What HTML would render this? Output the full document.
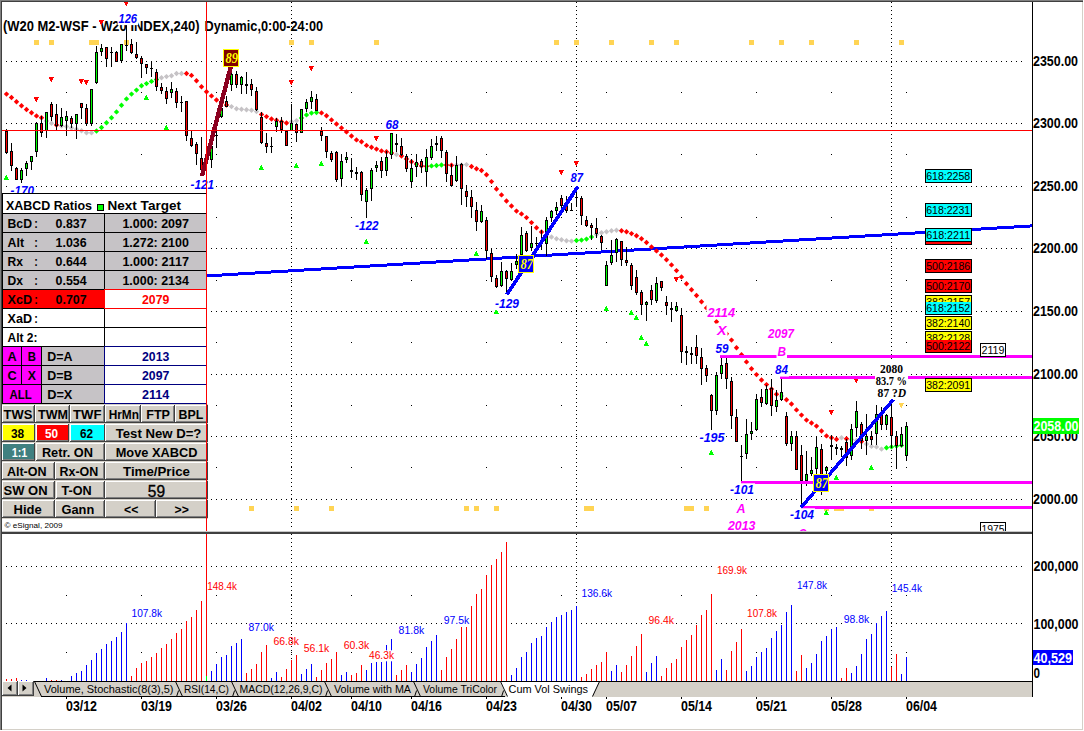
<!DOCTYPE html><html><head><meta charset="utf-8"><title>chart</title><style>html,body{margin:0;padding:0;background:#fff}svg text{white-space:pre}</style></head><body><svg width="1084" height="731" viewBox="0 0 1084 731" style="display:block">
<defs><clipPath id="pp"><rect x="2" y="2" width="1030" height="529"/></clipPath><clipPath id="vp"><rect x="2" y="534" width="1030" height="147"/></clipPath></defs>
<rect x="0" y="0" width="1084" height="731" fill="#fff" />
<g shape-rendering="crispEdges">
<g clip-path="url(#pp)">
<text x="3" y="30.8" font-family='"Liberation Sans",sans-serif' font-size="14.2" font-weight="bold" font-style="normal" fill="#000" text-anchor="start" textLength="196.5" lengthAdjust="spacingAndGlyphs" >(W20 M2-WSF - W20 INDEX,240)</text>
<text x="204.5" y="30.8" font-family='"Liberation Sans",sans-serif' font-size="14.2" font-weight="bold" font-style="normal" fill="#000" text-anchor="start" textLength="118.5" lengthAdjust="spacingAndGlyphs" >Dynamic,0:00-24:00</text>
<path fill="#000" d="M6 61h1v1h-1zM11 61h1v1h-1zM16 61h1v1h-1zM21 61h1v1h-1zM26 61h1v1h-1zM31 61h1v1h-1zM36 61h1v1h-1zM41 61h1v1h-1zM46 61h1v1h-1zM51 61h1v1h-1zM56 61h1v1h-1zM61 61h1v1h-1zM66 61h1v1h-1zM71 61h1v1h-1zM76 61h1v1h-1zM81 61h1v1h-1zM86 61h1v1h-1zM91 61h1v1h-1zM96 61h1v1h-1zM101 61h1v1h-1zM106 61h1v1h-1zM111 61h1v1h-1zM116 61h1v1h-1zM121 61h1v1h-1zM126 61h1v1h-1zM131 61h1v1h-1zM136 61h1v1h-1zM141 61h1v1h-1zM146 61h1v1h-1zM151 61h1v1h-1zM156 61h1v1h-1zM161 61h1v1h-1zM166 61h1v1h-1zM171 61h1v1h-1zM176 61h1v1h-1zM181 61h1v1h-1zM186 61h1v1h-1zM191 61h1v1h-1zM196 61h1v1h-1zM201 61h1v1h-1zM206 61h1v1h-1zM211 61h1v1h-1zM216 61h1v1h-1zM221 61h1v1h-1zM226 61h1v1h-1zM231 61h1v1h-1zM236 61h1v1h-1zM241 61h1v1h-1zM246 61h1v1h-1zM251 61h1v1h-1zM256 61h1v1h-1zM261 61h1v1h-1zM266 61h1v1h-1zM271 61h1v1h-1zM276 61h1v1h-1zM281 61h1v1h-1zM286 61h1v1h-1zM291 61h1v1h-1zM296 61h1v1h-1zM301 61h1v1h-1zM306 61h1v1h-1zM311 61h1v1h-1zM316 61h1v1h-1zM321 61h1v1h-1zM326 61h1v1h-1zM331 61h1v1h-1zM336 61h1v1h-1zM341 61h1v1h-1zM346 61h1v1h-1zM351 61h1v1h-1zM356 61h1v1h-1zM361 61h1v1h-1zM366 61h1v1h-1zM371 61h1v1h-1zM376 61h1v1h-1zM381 61h1v1h-1zM386 61h1v1h-1zM391 61h1v1h-1zM396 61h1v1h-1zM401 61h1v1h-1zM406 61h1v1h-1zM411 61h1v1h-1zM416 61h1v1h-1zM421 61h1v1h-1zM426 61h1v1h-1zM431 61h1v1h-1zM436 61h1v1h-1zM441 61h1v1h-1zM446 61h1v1h-1zM451 61h1v1h-1zM456 61h1v1h-1zM461 61h1v1h-1zM466 61h1v1h-1zM471 61h1v1h-1zM476 61h1v1h-1zM481 61h1v1h-1zM486 61h1v1h-1zM491 61h1v1h-1zM496 61h1v1h-1zM501 61h1v1h-1zM506 61h1v1h-1zM511 61h1v1h-1zM516 61h1v1h-1zM521 61h1v1h-1zM526 61h1v1h-1zM531 61h1v1h-1zM536 61h1v1h-1zM541 61h1v1h-1zM546 61h1v1h-1zM551 61h1v1h-1zM556 61h1v1h-1zM561 61h1v1h-1zM566 61h1v1h-1zM571 61h1v1h-1zM576 61h1v1h-1zM581 61h1v1h-1zM586 61h1v1h-1zM591 61h1v1h-1zM596 61h1v1h-1zM601 61h1v1h-1zM606 61h1v1h-1zM611 61h1v1h-1zM616 61h1v1h-1zM621 61h1v1h-1zM626 61h1v1h-1zM631 61h1v1h-1zM636 61h1v1h-1zM641 61h1v1h-1zM646 61h1v1h-1zM651 61h1v1h-1zM656 61h1v1h-1zM661 61h1v1h-1zM666 61h1v1h-1zM671 61h1v1h-1zM676 61h1v1h-1zM681 61h1v1h-1zM686 61h1v1h-1zM691 61h1v1h-1zM696 61h1v1h-1zM701 61h1v1h-1zM706 61h1v1h-1zM711 61h1v1h-1zM716 61h1v1h-1zM721 61h1v1h-1zM726 61h1v1h-1zM731 61h1v1h-1zM736 61h1v1h-1zM741 61h1v1h-1zM746 61h1v1h-1zM751 61h1v1h-1zM756 61h1v1h-1zM761 61h1v1h-1zM766 61h1v1h-1zM771 61h1v1h-1zM776 61h1v1h-1zM781 61h1v1h-1zM786 61h1v1h-1zM791 61h1v1h-1zM796 61h1v1h-1zM801 61h1v1h-1zM806 61h1v1h-1zM811 61h1v1h-1zM816 61h1v1h-1zM821 61h1v1h-1zM826 61h1v1h-1zM831 61h1v1h-1zM836 61h1v1h-1zM841 61h1v1h-1zM846 61h1v1h-1zM851 61h1v1h-1zM856 61h1v1h-1zM861 61h1v1h-1zM866 61h1v1h-1zM871 61h1v1h-1zM876 61h1v1h-1zM881 61h1v1h-1zM886 61h1v1h-1zM891 61h1v1h-1zM896 61h1v1h-1zM901 61h1v1h-1zM906 61h1v1h-1zM911 61h1v1h-1zM916 61h1v1h-1zM921 61h1v1h-1zM926 61h1v1h-1zM931 61h1v1h-1zM936 61h1v1h-1zM941 61h1v1h-1zM946 61h1v1h-1zM951 61h1v1h-1zM956 61h1v1h-1zM961 61h1v1h-1zM966 61h1v1h-1zM971 61h1v1h-1zM976 61h1v1h-1zM981 61h1v1h-1zM986 61h1v1h-1zM991 61h1v1h-1zM996 61h1v1h-1zM1001 61h1v1h-1zM1006 61h1v1h-1zM1011 61h1v1h-1zM1016 61h1v1h-1zM1021 61h1v1h-1zM6 123h1v1h-1zM11 123h1v1h-1zM16 123h1v1h-1zM21 123h1v1h-1zM26 123h1v1h-1zM31 123h1v1h-1zM36 123h1v1h-1zM41 123h1v1h-1zM46 123h1v1h-1zM51 123h1v1h-1zM56 123h1v1h-1zM61 123h1v1h-1zM66 123h1v1h-1zM71 123h1v1h-1zM76 123h1v1h-1zM81 123h1v1h-1zM86 123h1v1h-1zM91 123h1v1h-1zM96 123h1v1h-1zM101 123h1v1h-1zM106 123h1v1h-1zM111 123h1v1h-1zM116 123h1v1h-1zM121 123h1v1h-1zM126 123h1v1h-1zM131 123h1v1h-1zM136 123h1v1h-1zM141 123h1v1h-1zM146 123h1v1h-1zM151 123h1v1h-1zM156 123h1v1h-1zM161 123h1v1h-1zM166 123h1v1h-1zM171 123h1v1h-1zM176 123h1v1h-1zM181 123h1v1h-1zM186 123h1v1h-1zM191 123h1v1h-1zM196 123h1v1h-1zM201 123h1v1h-1zM206 123h1v1h-1zM211 123h1v1h-1zM216 123h1v1h-1zM221 123h1v1h-1zM226 123h1v1h-1zM231 123h1v1h-1zM236 123h1v1h-1zM241 123h1v1h-1zM246 123h1v1h-1zM251 123h1v1h-1zM256 123h1v1h-1zM261 123h1v1h-1zM266 123h1v1h-1zM271 123h1v1h-1zM276 123h1v1h-1zM281 123h1v1h-1zM286 123h1v1h-1zM291 123h1v1h-1zM296 123h1v1h-1zM301 123h1v1h-1zM306 123h1v1h-1zM311 123h1v1h-1zM316 123h1v1h-1zM321 123h1v1h-1zM326 123h1v1h-1zM331 123h1v1h-1zM336 123h1v1h-1zM341 123h1v1h-1zM346 123h1v1h-1zM351 123h1v1h-1zM356 123h1v1h-1zM361 123h1v1h-1zM366 123h1v1h-1zM371 123h1v1h-1zM376 123h1v1h-1zM381 123h1v1h-1zM386 123h1v1h-1zM391 123h1v1h-1zM396 123h1v1h-1zM401 123h1v1h-1zM406 123h1v1h-1zM411 123h1v1h-1zM416 123h1v1h-1zM421 123h1v1h-1zM426 123h1v1h-1zM431 123h1v1h-1zM436 123h1v1h-1zM441 123h1v1h-1zM446 123h1v1h-1zM451 123h1v1h-1zM456 123h1v1h-1zM461 123h1v1h-1zM466 123h1v1h-1zM471 123h1v1h-1zM476 123h1v1h-1zM481 123h1v1h-1zM486 123h1v1h-1zM491 123h1v1h-1zM496 123h1v1h-1zM501 123h1v1h-1zM506 123h1v1h-1zM511 123h1v1h-1zM516 123h1v1h-1zM521 123h1v1h-1zM526 123h1v1h-1zM531 123h1v1h-1zM536 123h1v1h-1zM541 123h1v1h-1zM546 123h1v1h-1zM551 123h1v1h-1zM556 123h1v1h-1zM561 123h1v1h-1zM566 123h1v1h-1zM571 123h1v1h-1zM576 123h1v1h-1zM581 123h1v1h-1zM586 123h1v1h-1zM591 123h1v1h-1zM596 123h1v1h-1zM601 123h1v1h-1zM606 123h1v1h-1zM611 123h1v1h-1zM616 123h1v1h-1zM621 123h1v1h-1zM626 123h1v1h-1zM631 123h1v1h-1zM636 123h1v1h-1zM641 123h1v1h-1zM646 123h1v1h-1zM651 123h1v1h-1zM656 123h1v1h-1zM661 123h1v1h-1zM666 123h1v1h-1zM671 123h1v1h-1zM676 123h1v1h-1zM681 123h1v1h-1zM686 123h1v1h-1zM691 123h1v1h-1zM696 123h1v1h-1zM701 123h1v1h-1zM706 123h1v1h-1zM711 123h1v1h-1zM716 123h1v1h-1zM721 123h1v1h-1zM726 123h1v1h-1zM731 123h1v1h-1zM736 123h1v1h-1zM741 123h1v1h-1zM746 123h1v1h-1zM751 123h1v1h-1zM756 123h1v1h-1zM761 123h1v1h-1zM766 123h1v1h-1zM771 123h1v1h-1zM776 123h1v1h-1zM781 123h1v1h-1zM786 123h1v1h-1zM791 123h1v1h-1zM796 123h1v1h-1zM801 123h1v1h-1zM806 123h1v1h-1zM811 123h1v1h-1zM816 123h1v1h-1zM821 123h1v1h-1zM826 123h1v1h-1zM831 123h1v1h-1zM836 123h1v1h-1zM841 123h1v1h-1zM846 123h1v1h-1zM851 123h1v1h-1zM856 123h1v1h-1zM861 123h1v1h-1zM866 123h1v1h-1zM871 123h1v1h-1zM876 123h1v1h-1zM881 123h1v1h-1zM886 123h1v1h-1zM891 123h1v1h-1zM896 123h1v1h-1zM901 123h1v1h-1zM906 123h1v1h-1zM911 123h1v1h-1zM916 123h1v1h-1zM921 123h1v1h-1zM926 123h1v1h-1zM931 123h1v1h-1zM936 123h1v1h-1zM941 123h1v1h-1zM946 123h1v1h-1zM951 123h1v1h-1zM956 123h1v1h-1zM961 123h1v1h-1zM966 123h1v1h-1zM971 123h1v1h-1zM976 123h1v1h-1zM981 123h1v1h-1zM986 123h1v1h-1zM991 123h1v1h-1zM996 123h1v1h-1zM1001 123h1v1h-1zM1006 123h1v1h-1zM1011 123h1v1h-1zM1016 123h1v1h-1zM1021 123h1v1h-1zM6 186h1v1h-1zM11 186h1v1h-1zM16 186h1v1h-1zM21 186h1v1h-1zM26 186h1v1h-1zM31 186h1v1h-1zM36 186h1v1h-1zM41 186h1v1h-1zM46 186h1v1h-1zM51 186h1v1h-1zM56 186h1v1h-1zM61 186h1v1h-1zM66 186h1v1h-1zM71 186h1v1h-1zM76 186h1v1h-1zM81 186h1v1h-1zM86 186h1v1h-1zM91 186h1v1h-1zM96 186h1v1h-1zM101 186h1v1h-1zM106 186h1v1h-1zM111 186h1v1h-1zM116 186h1v1h-1zM121 186h1v1h-1zM126 186h1v1h-1zM131 186h1v1h-1zM136 186h1v1h-1zM141 186h1v1h-1zM146 186h1v1h-1zM151 186h1v1h-1zM156 186h1v1h-1zM161 186h1v1h-1zM166 186h1v1h-1zM171 186h1v1h-1zM176 186h1v1h-1zM181 186h1v1h-1zM186 186h1v1h-1zM191 186h1v1h-1zM196 186h1v1h-1zM201 186h1v1h-1zM206 186h1v1h-1zM211 186h1v1h-1zM216 186h1v1h-1zM221 186h1v1h-1zM226 186h1v1h-1zM231 186h1v1h-1zM236 186h1v1h-1zM241 186h1v1h-1zM246 186h1v1h-1zM251 186h1v1h-1zM256 186h1v1h-1zM261 186h1v1h-1zM266 186h1v1h-1zM271 186h1v1h-1zM276 186h1v1h-1zM281 186h1v1h-1zM286 186h1v1h-1zM291 186h1v1h-1zM296 186h1v1h-1zM301 186h1v1h-1zM306 186h1v1h-1zM311 186h1v1h-1zM316 186h1v1h-1zM321 186h1v1h-1zM326 186h1v1h-1zM331 186h1v1h-1zM336 186h1v1h-1zM341 186h1v1h-1zM346 186h1v1h-1zM351 186h1v1h-1zM356 186h1v1h-1zM361 186h1v1h-1zM366 186h1v1h-1zM371 186h1v1h-1zM376 186h1v1h-1zM381 186h1v1h-1zM386 186h1v1h-1zM391 186h1v1h-1zM396 186h1v1h-1zM401 186h1v1h-1zM406 186h1v1h-1zM411 186h1v1h-1zM416 186h1v1h-1zM421 186h1v1h-1zM426 186h1v1h-1zM431 186h1v1h-1zM436 186h1v1h-1zM441 186h1v1h-1zM446 186h1v1h-1zM451 186h1v1h-1zM456 186h1v1h-1zM461 186h1v1h-1zM466 186h1v1h-1zM471 186h1v1h-1zM476 186h1v1h-1zM481 186h1v1h-1zM486 186h1v1h-1zM491 186h1v1h-1zM496 186h1v1h-1zM501 186h1v1h-1zM506 186h1v1h-1zM511 186h1v1h-1zM516 186h1v1h-1zM521 186h1v1h-1zM526 186h1v1h-1zM531 186h1v1h-1zM536 186h1v1h-1zM541 186h1v1h-1zM546 186h1v1h-1zM551 186h1v1h-1zM556 186h1v1h-1zM561 186h1v1h-1zM566 186h1v1h-1zM571 186h1v1h-1zM576 186h1v1h-1zM581 186h1v1h-1zM586 186h1v1h-1zM591 186h1v1h-1zM596 186h1v1h-1zM601 186h1v1h-1zM606 186h1v1h-1zM611 186h1v1h-1zM616 186h1v1h-1zM621 186h1v1h-1zM626 186h1v1h-1zM631 186h1v1h-1zM636 186h1v1h-1zM641 186h1v1h-1zM646 186h1v1h-1zM651 186h1v1h-1zM656 186h1v1h-1zM661 186h1v1h-1zM666 186h1v1h-1zM671 186h1v1h-1zM676 186h1v1h-1zM681 186h1v1h-1zM686 186h1v1h-1zM691 186h1v1h-1zM696 186h1v1h-1zM701 186h1v1h-1zM706 186h1v1h-1zM711 186h1v1h-1zM716 186h1v1h-1zM721 186h1v1h-1zM726 186h1v1h-1zM731 186h1v1h-1zM736 186h1v1h-1zM741 186h1v1h-1zM746 186h1v1h-1zM751 186h1v1h-1zM756 186h1v1h-1zM761 186h1v1h-1zM766 186h1v1h-1zM771 186h1v1h-1zM776 186h1v1h-1zM781 186h1v1h-1zM786 186h1v1h-1zM791 186h1v1h-1zM796 186h1v1h-1zM801 186h1v1h-1zM806 186h1v1h-1zM811 186h1v1h-1zM816 186h1v1h-1zM821 186h1v1h-1zM826 186h1v1h-1zM831 186h1v1h-1zM836 186h1v1h-1zM841 186h1v1h-1zM846 186h1v1h-1zM851 186h1v1h-1zM856 186h1v1h-1zM861 186h1v1h-1zM866 186h1v1h-1zM871 186h1v1h-1zM876 186h1v1h-1zM881 186h1v1h-1zM886 186h1v1h-1zM891 186h1v1h-1zM896 186h1v1h-1zM901 186h1v1h-1zM906 186h1v1h-1zM911 186h1v1h-1zM916 186h1v1h-1zM921 186h1v1h-1zM926 186h1v1h-1zM931 186h1v1h-1zM936 186h1v1h-1zM941 186h1v1h-1zM946 186h1v1h-1zM951 186h1v1h-1zM956 186h1v1h-1zM961 186h1v1h-1zM966 186h1v1h-1zM971 186h1v1h-1zM976 186h1v1h-1zM981 186h1v1h-1zM986 186h1v1h-1zM991 186h1v1h-1zM996 186h1v1h-1zM1001 186h1v1h-1zM1006 186h1v1h-1zM1011 186h1v1h-1zM1016 186h1v1h-1zM1021 186h1v1h-1zM6 248h1v1h-1zM11 248h1v1h-1zM16 248h1v1h-1zM21 248h1v1h-1zM26 248h1v1h-1zM31 248h1v1h-1zM36 248h1v1h-1zM41 248h1v1h-1zM46 248h1v1h-1zM51 248h1v1h-1zM56 248h1v1h-1zM61 248h1v1h-1zM66 248h1v1h-1zM71 248h1v1h-1zM76 248h1v1h-1zM81 248h1v1h-1zM86 248h1v1h-1zM91 248h1v1h-1zM96 248h1v1h-1zM101 248h1v1h-1zM106 248h1v1h-1zM111 248h1v1h-1zM116 248h1v1h-1zM121 248h1v1h-1zM126 248h1v1h-1zM131 248h1v1h-1zM136 248h1v1h-1zM141 248h1v1h-1zM146 248h1v1h-1zM151 248h1v1h-1zM156 248h1v1h-1zM161 248h1v1h-1zM166 248h1v1h-1zM171 248h1v1h-1zM176 248h1v1h-1zM181 248h1v1h-1zM186 248h1v1h-1zM191 248h1v1h-1zM196 248h1v1h-1zM201 248h1v1h-1zM206 248h1v1h-1zM211 248h1v1h-1zM216 248h1v1h-1zM221 248h1v1h-1zM226 248h1v1h-1zM231 248h1v1h-1zM236 248h1v1h-1zM241 248h1v1h-1zM246 248h1v1h-1zM251 248h1v1h-1zM256 248h1v1h-1zM261 248h1v1h-1zM266 248h1v1h-1zM271 248h1v1h-1zM276 248h1v1h-1zM281 248h1v1h-1zM286 248h1v1h-1zM291 248h1v1h-1zM296 248h1v1h-1zM301 248h1v1h-1zM306 248h1v1h-1zM311 248h1v1h-1zM316 248h1v1h-1zM321 248h1v1h-1zM326 248h1v1h-1zM331 248h1v1h-1zM336 248h1v1h-1zM341 248h1v1h-1zM346 248h1v1h-1zM351 248h1v1h-1zM356 248h1v1h-1zM361 248h1v1h-1zM366 248h1v1h-1zM371 248h1v1h-1zM376 248h1v1h-1zM381 248h1v1h-1zM386 248h1v1h-1zM391 248h1v1h-1zM396 248h1v1h-1zM401 248h1v1h-1zM406 248h1v1h-1zM411 248h1v1h-1zM416 248h1v1h-1zM421 248h1v1h-1zM426 248h1v1h-1zM431 248h1v1h-1zM436 248h1v1h-1zM441 248h1v1h-1zM446 248h1v1h-1zM451 248h1v1h-1zM456 248h1v1h-1zM461 248h1v1h-1zM466 248h1v1h-1zM471 248h1v1h-1zM476 248h1v1h-1zM481 248h1v1h-1zM486 248h1v1h-1zM491 248h1v1h-1zM496 248h1v1h-1zM501 248h1v1h-1zM506 248h1v1h-1zM511 248h1v1h-1zM516 248h1v1h-1zM521 248h1v1h-1zM526 248h1v1h-1zM531 248h1v1h-1zM536 248h1v1h-1zM541 248h1v1h-1zM546 248h1v1h-1zM551 248h1v1h-1zM556 248h1v1h-1zM561 248h1v1h-1zM566 248h1v1h-1zM571 248h1v1h-1zM576 248h1v1h-1zM581 248h1v1h-1zM586 248h1v1h-1zM591 248h1v1h-1zM596 248h1v1h-1zM601 248h1v1h-1zM606 248h1v1h-1zM611 248h1v1h-1zM616 248h1v1h-1zM621 248h1v1h-1zM626 248h1v1h-1zM631 248h1v1h-1zM636 248h1v1h-1zM641 248h1v1h-1zM646 248h1v1h-1zM651 248h1v1h-1zM656 248h1v1h-1zM661 248h1v1h-1zM666 248h1v1h-1zM671 248h1v1h-1zM676 248h1v1h-1zM681 248h1v1h-1zM686 248h1v1h-1zM691 248h1v1h-1zM696 248h1v1h-1zM701 248h1v1h-1zM706 248h1v1h-1zM711 248h1v1h-1zM716 248h1v1h-1zM721 248h1v1h-1zM726 248h1v1h-1zM731 248h1v1h-1zM736 248h1v1h-1zM741 248h1v1h-1zM746 248h1v1h-1zM751 248h1v1h-1zM756 248h1v1h-1zM761 248h1v1h-1zM766 248h1v1h-1zM771 248h1v1h-1zM776 248h1v1h-1zM781 248h1v1h-1zM786 248h1v1h-1zM791 248h1v1h-1zM796 248h1v1h-1zM801 248h1v1h-1zM806 248h1v1h-1zM811 248h1v1h-1zM816 248h1v1h-1zM821 248h1v1h-1zM826 248h1v1h-1zM831 248h1v1h-1zM836 248h1v1h-1zM841 248h1v1h-1zM846 248h1v1h-1zM851 248h1v1h-1zM856 248h1v1h-1zM861 248h1v1h-1zM866 248h1v1h-1zM871 248h1v1h-1zM876 248h1v1h-1zM881 248h1v1h-1zM886 248h1v1h-1zM891 248h1v1h-1zM896 248h1v1h-1zM901 248h1v1h-1zM906 248h1v1h-1zM911 248h1v1h-1zM916 248h1v1h-1zM921 248h1v1h-1zM926 248h1v1h-1zM931 248h1v1h-1zM936 248h1v1h-1zM941 248h1v1h-1zM946 248h1v1h-1zM951 248h1v1h-1zM956 248h1v1h-1zM961 248h1v1h-1zM966 248h1v1h-1zM971 248h1v1h-1zM976 248h1v1h-1zM981 248h1v1h-1zM986 248h1v1h-1zM991 248h1v1h-1zM996 248h1v1h-1zM1001 248h1v1h-1zM1006 248h1v1h-1zM1011 248h1v1h-1zM1016 248h1v1h-1zM1021 248h1v1h-1zM6 311h1v1h-1zM11 311h1v1h-1zM16 311h1v1h-1zM21 311h1v1h-1zM26 311h1v1h-1zM31 311h1v1h-1zM36 311h1v1h-1zM41 311h1v1h-1zM46 311h1v1h-1zM51 311h1v1h-1zM56 311h1v1h-1zM61 311h1v1h-1zM66 311h1v1h-1zM71 311h1v1h-1zM76 311h1v1h-1zM81 311h1v1h-1zM86 311h1v1h-1zM91 311h1v1h-1zM96 311h1v1h-1zM101 311h1v1h-1zM106 311h1v1h-1zM111 311h1v1h-1zM116 311h1v1h-1zM121 311h1v1h-1zM126 311h1v1h-1zM131 311h1v1h-1zM136 311h1v1h-1zM141 311h1v1h-1zM146 311h1v1h-1zM151 311h1v1h-1zM156 311h1v1h-1zM161 311h1v1h-1zM166 311h1v1h-1zM171 311h1v1h-1zM176 311h1v1h-1zM181 311h1v1h-1zM186 311h1v1h-1zM191 311h1v1h-1zM196 311h1v1h-1zM201 311h1v1h-1zM206 311h1v1h-1zM211 311h1v1h-1zM216 311h1v1h-1zM221 311h1v1h-1zM226 311h1v1h-1zM231 311h1v1h-1zM236 311h1v1h-1zM241 311h1v1h-1zM246 311h1v1h-1zM251 311h1v1h-1zM256 311h1v1h-1zM261 311h1v1h-1zM266 311h1v1h-1zM271 311h1v1h-1zM276 311h1v1h-1zM281 311h1v1h-1zM286 311h1v1h-1zM291 311h1v1h-1zM296 311h1v1h-1zM301 311h1v1h-1zM306 311h1v1h-1zM311 311h1v1h-1zM316 311h1v1h-1zM321 311h1v1h-1zM326 311h1v1h-1zM331 311h1v1h-1zM336 311h1v1h-1zM341 311h1v1h-1zM346 311h1v1h-1zM351 311h1v1h-1zM356 311h1v1h-1zM361 311h1v1h-1zM366 311h1v1h-1zM371 311h1v1h-1zM376 311h1v1h-1zM381 311h1v1h-1zM386 311h1v1h-1zM391 311h1v1h-1zM396 311h1v1h-1zM401 311h1v1h-1zM406 311h1v1h-1zM411 311h1v1h-1zM416 311h1v1h-1zM421 311h1v1h-1zM426 311h1v1h-1zM431 311h1v1h-1zM436 311h1v1h-1zM441 311h1v1h-1zM446 311h1v1h-1zM451 311h1v1h-1zM456 311h1v1h-1zM461 311h1v1h-1zM466 311h1v1h-1zM471 311h1v1h-1zM476 311h1v1h-1zM481 311h1v1h-1zM486 311h1v1h-1zM491 311h1v1h-1zM496 311h1v1h-1zM501 311h1v1h-1zM506 311h1v1h-1zM511 311h1v1h-1zM516 311h1v1h-1zM521 311h1v1h-1zM526 311h1v1h-1zM531 311h1v1h-1zM536 311h1v1h-1zM541 311h1v1h-1zM546 311h1v1h-1zM551 311h1v1h-1zM556 311h1v1h-1zM561 311h1v1h-1zM566 311h1v1h-1zM571 311h1v1h-1zM576 311h1v1h-1zM581 311h1v1h-1zM586 311h1v1h-1zM591 311h1v1h-1zM596 311h1v1h-1zM601 311h1v1h-1zM606 311h1v1h-1zM611 311h1v1h-1zM616 311h1v1h-1zM621 311h1v1h-1zM626 311h1v1h-1zM631 311h1v1h-1zM636 311h1v1h-1zM641 311h1v1h-1zM646 311h1v1h-1zM651 311h1v1h-1zM656 311h1v1h-1zM661 311h1v1h-1zM666 311h1v1h-1zM671 311h1v1h-1zM676 311h1v1h-1zM681 311h1v1h-1zM686 311h1v1h-1zM691 311h1v1h-1zM696 311h1v1h-1zM701 311h1v1h-1zM706 311h1v1h-1zM711 311h1v1h-1zM716 311h1v1h-1zM721 311h1v1h-1zM726 311h1v1h-1zM731 311h1v1h-1zM736 311h1v1h-1zM741 311h1v1h-1zM746 311h1v1h-1zM751 311h1v1h-1zM756 311h1v1h-1zM761 311h1v1h-1zM766 311h1v1h-1zM771 311h1v1h-1zM776 311h1v1h-1zM781 311h1v1h-1zM786 311h1v1h-1zM791 311h1v1h-1zM796 311h1v1h-1zM801 311h1v1h-1zM806 311h1v1h-1zM811 311h1v1h-1zM816 311h1v1h-1zM821 311h1v1h-1zM826 311h1v1h-1zM831 311h1v1h-1zM836 311h1v1h-1zM841 311h1v1h-1zM846 311h1v1h-1zM851 311h1v1h-1zM856 311h1v1h-1zM861 311h1v1h-1zM866 311h1v1h-1zM871 311h1v1h-1zM876 311h1v1h-1zM881 311h1v1h-1zM886 311h1v1h-1zM891 311h1v1h-1zM896 311h1v1h-1zM901 311h1v1h-1zM906 311h1v1h-1zM911 311h1v1h-1zM916 311h1v1h-1zM921 311h1v1h-1zM926 311h1v1h-1zM931 311h1v1h-1zM936 311h1v1h-1zM941 311h1v1h-1zM946 311h1v1h-1zM951 311h1v1h-1zM956 311h1v1h-1zM961 311h1v1h-1zM966 311h1v1h-1zM971 311h1v1h-1zM976 311h1v1h-1zM981 311h1v1h-1zM986 311h1v1h-1zM991 311h1v1h-1zM996 311h1v1h-1zM1001 311h1v1h-1zM1006 311h1v1h-1zM1011 311h1v1h-1zM1016 311h1v1h-1zM1021 311h1v1h-1zM6 374h1v1h-1zM11 374h1v1h-1zM16 374h1v1h-1zM21 374h1v1h-1zM26 374h1v1h-1zM31 374h1v1h-1zM36 374h1v1h-1zM41 374h1v1h-1zM46 374h1v1h-1zM51 374h1v1h-1zM56 374h1v1h-1zM61 374h1v1h-1zM66 374h1v1h-1zM71 374h1v1h-1zM76 374h1v1h-1zM81 374h1v1h-1zM86 374h1v1h-1zM91 374h1v1h-1zM96 374h1v1h-1zM101 374h1v1h-1zM106 374h1v1h-1zM111 374h1v1h-1zM116 374h1v1h-1zM121 374h1v1h-1zM126 374h1v1h-1zM131 374h1v1h-1zM136 374h1v1h-1zM141 374h1v1h-1zM146 374h1v1h-1zM151 374h1v1h-1zM156 374h1v1h-1zM161 374h1v1h-1zM166 374h1v1h-1zM171 374h1v1h-1zM176 374h1v1h-1zM181 374h1v1h-1zM186 374h1v1h-1zM191 374h1v1h-1zM196 374h1v1h-1zM201 374h1v1h-1zM206 374h1v1h-1zM211 374h1v1h-1zM216 374h1v1h-1zM221 374h1v1h-1zM226 374h1v1h-1zM231 374h1v1h-1zM236 374h1v1h-1zM241 374h1v1h-1zM246 374h1v1h-1zM251 374h1v1h-1zM256 374h1v1h-1zM261 374h1v1h-1zM266 374h1v1h-1zM271 374h1v1h-1zM276 374h1v1h-1zM281 374h1v1h-1zM286 374h1v1h-1zM291 374h1v1h-1zM296 374h1v1h-1zM301 374h1v1h-1zM306 374h1v1h-1zM311 374h1v1h-1zM316 374h1v1h-1zM321 374h1v1h-1zM326 374h1v1h-1zM331 374h1v1h-1zM336 374h1v1h-1zM341 374h1v1h-1zM346 374h1v1h-1zM351 374h1v1h-1zM356 374h1v1h-1zM361 374h1v1h-1zM366 374h1v1h-1zM371 374h1v1h-1zM376 374h1v1h-1zM381 374h1v1h-1zM386 374h1v1h-1zM391 374h1v1h-1zM396 374h1v1h-1zM401 374h1v1h-1zM406 374h1v1h-1zM411 374h1v1h-1zM416 374h1v1h-1zM421 374h1v1h-1zM426 374h1v1h-1zM431 374h1v1h-1zM436 374h1v1h-1zM441 374h1v1h-1zM446 374h1v1h-1zM451 374h1v1h-1zM456 374h1v1h-1zM461 374h1v1h-1zM466 374h1v1h-1zM471 374h1v1h-1zM476 374h1v1h-1zM481 374h1v1h-1zM486 374h1v1h-1zM491 374h1v1h-1zM496 374h1v1h-1zM501 374h1v1h-1zM506 374h1v1h-1zM511 374h1v1h-1zM516 374h1v1h-1zM521 374h1v1h-1zM526 374h1v1h-1zM531 374h1v1h-1zM536 374h1v1h-1zM541 374h1v1h-1zM546 374h1v1h-1zM551 374h1v1h-1zM556 374h1v1h-1zM561 374h1v1h-1zM566 374h1v1h-1zM571 374h1v1h-1zM576 374h1v1h-1zM581 374h1v1h-1zM586 374h1v1h-1zM591 374h1v1h-1zM596 374h1v1h-1zM601 374h1v1h-1zM606 374h1v1h-1zM611 374h1v1h-1zM616 374h1v1h-1zM621 374h1v1h-1zM626 374h1v1h-1zM631 374h1v1h-1zM636 374h1v1h-1zM641 374h1v1h-1zM646 374h1v1h-1zM651 374h1v1h-1zM656 374h1v1h-1zM661 374h1v1h-1zM666 374h1v1h-1zM671 374h1v1h-1zM676 374h1v1h-1zM681 374h1v1h-1zM686 374h1v1h-1zM691 374h1v1h-1zM696 374h1v1h-1zM701 374h1v1h-1zM706 374h1v1h-1zM711 374h1v1h-1zM716 374h1v1h-1zM721 374h1v1h-1zM726 374h1v1h-1zM731 374h1v1h-1zM736 374h1v1h-1zM741 374h1v1h-1zM746 374h1v1h-1zM751 374h1v1h-1zM756 374h1v1h-1zM761 374h1v1h-1zM766 374h1v1h-1zM771 374h1v1h-1zM776 374h1v1h-1zM781 374h1v1h-1zM786 374h1v1h-1zM791 374h1v1h-1zM796 374h1v1h-1zM801 374h1v1h-1zM806 374h1v1h-1zM811 374h1v1h-1zM816 374h1v1h-1zM821 374h1v1h-1zM826 374h1v1h-1zM831 374h1v1h-1zM836 374h1v1h-1zM841 374h1v1h-1zM846 374h1v1h-1zM851 374h1v1h-1zM856 374h1v1h-1zM861 374h1v1h-1zM866 374h1v1h-1zM871 374h1v1h-1zM876 374h1v1h-1zM881 374h1v1h-1zM886 374h1v1h-1zM891 374h1v1h-1zM896 374h1v1h-1zM901 374h1v1h-1zM906 374h1v1h-1zM911 374h1v1h-1zM916 374h1v1h-1zM921 374h1v1h-1zM926 374h1v1h-1zM931 374h1v1h-1zM936 374h1v1h-1zM941 374h1v1h-1zM946 374h1v1h-1zM951 374h1v1h-1zM956 374h1v1h-1zM961 374h1v1h-1zM966 374h1v1h-1zM971 374h1v1h-1zM976 374h1v1h-1zM981 374h1v1h-1zM986 374h1v1h-1zM991 374h1v1h-1zM996 374h1v1h-1zM1001 374h1v1h-1zM1006 374h1v1h-1zM1011 374h1v1h-1zM1016 374h1v1h-1zM1021 374h1v1h-1zM6 436h1v1h-1zM11 436h1v1h-1zM16 436h1v1h-1zM21 436h1v1h-1zM26 436h1v1h-1zM31 436h1v1h-1zM36 436h1v1h-1zM41 436h1v1h-1zM46 436h1v1h-1zM51 436h1v1h-1zM56 436h1v1h-1zM61 436h1v1h-1zM66 436h1v1h-1zM71 436h1v1h-1zM76 436h1v1h-1zM81 436h1v1h-1zM86 436h1v1h-1zM91 436h1v1h-1zM96 436h1v1h-1zM101 436h1v1h-1zM106 436h1v1h-1zM111 436h1v1h-1zM116 436h1v1h-1zM121 436h1v1h-1zM126 436h1v1h-1zM131 436h1v1h-1zM136 436h1v1h-1zM141 436h1v1h-1zM146 436h1v1h-1zM151 436h1v1h-1zM156 436h1v1h-1zM161 436h1v1h-1zM166 436h1v1h-1zM171 436h1v1h-1zM176 436h1v1h-1zM181 436h1v1h-1zM186 436h1v1h-1zM191 436h1v1h-1zM196 436h1v1h-1zM201 436h1v1h-1zM206 436h1v1h-1zM211 436h1v1h-1zM216 436h1v1h-1zM221 436h1v1h-1zM226 436h1v1h-1zM231 436h1v1h-1zM236 436h1v1h-1zM241 436h1v1h-1zM246 436h1v1h-1zM251 436h1v1h-1zM256 436h1v1h-1zM261 436h1v1h-1zM266 436h1v1h-1zM271 436h1v1h-1zM276 436h1v1h-1zM281 436h1v1h-1zM286 436h1v1h-1zM291 436h1v1h-1zM296 436h1v1h-1zM301 436h1v1h-1zM306 436h1v1h-1zM311 436h1v1h-1zM316 436h1v1h-1zM321 436h1v1h-1zM326 436h1v1h-1zM331 436h1v1h-1zM336 436h1v1h-1zM341 436h1v1h-1zM346 436h1v1h-1zM351 436h1v1h-1zM356 436h1v1h-1zM361 436h1v1h-1zM366 436h1v1h-1zM371 436h1v1h-1zM376 436h1v1h-1zM381 436h1v1h-1zM386 436h1v1h-1zM391 436h1v1h-1zM396 436h1v1h-1zM401 436h1v1h-1zM406 436h1v1h-1zM411 436h1v1h-1zM416 436h1v1h-1zM421 436h1v1h-1zM426 436h1v1h-1zM431 436h1v1h-1zM436 436h1v1h-1zM441 436h1v1h-1zM446 436h1v1h-1zM451 436h1v1h-1zM456 436h1v1h-1zM461 436h1v1h-1zM466 436h1v1h-1zM471 436h1v1h-1zM476 436h1v1h-1zM481 436h1v1h-1zM486 436h1v1h-1zM491 436h1v1h-1zM496 436h1v1h-1zM501 436h1v1h-1zM506 436h1v1h-1zM511 436h1v1h-1zM516 436h1v1h-1zM521 436h1v1h-1zM526 436h1v1h-1zM531 436h1v1h-1zM536 436h1v1h-1zM541 436h1v1h-1zM546 436h1v1h-1zM551 436h1v1h-1zM556 436h1v1h-1zM561 436h1v1h-1zM566 436h1v1h-1zM571 436h1v1h-1zM576 436h1v1h-1zM581 436h1v1h-1zM586 436h1v1h-1zM591 436h1v1h-1zM596 436h1v1h-1zM601 436h1v1h-1zM606 436h1v1h-1zM611 436h1v1h-1zM616 436h1v1h-1zM621 436h1v1h-1zM626 436h1v1h-1zM631 436h1v1h-1zM636 436h1v1h-1zM641 436h1v1h-1zM646 436h1v1h-1zM651 436h1v1h-1zM656 436h1v1h-1zM661 436h1v1h-1zM666 436h1v1h-1zM671 436h1v1h-1zM676 436h1v1h-1zM681 436h1v1h-1zM686 436h1v1h-1zM691 436h1v1h-1zM696 436h1v1h-1zM701 436h1v1h-1zM706 436h1v1h-1zM711 436h1v1h-1zM716 436h1v1h-1zM721 436h1v1h-1zM726 436h1v1h-1zM731 436h1v1h-1zM736 436h1v1h-1zM741 436h1v1h-1zM746 436h1v1h-1zM751 436h1v1h-1zM756 436h1v1h-1zM761 436h1v1h-1zM766 436h1v1h-1zM771 436h1v1h-1zM776 436h1v1h-1zM781 436h1v1h-1zM786 436h1v1h-1zM791 436h1v1h-1zM796 436h1v1h-1zM801 436h1v1h-1zM806 436h1v1h-1zM811 436h1v1h-1zM816 436h1v1h-1zM821 436h1v1h-1zM826 436h1v1h-1zM831 436h1v1h-1zM836 436h1v1h-1zM841 436h1v1h-1zM846 436h1v1h-1zM851 436h1v1h-1zM856 436h1v1h-1zM861 436h1v1h-1zM866 436h1v1h-1zM871 436h1v1h-1zM876 436h1v1h-1zM881 436h1v1h-1zM886 436h1v1h-1zM891 436h1v1h-1zM896 436h1v1h-1zM901 436h1v1h-1zM906 436h1v1h-1zM911 436h1v1h-1zM916 436h1v1h-1zM921 436h1v1h-1zM926 436h1v1h-1zM931 436h1v1h-1zM936 436h1v1h-1zM941 436h1v1h-1zM946 436h1v1h-1zM951 436h1v1h-1zM956 436h1v1h-1zM961 436h1v1h-1zM966 436h1v1h-1zM971 436h1v1h-1zM976 436h1v1h-1zM981 436h1v1h-1zM986 436h1v1h-1zM991 436h1v1h-1zM996 436h1v1h-1zM1001 436h1v1h-1zM1006 436h1v1h-1zM1011 436h1v1h-1zM1016 436h1v1h-1zM1021 436h1v1h-1zM6 499h1v1h-1zM11 499h1v1h-1zM16 499h1v1h-1zM21 499h1v1h-1zM26 499h1v1h-1zM31 499h1v1h-1zM36 499h1v1h-1zM41 499h1v1h-1zM46 499h1v1h-1zM51 499h1v1h-1zM56 499h1v1h-1zM61 499h1v1h-1zM66 499h1v1h-1zM71 499h1v1h-1zM76 499h1v1h-1zM81 499h1v1h-1zM86 499h1v1h-1zM91 499h1v1h-1zM96 499h1v1h-1zM101 499h1v1h-1zM106 499h1v1h-1zM111 499h1v1h-1zM116 499h1v1h-1zM121 499h1v1h-1zM126 499h1v1h-1zM131 499h1v1h-1zM136 499h1v1h-1zM141 499h1v1h-1zM146 499h1v1h-1zM151 499h1v1h-1zM156 499h1v1h-1zM161 499h1v1h-1zM166 499h1v1h-1zM171 499h1v1h-1zM176 499h1v1h-1zM181 499h1v1h-1zM186 499h1v1h-1zM191 499h1v1h-1zM196 499h1v1h-1zM201 499h1v1h-1zM206 499h1v1h-1zM211 499h1v1h-1zM216 499h1v1h-1zM221 499h1v1h-1zM226 499h1v1h-1zM231 499h1v1h-1zM236 499h1v1h-1zM241 499h1v1h-1zM246 499h1v1h-1zM251 499h1v1h-1zM256 499h1v1h-1zM261 499h1v1h-1zM266 499h1v1h-1zM271 499h1v1h-1zM276 499h1v1h-1zM281 499h1v1h-1zM286 499h1v1h-1zM291 499h1v1h-1zM296 499h1v1h-1zM301 499h1v1h-1zM306 499h1v1h-1zM311 499h1v1h-1zM316 499h1v1h-1zM321 499h1v1h-1zM326 499h1v1h-1zM331 499h1v1h-1zM336 499h1v1h-1zM341 499h1v1h-1zM346 499h1v1h-1zM351 499h1v1h-1zM356 499h1v1h-1zM361 499h1v1h-1zM366 499h1v1h-1zM371 499h1v1h-1zM376 499h1v1h-1zM381 499h1v1h-1zM386 499h1v1h-1zM391 499h1v1h-1zM396 499h1v1h-1zM401 499h1v1h-1zM406 499h1v1h-1zM411 499h1v1h-1zM416 499h1v1h-1zM421 499h1v1h-1zM426 499h1v1h-1zM431 499h1v1h-1zM436 499h1v1h-1zM441 499h1v1h-1zM446 499h1v1h-1zM451 499h1v1h-1zM456 499h1v1h-1zM461 499h1v1h-1zM466 499h1v1h-1zM471 499h1v1h-1zM476 499h1v1h-1zM481 499h1v1h-1zM486 499h1v1h-1zM491 499h1v1h-1zM496 499h1v1h-1zM501 499h1v1h-1zM506 499h1v1h-1zM511 499h1v1h-1zM516 499h1v1h-1zM521 499h1v1h-1zM526 499h1v1h-1zM531 499h1v1h-1zM536 499h1v1h-1zM541 499h1v1h-1zM546 499h1v1h-1zM551 499h1v1h-1zM556 499h1v1h-1zM561 499h1v1h-1zM566 499h1v1h-1zM571 499h1v1h-1zM576 499h1v1h-1zM581 499h1v1h-1zM586 499h1v1h-1zM591 499h1v1h-1zM596 499h1v1h-1zM601 499h1v1h-1zM606 499h1v1h-1zM611 499h1v1h-1zM616 499h1v1h-1zM621 499h1v1h-1zM626 499h1v1h-1zM631 499h1v1h-1zM636 499h1v1h-1zM641 499h1v1h-1zM646 499h1v1h-1zM651 499h1v1h-1zM656 499h1v1h-1zM661 499h1v1h-1zM666 499h1v1h-1zM671 499h1v1h-1zM676 499h1v1h-1zM681 499h1v1h-1zM686 499h1v1h-1zM691 499h1v1h-1zM696 499h1v1h-1zM701 499h1v1h-1zM706 499h1v1h-1zM711 499h1v1h-1zM716 499h1v1h-1zM721 499h1v1h-1zM726 499h1v1h-1zM731 499h1v1h-1zM736 499h1v1h-1zM741 499h1v1h-1zM746 499h1v1h-1zM751 499h1v1h-1zM756 499h1v1h-1zM761 499h1v1h-1zM766 499h1v1h-1zM771 499h1v1h-1zM776 499h1v1h-1zM781 499h1v1h-1zM786 499h1v1h-1zM791 499h1v1h-1zM796 499h1v1h-1zM801 499h1v1h-1zM806 499h1v1h-1zM811 499h1v1h-1zM816 499h1v1h-1zM821 499h1v1h-1zM826 499h1v1h-1zM831 499h1v1h-1zM836 499h1v1h-1zM841 499h1v1h-1zM846 499h1v1h-1zM851 499h1v1h-1zM856 499h1v1h-1zM861 499h1v1h-1zM866 499h1v1h-1zM871 499h1v1h-1zM876 499h1v1h-1zM881 499h1v1h-1zM886 499h1v1h-1zM891 499h1v1h-1zM896 499h1v1h-1zM901 499h1v1h-1zM906 499h1v1h-1zM911 499h1v1h-1zM916 499h1v1h-1zM921 499h1v1h-1zM926 499h1v1h-1zM931 499h1v1h-1zM936 499h1v1h-1zM941 499h1v1h-1zM946 499h1v1h-1zM951 499h1v1h-1zM956 499h1v1h-1zM961 499h1v1h-1zM966 499h1v1h-1zM971 499h1v1h-1zM976 499h1v1h-1zM981 499h1v1h-1zM986 499h1v1h-1zM991 499h1v1h-1zM996 499h1v1h-1zM1001 499h1v1h-1zM1006 499h1v1h-1zM1011 499h1v1h-1zM1016 499h1v1h-1zM1021 499h1v1h-1zM66 92h1v1h-1zM141 92h1v1h-1zM216 92h1v1h-1zM291 92h1v1h-1zM351 92h1v1h-1zM411 92h1v1h-1zM486 92h1v1h-1zM561 92h1v1h-1zM606 92h1v1h-1zM681 92h1v1h-1zM756 92h1v1h-1zM831 92h1v1h-1zM906 92h1v1h-1zM66 154h1v1h-1zM141 154h1v1h-1zM216 154h1v1h-1zM291 154h1v1h-1zM351 154h1v1h-1zM411 154h1v1h-1zM486 154h1v1h-1zM561 154h1v1h-1zM606 154h1v1h-1zM681 154h1v1h-1zM756 154h1v1h-1zM831 154h1v1h-1zM906 154h1v1h-1zM66 217h1v1h-1zM141 217h1v1h-1zM216 217h1v1h-1zM291 217h1v1h-1zM351 217h1v1h-1zM411 217h1v1h-1zM486 217h1v1h-1zM561 217h1v1h-1zM606 217h1v1h-1zM681 217h1v1h-1zM756 217h1v1h-1zM831 217h1v1h-1zM906 217h1v1h-1zM66 280h1v1h-1zM141 280h1v1h-1zM216 280h1v1h-1zM291 280h1v1h-1zM351 280h1v1h-1zM411 280h1v1h-1zM486 280h1v1h-1zM561 280h1v1h-1zM606 280h1v1h-1zM681 280h1v1h-1zM756 280h1v1h-1zM831 280h1v1h-1zM906 280h1v1h-1zM66 342h1v1h-1zM141 342h1v1h-1zM216 342h1v1h-1zM291 342h1v1h-1zM351 342h1v1h-1zM411 342h1v1h-1zM486 342h1v1h-1zM561 342h1v1h-1zM606 342h1v1h-1zM681 342h1v1h-1zM756 342h1v1h-1zM831 342h1v1h-1zM906 342h1v1h-1zM66 405h1v1h-1zM141 405h1v1h-1zM216 405h1v1h-1zM291 405h1v1h-1zM351 405h1v1h-1zM411 405h1v1h-1zM486 405h1v1h-1zM561 405h1v1h-1zM606 405h1v1h-1zM681 405h1v1h-1zM756 405h1v1h-1zM831 405h1v1h-1zM906 405h1v1h-1zM66 467h1v1h-1zM141 467h1v1h-1zM216 467h1v1h-1zM291 467h1v1h-1zM351 467h1v1h-1zM411 467h1v1h-1zM486 467h1v1h-1zM561 467h1v1h-1zM606 467h1v1h-1zM681 467h1v1h-1zM756 467h1v1h-1zM831 467h1v1h-1zM906 467h1v1h-1zM291 2h1v1h-1zM291 6h1v1h-1zM291 10h1v1h-1zM291 14h1v1h-1zM291 18h1v1h-1zM291 22h1v1h-1zM291 26h1v1h-1zM291 30h1v1h-1zM291 34h1v1h-1zM291 38h1v1h-1zM291 42h1v1h-1zM291 46h1v1h-1zM291 50h1v1h-1zM291 54h1v1h-1zM291 58h1v1h-1zM291 62h1v1h-1zM291 66h1v1h-1zM291 70h1v1h-1zM291 74h1v1h-1zM291 78h1v1h-1zM291 82h1v1h-1zM291 86h1v1h-1zM291 90h1v1h-1zM291 94h1v1h-1zM291 98h1v1h-1zM291 102h1v1h-1zM291 106h1v1h-1zM291 110h1v1h-1zM291 114h1v1h-1zM291 118h1v1h-1zM291 122h1v1h-1zM291 126h1v1h-1zM291 130h1v1h-1zM291 134h1v1h-1zM291 138h1v1h-1zM291 142h1v1h-1zM291 146h1v1h-1zM291 150h1v1h-1zM291 154h1v1h-1zM291 158h1v1h-1zM291 162h1v1h-1zM291 166h1v1h-1zM291 170h1v1h-1zM291 174h1v1h-1zM291 178h1v1h-1zM291 182h1v1h-1zM291 186h1v1h-1zM291 190h1v1h-1zM291 194h1v1h-1zM291 198h1v1h-1zM291 202h1v1h-1zM291 206h1v1h-1zM291 210h1v1h-1zM291 214h1v1h-1zM291 218h1v1h-1zM291 222h1v1h-1zM291 226h1v1h-1zM291 230h1v1h-1zM291 234h1v1h-1zM291 238h1v1h-1zM291 242h1v1h-1zM291 246h1v1h-1zM291 250h1v1h-1zM291 254h1v1h-1zM291 258h1v1h-1zM291 262h1v1h-1zM291 266h1v1h-1zM291 270h1v1h-1zM291 274h1v1h-1zM291 278h1v1h-1zM291 282h1v1h-1zM291 286h1v1h-1zM291 290h1v1h-1zM291 294h1v1h-1zM291 298h1v1h-1zM291 302h1v1h-1zM291 306h1v1h-1zM291 310h1v1h-1zM291 314h1v1h-1zM291 318h1v1h-1zM291 322h1v1h-1zM291 326h1v1h-1zM291 330h1v1h-1zM291 334h1v1h-1zM291 338h1v1h-1zM291 342h1v1h-1zM291 346h1v1h-1zM291 350h1v1h-1zM291 354h1v1h-1zM291 358h1v1h-1zM291 362h1v1h-1zM291 366h1v1h-1zM291 370h1v1h-1zM291 374h1v1h-1zM291 378h1v1h-1zM291 382h1v1h-1zM291 386h1v1h-1zM291 390h1v1h-1zM291 394h1v1h-1zM291 398h1v1h-1zM291 402h1v1h-1zM291 406h1v1h-1zM291 410h1v1h-1zM291 414h1v1h-1zM291 418h1v1h-1zM291 422h1v1h-1zM291 426h1v1h-1zM291 430h1v1h-1zM291 434h1v1h-1zM291 438h1v1h-1zM291 442h1v1h-1zM291 446h1v1h-1zM291 450h1v1h-1zM291 454h1v1h-1zM291 458h1v1h-1zM291 462h1v1h-1zM291 466h1v1h-1zM291 470h1v1h-1zM291 474h1v1h-1zM291 478h1v1h-1zM291 482h1v1h-1zM291 486h1v1h-1zM291 490h1v1h-1zM291 494h1v1h-1zM291 498h1v1h-1zM291 502h1v1h-1zM291 506h1v1h-1zM291 510h1v1h-1zM291 514h1v1h-1zM291 518h1v1h-1zM291 522h1v1h-1zM291 526h1v1h-1zM576 2h1v1h-1zM576 6h1v1h-1zM576 10h1v1h-1zM576 14h1v1h-1zM576 18h1v1h-1zM576 22h1v1h-1zM576 26h1v1h-1zM576 30h1v1h-1zM576 34h1v1h-1zM576 38h1v1h-1zM576 42h1v1h-1zM576 46h1v1h-1zM576 50h1v1h-1zM576 54h1v1h-1zM576 58h1v1h-1zM576 62h1v1h-1zM576 66h1v1h-1zM576 70h1v1h-1zM576 74h1v1h-1zM576 78h1v1h-1zM576 82h1v1h-1zM576 86h1v1h-1zM576 90h1v1h-1zM576 94h1v1h-1zM576 98h1v1h-1zM576 102h1v1h-1zM576 106h1v1h-1zM576 110h1v1h-1zM576 114h1v1h-1zM576 118h1v1h-1zM576 122h1v1h-1zM576 126h1v1h-1zM576 130h1v1h-1zM576 134h1v1h-1zM576 138h1v1h-1zM576 142h1v1h-1zM576 146h1v1h-1zM576 150h1v1h-1zM576 154h1v1h-1zM576 158h1v1h-1zM576 162h1v1h-1zM576 166h1v1h-1zM576 170h1v1h-1zM576 174h1v1h-1zM576 178h1v1h-1zM576 182h1v1h-1zM576 186h1v1h-1zM576 190h1v1h-1zM576 194h1v1h-1zM576 198h1v1h-1zM576 202h1v1h-1zM576 206h1v1h-1zM576 210h1v1h-1zM576 214h1v1h-1zM576 218h1v1h-1zM576 222h1v1h-1zM576 226h1v1h-1zM576 230h1v1h-1zM576 234h1v1h-1zM576 238h1v1h-1zM576 242h1v1h-1zM576 246h1v1h-1zM576 250h1v1h-1zM576 254h1v1h-1zM576 258h1v1h-1zM576 262h1v1h-1zM576 266h1v1h-1zM576 270h1v1h-1zM576 274h1v1h-1zM576 278h1v1h-1zM576 282h1v1h-1zM576 286h1v1h-1zM576 290h1v1h-1zM576 294h1v1h-1zM576 298h1v1h-1zM576 302h1v1h-1zM576 306h1v1h-1zM576 310h1v1h-1zM576 314h1v1h-1zM576 318h1v1h-1zM576 322h1v1h-1zM576 326h1v1h-1zM576 330h1v1h-1zM576 334h1v1h-1zM576 338h1v1h-1zM576 342h1v1h-1zM576 346h1v1h-1zM576 350h1v1h-1zM576 354h1v1h-1zM576 358h1v1h-1zM576 362h1v1h-1zM576 366h1v1h-1zM576 370h1v1h-1zM576 374h1v1h-1zM576 378h1v1h-1zM576 382h1v1h-1zM576 386h1v1h-1zM576 390h1v1h-1zM576 394h1v1h-1zM576 398h1v1h-1zM576 402h1v1h-1zM576 406h1v1h-1zM576 410h1v1h-1zM576 414h1v1h-1zM576 418h1v1h-1zM576 422h1v1h-1zM576 426h1v1h-1zM576 430h1v1h-1zM576 434h1v1h-1zM576 438h1v1h-1zM576 442h1v1h-1zM576 446h1v1h-1zM576 450h1v1h-1zM576 454h1v1h-1zM576 458h1v1h-1zM576 462h1v1h-1zM576 466h1v1h-1zM576 470h1v1h-1zM576 474h1v1h-1zM576 478h1v1h-1zM576 482h1v1h-1zM576 486h1v1h-1zM576 490h1v1h-1zM576 494h1v1h-1zM576 498h1v1h-1zM576 502h1v1h-1zM576 506h1v1h-1zM576 510h1v1h-1zM576 514h1v1h-1zM576 518h1v1h-1zM576 522h1v1h-1zM576 526h1v1h-1zM891 2h1v1h-1zM891 6h1v1h-1zM891 10h1v1h-1zM891 14h1v1h-1zM891 18h1v1h-1zM891 22h1v1h-1zM891 26h1v1h-1zM891 30h1v1h-1zM891 34h1v1h-1zM891 38h1v1h-1zM891 42h1v1h-1zM891 46h1v1h-1zM891 50h1v1h-1zM891 54h1v1h-1zM891 58h1v1h-1zM891 62h1v1h-1zM891 66h1v1h-1zM891 70h1v1h-1zM891 74h1v1h-1zM891 78h1v1h-1zM891 82h1v1h-1zM891 86h1v1h-1zM891 90h1v1h-1zM891 94h1v1h-1zM891 98h1v1h-1zM891 102h1v1h-1zM891 106h1v1h-1zM891 110h1v1h-1zM891 114h1v1h-1zM891 118h1v1h-1zM891 122h1v1h-1zM891 126h1v1h-1zM891 130h1v1h-1zM891 134h1v1h-1zM891 138h1v1h-1zM891 142h1v1h-1zM891 146h1v1h-1zM891 150h1v1h-1zM891 154h1v1h-1zM891 158h1v1h-1zM891 162h1v1h-1zM891 166h1v1h-1zM891 170h1v1h-1zM891 174h1v1h-1zM891 178h1v1h-1zM891 182h1v1h-1zM891 186h1v1h-1zM891 190h1v1h-1zM891 194h1v1h-1zM891 198h1v1h-1zM891 202h1v1h-1zM891 206h1v1h-1zM891 210h1v1h-1zM891 214h1v1h-1zM891 218h1v1h-1zM891 222h1v1h-1zM891 226h1v1h-1zM891 230h1v1h-1zM891 234h1v1h-1zM891 238h1v1h-1zM891 242h1v1h-1zM891 246h1v1h-1zM891 250h1v1h-1zM891 254h1v1h-1zM891 258h1v1h-1zM891 262h1v1h-1zM891 266h1v1h-1zM891 270h1v1h-1zM891 274h1v1h-1zM891 278h1v1h-1zM891 282h1v1h-1zM891 286h1v1h-1zM891 290h1v1h-1zM891 294h1v1h-1zM891 298h1v1h-1zM891 302h1v1h-1zM891 306h1v1h-1zM891 310h1v1h-1zM891 314h1v1h-1zM891 318h1v1h-1zM891 322h1v1h-1zM891 326h1v1h-1zM891 330h1v1h-1zM891 334h1v1h-1zM891 338h1v1h-1zM891 342h1v1h-1zM891 346h1v1h-1zM891 350h1v1h-1zM891 354h1v1h-1zM891 358h1v1h-1zM891 362h1v1h-1zM891 366h1v1h-1zM891 370h1v1h-1zM891 374h1v1h-1zM891 378h1v1h-1zM891 382h1v1h-1zM891 386h1v1h-1zM891 390h1v1h-1zM891 394h1v1h-1zM891 398h1v1h-1zM891 402h1v1h-1zM891 406h1v1h-1zM891 410h1v1h-1zM891 414h1v1h-1zM891 418h1v1h-1zM891 422h1v1h-1zM891 426h1v1h-1zM891 430h1v1h-1zM891 434h1v1h-1zM891 438h1v1h-1zM891 442h1v1h-1zM891 446h1v1h-1zM891 450h1v1h-1zM891 454h1v1h-1zM891 458h1v1h-1zM891 462h1v1h-1zM891 466h1v1h-1zM891 470h1v1h-1zM891 474h1v1h-1zM891 478h1v1h-1zM891 482h1v1h-1zM891 486h1v1h-1zM891 490h1v1h-1zM891 494h1v1h-1zM891 498h1v1h-1zM891 502h1v1h-1zM891 506h1v1h-1zM891 510h1v1h-1zM891 514h1v1h-1zM891 518h1v1h-1zM891 522h1v1h-1zM891 526h1v1h-1z"/>
<rect x="34" y="40" width="5" height="5" fill="#ffd454" />
<rect x="49" y="40" width="5" height="5" fill="#ffd454" />
<rect x="89" y="40" width="5" height="5" fill="#ffd454" />
<rect x="94" y="40" width="5" height="5" fill="#ffd454" />
<rect x="124" y="40" width="5" height="5" fill="#ffd454" />
<rect x="289" y="40" width="5" height="5" fill="#ffd454" />
<rect x="309" y="40" width="5" height="5" fill="#ffd454" />
<rect x="374" y="40" width="5" height="5" fill="#ffd454" />
<rect x="554" y="40" width="5" height="5" fill="#ffd454" />
<rect x="574" y="40" width="5" height="5" fill="#ffd454" />
<rect x="609" y="40" width="5" height="5" fill="#ffd454" />
<rect x="649" y="40" width="5" height="5" fill="#ffd454" />
<rect x="674" y="40" width="5" height="5" fill="#ffd454" />
<rect x="749" y="40" width="5" height="5" fill="#ffd454" />
<rect x="779" y="40" width="5" height="5" fill="#ffd454" />
<rect x="809" y="40" width="5" height="5" fill="#ffd454" />
<rect x="854" y="40" width="5" height="5" fill="#ffd454" />
<rect x="899" y="40" width="5" height="5" fill="#ffd454" />
<rect x="249" y="506" width="5" height="5" fill="#ffd454" />
<rect x="294" y="506" width="5" height="5" fill="#ffd454" />
<rect x="329" y="506" width="5" height="5" fill="#ffd454" />
<rect x="464" y="506" width="5" height="5" fill="#ffd454" />
<rect x="474" y="506" width="5" height="5" fill="#ffd454" />
<rect x="494" y="506" width="5" height="5" fill="#ffd454" />
<rect x="584" y="506" width="5" height="5" fill="#ffd454" />
<rect x="589" y="506" width="5" height="5" fill="#ffd454" />
<rect x="684" y="506" width="5" height="5" fill="#ffd454" />
<rect x="689" y="506" width="5" height="5" fill="#ffd454" />
<rect x="704" y="506" width="5" height="5" fill="#ffd454" />
<rect x="824" y="506" width="5" height="5" fill="#ffd454" />
<rect x="834" y="506" width="5" height="5" fill="#ffd454" />
<rect x="839" y="506" width="5" height="5" fill="#ffd454" />
<rect x="869" y="506" width="5" height="5" fill="#ffd454" />
<line x1="207" y1="275.9" x2="1032" y2="225.9" stroke="#0000ff" stroke-width="3" shape-rendering="crispEdges"/>
<path fill="#ff0000" d="M3.8 94.1L6.5 91.39999999999999L9.2 94.1L6.5 96.8z" shape-rendering="auto"/>
<path fill="#ff0000" d="M8.8 97.5L11.5 94.8L14.2 97.5L11.5 100.2z" shape-rendering="auto"/>
<path fill="#ff0000" d="M13.8 101.7L16.5 99.0L19.2 101.7L16.5 104.4z" shape-rendering="auto"/>
<path fill="#ff0000" d="M18.8 105.8L21.5 103.1L24.2 105.8L21.5 108.5z" shape-rendering="auto"/>
<path fill="#ff0000" d="M23.8 109.5L26.5 106.8L29.2 109.5L26.5 112.2z" shape-rendering="auto"/>
<path fill="#ff0000" d="M28.8 112.8L31.5 110.1L34.2 112.8L31.5 115.5z" shape-rendering="auto"/>
<path fill="#ff0000" d="M33.8 115.9L36.5 113.2L39.2 115.9L36.5 118.60000000000001z" shape-rendering="auto"/>
<path fill="#ff0000" d="M38.8 117.8L41.5 115.1L44.2 117.8L41.5 120.5z" shape-rendering="auto"/>
<path fill="#c6c3c6" d="M43.8 120.9L46.5 118.2L49.2 120.9L46.5 123.60000000000001z" shape-rendering="auto"/>
<path fill="#c6c3c6" d="M48.8 123.3L51.5 120.6L54.2 123.3L51.5 126.0z" shape-rendering="auto"/>
<path fill="#ff0000" d="M53.8 125.0L56.5 122.3L59.2 125.0L56.5 127.7z" shape-rendering="auto"/>
<path fill="#c6c3c6" d="M58.8 126.0L61.5 123.3L64.2 126.0L61.5 128.7z" shape-rendering="auto"/>
<path fill="#c6c3c6" d="M63.8 126.5L66.5 123.8L69.2 126.5L66.5 129.2z" shape-rendering="auto"/>
<path fill="#c6c3c6" d="M68.8 128.0L71.5 125.3L74.2 128.0L71.5 130.7z" shape-rendering="auto"/>
<path fill="#c6c3c6" d="M73.8 129.3L76.5 126.60000000000001L79.2 129.3L76.5 132.0z" shape-rendering="auto"/>
<path fill="#c6c3c6" d="M78.8 130.8L81.5 128.10000000000002L84.2 130.8L81.5 133.5z" shape-rendering="auto"/>
<path fill="#c6c3c6" d="M83.8 132.8L86.5 130.10000000000002L89.2 132.8L86.5 135.5z" shape-rendering="auto"/>
<path fill="#c6c3c6" d="M88.8 132.8L91.5 130.10000000000002L94.2 132.8L91.5 135.5z" shape-rendering="auto"/>
<path fill="#00ff00" d="M93.8 131.0L96.5 128.3L99.2 131.0L96.5 133.7z" shape-rendering="auto"/>
<path fill="#00ff00" d="M98.8 127.5L101.5 124.8L104.2 127.5L101.5 130.2z" shape-rendering="auto"/>
<path fill="#00ff00" d="M103.8 122.8L106.5 120.1L109.2 122.8L106.5 125.5z" shape-rendering="auto"/>
<path fill="#00ff00" d="M108.8 117.8L111.5 115.1L114.2 117.8L111.5 120.5z" shape-rendering="auto"/>
<path fill="#00ff00" d="M113.8 111.9L116.5 109.2L119.2 111.9L116.5 114.60000000000001z" shape-rendering="auto"/>
<path fill="#00ff00" d="M118.8 105.2L121.5 102.5L124.2 105.2L121.5 107.9z" shape-rendering="auto"/>
<path fill="#00ff00" d="M123.8 98.9L126.5 96.2L129.2 98.9L126.5 101.60000000000001z" shape-rendering="auto"/>
<path fill="#00ff00" d="M128.8 94.1L131.5 91.39999999999999L134.2 94.1L131.5 96.8z" shape-rendering="auto"/>
<path fill="#00ff00" d="M133.8 90.1L136.5 87.39999999999999L139.2 90.1L136.5 92.8z" shape-rendering="auto"/>
<path fill="#00ff00" d="M138.8 85.8L141.5 83.1L144.2 85.8L141.5 88.5z" shape-rendering="auto"/>
<path fill="#00ff00" d="M143.8 83.6L146.5 80.89999999999999L149.2 83.6L146.5 86.3z" shape-rendering="auto"/>
<path fill="#00ff00" d="M148.8 81.4L151.5 78.7L154.2 81.4L151.5 84.10000000000001z" shape-rendering="auto"/>
<path fill="#00ff00" d="M153.8 79.5L156.5 76.8L159.2 79.5L156.5 82.2z" shape-rendering="auto"/>
<path fill="#c6c3c6" d="M158.8 77.7L161.5 75.0L164.2 77.7L161.5 80.4z" shape-rendering="auto"/>
<path fill="#c6c3c6" d="M163.8 76.6L166.5 73.89999999999999L169.2 76.6L166.5 79.3z" shape-rendering="auto"/>
<path fill="#c6c3c6" d="M168.8 75.8L171.5 73.1L174.2 75.8L171.5 78.5z" shape-rendering="auto"/>
<path fill="#c6c3c6" d="M173.8 73.5L176.5 70.8L179.2 73.5L176.5 76.2z" shape-rendering="auto"/>
<path fill="#c6c3c6" d="M178.8 73.5L181.5 70.8L184.2 73.5L181.5 76.2z" shape-rendering="auto"/>
<path fill="#ff0000" d="M183.8 73.5L186.5 70.8L189.2 73.5L186.5 76.2z" shape-rendering="auto"/>
<path fill="#ff0000" d="M188.8 75.4L191.5 72.7L194.2 75.4L191.5 78.10000000000001z" shape-rendering="auto"/>
<path fill="#ff0000" d="M193.8 80.7L196.5 78.0L199.2 80.7L196.5 83.4z" shape-rendering="auto"/>
<path fill="#ff0000" d="M198.8 86.7L201.5 84.0L204.2 86.7L201.5 89.4z" shape-rendering="auto"/>
<path fill="#ff0000" d="M203.8 91.8L206.5 89.1L209.2 91.8L206.5 94.5z" shape-rendering="auto"/>
<path fill="#ff0000" d="M208.8 95.9L211.5 93.2L214.2 95.9L211.5 98.60000000000001z" shape-rendering="auto"/>
<path fill="#ff0000" d="M213.8 100.0L216.5 97.3L219.2 100.0L216.5 102.7z" shape-rendering="auto"/>
<path fill="#ff0000" d="M218.8 103.0L221.5 100.3L224.2 103.0L221.5 105.7z" shape-rendering="auto"/>
<path fill="#ff0000" d="M223.8 105.1L226.5 102.39999999999999L229.2 105.1L226.5 107.8z" shape-rendering="auto"/>
<path fill="#c6c3c6" d="M228.8 106.6L231.5 103.89999999999999L234.2 106.6L231.5 109.3z" shape-rendering="auto"/>
<path fill="#c6c3c6" d="M233.8 108.8L236.5 106.1L239.2 108.8L236.5 111.5z" shape-rendering="auto"/>
<path fill="#c6c3c6" d="M238.8 109.2L241.5 106.5L244.2 109.2L241.5 111.9z" shape-rendering="auto"/>
<path fill="#c6c3c6" d="M243.8 109.8L246.5 107.1L249.2 109.8L246.5 112.5z" shape-rendering="auto"/>
<path fill="#c6c3c6" d="M248.8 110.3L251.5 107.6L254.2 110.3L251.5 113.0z" shape-rendering="auto"/>
<path fill="#c6c3c6" d="M253.8 111.6L256.5 108.89999999999999L259.2 111.6L256.5 114.3z" shape-rendering="auto"/>
<path fill="#ff0000" d="M258.8 114.4L261.5 111.7L264.2 114.4L261.5 117.10000000000001z" shape-rendering="auto"/>
<path fill="#ff0000" d="M263.8 116.6L266.5 113.89999999999999L269.2 116.6L266.5 119.3z" shape-rendering="auto"/>
<path fill="#ff0000" d="M268.8 119.0L271.5 116.3L274.2 119.0L271.5 121.7z" shape-rendering="auto"/>
<path fill="#ff0000" d="M273.8 120.3L276.5 117.6L279.2 120.3L276.5 123.0z" shape-rendering="auto"/>
<path fill="#ff0000" d="M278.8 121.8L281.5 119.1L284.2 121.8L281.5 124.5z" shape-rendering="auto"/>
<path fill="#ff0000" d="M283.8 123.0L286.5 120.3L289.2 123.0L286.5 125.7z" shape-rendering="auto"/>
<path fill="#c6c3c6" d="M288.8 121.8L291.5 119.1L294.2 121.8L291.5 124.5z" shape-rendering="auto"/>
<path fill="#c6c3c6" d="M293.8 120.8L296.5 118.1L299.2 120.8L296.5 123.5z" shape-rendering="auto"/>
<path fill="#00ff00" d="M298.8 118.0L301.5 115.3L304.2 118.0L301.5 120.7z" shape-rendering="auto"/>
<path fill="#00ff00" d="M303.8 114.9L306.5 112.2L309.2 114.9L306.5 117.60000000000001z" shape-rendering="auto"/>
<path fill="#00ff00" d="M308.8 113.1L311.5 110.39999999999999L314.2 113.1L311.5 115.8z" shape-rendering="auto"/>
<path fill="#00ff00" d="M313.8 112.5L316.5 109.8L319.2 112.5L316.5 115.2z" shape-rendering="auto"/>
<path fill="#ff0000" d="M318.8 112.9L321.5 110.2L324.2 112.9L321.5 115.60000000000001z" shape-rendering="auto"/>
<path fill="#ff0000" d="M323.8 115.8L326.5 113.1L329.2 115.8L326.5 118.5z" shape-rendering="auto"/>
<path fill="#ff0000" d="M328.8 119.9L331.5 117.2L334.2 119.9L331.5 122.60000000000001z" shape-rendering="auto"/>
<path fill="#ff0000" d="M333.8 124.0L336.5 121.3L339.2 124.0L336.5 126.7z" shape-rendering="auto"/>
<path fill="#ff0000" d="M338.8 127.9L341.5 125.2L344.2 127.9L341.5 130.6z" shape-rendering="auto"/>
<path fill="#ff0000" d="M343.8 131.9L346.5 129.20000000000002L349.2 131.9L346.5 134.6z" shape-rendering="auto"/>
<path fill="#ff0000" d="M348.8 136.0L351.5 133.3L354.2 136.0L351.5 138.7z" shape-rendering="auto"/>
<path fill="#ff0000" d="M353.8 139.9L356.5 137.20000000000002L359.2 139.9L356.5 142.6z" shape-rendering="auto"/>
<path fill="#ff0000" d="M358.8 141.7L361.5 139.0L364.2 141.7L361.5 144.39999999999998z" shape-rendering="auto"/>
<path fill="#ff0000" d="M363.8 145.4L366.5 142.70000000000002L369.2 145.4L366.5 148.1z" shape-rendering="auto"/>
<path fill="#ff0000" d="M368.8 147.2L371.5 144.5L374.2 147.2L371.5 149.89999999999998z" shape-rendering="auto"/>
<path fill="#ff0000" d="M373.8 149.1L376.5 146.4L379.2 149.1L376.5 151.79999999999998z" shape-rendering="auto"/>
<path fill="#ff0000" d="M378.8 150.9L381.5 148.20000000000002L384.2 150.9L381.5 153.6z" shape-rendering="auto"/>
<path fill="#ff0000" d="M383.8 151.7L386.5 149.0L389.2 151.7L386.5 154.39999999999998z" shape-rendering="auto"/>
<path fill="#ff0000" d="M388.8 153.0L391.5 150.3L394.2 153.0L391.5 155.7z" shape-rendering="auto"/>
<path fill="#c6c3c6" d="M393.8 154.5L396.5 151.8L399.2 154.5L396.5 157.2z" shape-rendering="auto"/>
<path fill="#ff0000" d="M398.8 156.0L401.5 153.3L404.2 156.0L401.5 158.7z" shape-rendering="auto"/>
<path fill="#ff0000" d="M403.8 159.0L406.5 156.3L409.2 159.0L406.5 161.7z" shape-rendering="auto"/>
<path fill="#ff0000" d="M408.8 161.8L411.5 159.10000000000002L414.2 161.8L411.5 164.5z" shape-rendering="auto"/>
<path fill="#ff0000" d="M413.8 164.0L416.5 161.3L419.2 164.0L416.5 166.7z" shape-rendering="auto"/>
<path fill="#ff0000" d="M418.8 165.9L421.5 163.20000000000002L424.2 165.9L421.5 168.6z" shape-rendering="auto"/>
<path fill="#ff0000" d="M423.8 166.3L426.5 163.60000000000002L429.2 166.3L426.5 169.0z" shape-rendering="auto"/>
<path fill="#00ff00" d="M428.8 165.9L431.5 163.20000000000002L434.2 165.9L431.5 168.6z" shape-rendering="auto"/>
<path fill="#00ff00" d="M433.8 165.5L436.5 162.8L439.2 165.5L436.5 168.2z" shape-rendering="auto"/>
<path fill="#00ff00" d="M438.8 165.0L441.5 162.3L444.2 165.0L441.5 167.7z" shape-rendering="auto"/>
<path fill="#ff0000" d="M443.8 165.0L446.5 162.3L449.2 165.0L446.5 167.7z" shape-rendering="auto"/>
<path fill="#ff0000" d="M448.8 165.3L451.5 162.60000000000002L454.2 165.3L451.5 168.0z" shape-rendering="auto"/>
<path fill="#c6c3c6" d="M453.8 165.1L456.5 162.4L459.2 165.1L456.5 167.79999999999998z" shape-rendering="auto"/>
<path fill="#c6c3c6" d="M458.8 165.0L461.5 162.3L464.2 165.0L461.5 167.7z" shape-rendering="auto"/>
<path fill="#c6c3c6" d="M463.8 164.6L466.5 161.9L469.2 164.6L466.5 167.29999999999998z" shape-rendering="auto"/>
<path fill="#ff0000" d="M468.8 166.5L471.5 163.8L474.2 166.5L471.5 169.2z" shape-rendering="auto"/>
<path fill="#ff0000" d="M473.8 168.7L476.5 166.0L479.2 168.7L476.5 171.39999999999998z" shape-rendering="auto"/>
<path fill="#ff0000" d="M478.8 170.5L481.5 167.8L484.2 170.5L481.5 173.2z" shape-rendering="auto"/>
<path fill="#ff0000" d="M483.8 174.8L486.5 172.10000000000002L489.2 174.8L486.5 177.5z" shape-rendering="auto"/>
<path fill="#ff0000" d="M488.8 181.6L491.5 178.9L494.2 181.6L491.5 184.29999999999998z" shape-rendering="auto"/>
<path fill="#ff0000" d="M493.8 189.0L496.5 186.3L499.2 189.0L496.5 191.7z" shape-rendering="auto"/>
<path fill="#ff0000" d="M498.8 194.9L501.5 192.20000000000002L504.2 194.9L501.5 197.6z" shape-rendering="auto"/>
<path fill="#ff0000" d="M503.8 201.0L506.5 198.3L509.2 201.0L506.5 203.7z" shape-rendering="auto"/>
<path fill="#ff0000" d="M508.8 206.0L511.5 203.3L514.2 206.0L511.5 208.7z" shape-rendering="auto"/>
<path fill="#ff0000" d="M513.8 211.1L516.5 208.4L519.2 211.1L516.5 213.79999999999998z" shape-rendering="auto"/>
<path fill="#ff0000" d="M518.8 213.9L521.5 211.20000000000002L524.2 213.9L521.5 216.6z" shape-rendering="auto"/>
<path fill="#ff0000" d="M523.8 217.6L526.5 214.9L529.2 217.6L526.5 220.29999999999998z" shape-rendering="auto"/>
<path fill="#ff0000" d="M528.8 222.6L531.5 219.9L534.2 222.6L531.5 225.29999999999998z" shape-rendering="auto"/>
<path fill="#ff0000" d="M533.8 227.8L536.5 225.10000000000002L539.2 227.8L536.5 230.5z" shape-rendering="auto"/>
<path fill="#ff0000" d="M538.8 232.0L541.5 229.3L544.2 232.0L541.5 234.7z" shape-rendering="auto"/>
<path fill="#c6c3c6" d="M543.8 235.0L546.5 232.3L549.2 235.0L546.5 237.7z" shape-rendering="auto"/>
<path fill="#c6c3c6" d="M548.8 237.0L551.5 234.3L554.2 237.0L551.5 239.7z" shape-rendering="auto"/>
<path fill="#c6c3c6" d="M553.8 238.8L556.5 236.10000000000002L559.2 238.8L556.5 241.5z" shape-rendering="auto"/>
<path fill="#c6c3c6" d="M558.8 239.8L561.5 237.10000000000002L564.2 239.8L561.5 242.5z" shape-rendering="auto"/>
<path fill="#c6c3c6" d="M563.8 240.7L566.5 238.0L569.2 240.7L566.5 243.39999999999998z" shape-rendering="auto"/>
<path fill="#c6c3c6" d="M568.8 241.1L571.5 238.4L574.2 241.1L571.5 243.79999999999998z" shape-rendering="auto"/>
<path fill="#00ff00" d="M573.8 240.5L576.5 237.8L579.2 240.5L576.5 243.2z" shape-rendering="auto"/>
<path fill="#00ff00" d="M578.8 240.1L581.5 237.4L584.2 240.1L581.5 242.79999999999998z" shape-rendering="auto"/>
<path fill="#00ff00" d="M583.8 239.1L586.5 236.4L589.2 239.1L586.5 241.79999999999998z" shape-rendering="auto"/>
<path fill="#00ff00" d="M588.8 236.9L591.5 234.20000000000002L594.2 236.9L591.5 239.6z" shape-rendering="auto"/>
<path fill="#c6c3c6" d="M593.8 234.5L596.5 231.8L599.2 234.5L596.5 237.2z" shape-rendering="auto"/>
<path fill="#c6c3c6" d="M598.8 232.7L601.5 230.0L604.2 232.7L601.5 235.39999999999998z" shape-rendering="auto"/>
<path fill="#c6c3c6" d="M603.8 231.8L606.5 229.10000000000002L609.2 231.8L606.5 234.5z" shape-rendering="auto"/>
<path fill="#c6c3c6" d="M608.8 230.8L611.5 228.10000000000002L614.2 230.8L611.5 233.5z" shape-rendering="auto"/>
<path fill="#c6c3c6" d="M613.8 230.3L616.5 227.60000000000002L619.2 230.3L616.5 233.0z" shape-rendering="auto"/>
<path fill="#ff0000" d="M618.8 230.8L621.5 228.10000000000002L624.2 230.8L621.5 233.5z" shape-rendering="auto"/>
<path fill="#ff0000" d="M623.8 231.8L626.5 229.10000000000002L629.2 231.8L626.5 234.5z" shape-rendering="auto"/>
<path fill="#ff0000" d="M628.8 233.6L631.5 230.9L634.2 233.6L631.5 236.29999999999998z" shape-rendering="auto"/>
<path fill="#ff0000" d="M633.8 235.8L636.5 233.10000000000002L639.2 235.8L636.5 238.5z" shape-rendering="auto"/>
<path fill="#ff0000" d="M638.8 238.8L641.5 236.10000000000002L644.2 238.8L641.5 241.5z" shape-rendering="auto"/>
<path fill="#ff0000" d="M643.8 242.5L646.5 239.8L649.2 242.5L646.5 245.2z" shape-rendering="auto"/>
<path fill="#ff0000" d="M648.8 246.9L651.5 244.20000000000002L654.2 246.9L651.5 249.6z" shape-rendering="auto"/>
<path fill="#ff0000" d="M653.8 250.9L656.5 248.20000000000002L659.2 250.9L656.5 253.6z" shape-rendering="auto"/>
<path fill="#ff0000" d="M658.8 255.0L661.5 252.3L664.2 255.0L661.5 257.7z" shape-rendering="auto"/>
<path fill="#ff0000" d="M663.8 259.7L666.5 257.0L669.2 259.7L666.5 262.4z" shape-rendering="auto"/>
<path fill="#ff0000" d="M668.8 264.9L671.5 262.2L674.2 264.9L671.5 267.59999999999997z" shape-rendering="auto"/>
<path fill="#ff0000" d="M673.8 270.6L676.5 267.90000000000003L679.2 270.6L676.5 273.3z" shape-rendering="auto"/>
<path fill="#ff0000" d="M678.8 276.9L681.5 274.2L684.2 276.9L681.5 279.59999999999997z" shape-rendering="auto"/>
<path fill="#ff0000" d="M683.8 283.7L686.5 281.0L689.2 283.7L686.5 286.4z" shape-rendering="auto"/>
<path fill="#ff0000" d="M688.8 289.8L691.5 287.1L694.2 289.8L691.5 292.5z" shape-rendering="auto"/>
<path fill="#ff0000" d="M693.8 295.5L696.5 292.8L699.2 295.5L696.5 298.2z" shape-rendering="auto"/>
<path fill="#ff0000" d="M698.8 301.8L701.5 299.1L704.2 301.8L701.5 304.5z" shape-rendering="auto"/>
<path fill="#ff0000" d="M703.8 307.9L706.5 305.2L709.2 307.9L706.5 310.59999999999997z" shape-rendering="auto"/>
<path fill="#ff0000" d="M708.8 314.8L711.5 312.1L714.2 314.8L711.5 317.5z" shape-rendering="auto"/>
<path fill="#ff0000" d="M713.8 321.8L716.5 319.1L719.2 321.8L716.5 324.5z" shape-rendering="auto"/>
<path fill="#ff0000" d="M718.8 327.8L721.5 325.1L724.2 327.8L721.5 330.5z" shape-rendering="auto"/>
<path fill="#ff0000" d="M723.8 333.8L726.5 331.1L729.2 333.8L726.5 336.5z" shape-rendering="auto"/>
<path fill="#ff0000" d="M728.8 340.1L731.5 337.40000000000003L734.2 340.1L731.5 342.8z" shape-rendering="auto"/>
<path fill="#ff0000" d="M733.8 347.8L736.5 345.1L739.2 347.8L736.5 350.5z" shape-rendering="auto"/>
<path fill="#ff0000" d="M738.8 354.7L741.5 352.0L744.2 354.7L741.5 357.4z" shape-rendering="auto"/>
<path fill="#ff0000" d="M743.8 361.9L746.5 359.2L749.2 361.9L746.5 364.59999999999997z" shape-rendering="auto"/>
<path fill="#ff0000" d="M748.8 368.7L751.5 366.0L754.2 368.7L751.5 371.4z" shape-rendering="auto"/>
<path fill="#ff0000" d="M753.8 374.6L756.5 371.90000000000003L759.2 374.6L756.5 377.3z" shape-rendering="auto"/>
<path fill="#ff0000" d="M758.8 380.0L761.5 377.3L764.2 380.0L761.5 382.7z" shape-rendering="auto"/>
<path fill="#ff0000" d="M763.8 384.6L766.5 381.90000000000003L769.2 384.6L766.5 387.3z" shape-rendering="auto"/>
<path fill="#ff0000" d="M768.8 389.0L771.5 386.3L774.2 389.0L771.5 391.7z" shape-rendering="auto"/>
<path fill="#ff0000" d="M773.8 394.2L776.5 391.5L779.2 394.2L776.5 396.9z" shape-rendering="auto"/>
<path fill="#c6c3c6" d="M778.8 396.0L781.5 393.3L784.2 396.0L781.5 398.7z" shape-rendering="auto"/>
<path fill="#ff0000" d="M783.8 399.8L786.5 397.1L789.2 399.8L786.5 402.5z" shape-rendering="auto"/>
<path fill="#ff0000" d="M788.8 404.0L791.5 401.3L794.2 404.0L791.5 406.7z" shape-rendering="auto"/>
<path fill="#ff0000" d="M793.8 409.9L796.5 407.2L799.2 409.9L796.5 412.59999999999997z" shape-rendering="auto"/>
<path fill="#ff0000" d="M798.8 415.1L801.5 412.40000000000003L804.2 415.1L801.5 417.8z" shape-rendering="auto"/>
<path fill="#ff0000" d="M803.8 420.1L806.5 417.40000000000003L809.2 420.1L806.5 422.8z" shape-rendering="auto"/>
<path fill="#ff0000" d="M808.8 423.0L811.5 420.3L814.2 423.0L811.5 425.7z" shape-rendering="auto"/>
<path fill="#ff0000" d="M813.8 426.1L816.5 423.40000000000003L819.2 426.1L816.5 428.8z" shape-rendering="auto"/>
<path fill="#ff0000" d="M818.8 431.0L821.5 428.3L824.2 431.0L821.5 433.7z" shape-rendering="auto"/>
<path fill="#ff0000" d="M823.8 435.9L826.5 433.2L829.2 435.9L826.5 438.59999999999997z" shape-rendering="auto"/>
<path fill="#ff0000" d="M828.8 437.8L831.5 435.1L834.2 437.8L831.5 440.5z" shape-rendering="auto"/>
<path fill="#ff0000" d="M833.8 439.3L836.5 436.6L839.2 439.3L836.5 442.0z" shape-rendering="auto"/>
<path fill="#c6c3c6" d="M838.8 437.7L841.5 435.0L844.2 437.7L841.5 440.4z" shape-rendering="auto"/>
<path fill="#ff0000" d="M843.8 438.8L846.5 436.1L849.2 438.8L846.5 441.5z" shape-rendering="auto"/>
<path fill="#c6c3c6" d="M848.8 439.5L851.5 436.8L854.2 439.5L851.5 442.2z" shape-rendering="auto"/>
<path fill="#c6c3c6" d="M853.8 440.5L856.5 437.8L859.2 440.5L856.5 443.2z" shape-rendering="auto"/>
<path fill="#ff0000" d="M858.8 441.5L861.5 438.8L864.2 441.5L861.5 444.2z" shape-rendering="auto"/>
<path fill="#c6c3c6" d="M863.8 444.0L866.5 441.3L869.2 444.0L866.5 446.7z" shape-rendering="auto"/>
<path fill="#c6c3c6" d="M868.8 446.4L871.5 443.7L874.2 446.4L871.5 449.09999999999997z" shape-rendering="auto"/>
<path fill="#c6c3c6" d="M873.8 446.9L876.5 444.2L879.2 446.9L876.5 449.59999999999997z" shape-rendering="auto"/>
<path fill="#c6c3c6" d="M878.8 449.1L881.5 446.40000000000003L884.2 449.1L881.5 451.8z" shape-rendering="auto"/>
<path fill="#00ff00" d="M883.8 447.7L886.5 445.0L889.2 447.7L886.5 450.4z" shape-rendering="auto"/>
<path fill="#00ff00" d="M888.8 446.9L891.5 444.2L894.2 446.9L891.5 449.59999999999997z" shape-rendering="auto"/>
<path fill="#00ff00" d="M893.8 446.1L896.5 443.40000000000003L899.2 446.1L896.5 448.8z" shape-rendering="auto"/>
<path fill="#00ff00" d="M898.8 445.4L901.5 442.7L904.2 445.4L901.5 448.09999999999997z" shape-rendering="auto"/>
</g>
</g>
<g shape-rendering="crispEdges">
<g clip-path="url(#pp)">
<rect x="6" y="129" width="1" height="25" fill="#000" />
<rect x="5" y="131" width="3" height="22" fill="#000" />
<rect x="6" y="132" width="1" height="20" fill="#ff0000" />
<rect x="11" y="143" width="1" height="28" fill="#000" />
<rect x="10" y="151" width="3" height="15" fill="#000" />
<rect x="11" y="152" width="1" height="13" fill="#ff0000" />
<rect x="16" y="167" width="1" height="13" fill="#000" />
<rect x="15" y="168" width="3" height="12" fill="#000" />
<rect x="16" y="169" width="1" height="10" fill="#ff0000" />
<rect x="21" y="168" width="1" height="15" fill="#000" />
<rect x="20" y="170" width="3" height="10" fill="#000" />
<rect x="21" y="171" width="1" height="8" fill="#00ff00" />
<rect x="26" y="161" width="1" height="15" fill="#000" />
<rect x="25" y="163" width="3" height="6" fill="#000" />
<rect x="26" y="164" width="1" height="4" fill="#00ff00" />
<rect x="31" y="156" width="1" height="14" fill="#000" />
<rect x="30" y="156" width="3" height="6" fill="#000" />
<rect x="31" y="157" width="1" height="4" fill="#00ff00" />
<rect x="36" y="122" width="1" height="35" fill="#000" />
<rect x="35" y="123" width="3" height="29" fill="#000" />
<rect x="36" y="124" width="1" height="27" fill="#00ff00" />
<rect x="41" y="116" width="1" height="21" fill="#000" />
<rect x="40" y="123" width="3" height="10" fill="#000" />
<rect x="41" y="124" width="1" height="8" fill="#ff0000" />
<rect x="46" y="112" width="1" height="26" fill="#000" />
<rect x="45" y="112" width="3" height="19" fill="#000" />
<rect x="46" y="113" width="1" height="17" fill="#00ff00" />
<rect x="51" y="102" width="1" height="19" fill="#000" />
<rect x="50" y="104" width="3" height="13" fill="#000" />
<rect x="51" y="105" width="1" height="11" fill="#ff0000" />
<rect x="56" y="104" width="1" height="27" fill="#000" />
<rect x="55" y="114" width="3" height="12" fill="#000" />
<rect x="56" y="115" width="1" height="10" fill="#ff0000" />
<rect x="61" y="108" width="1" height="19" fill="#000" />
<rect x="60" y="117" width="3" height="9" fill="#000" />
<rect x="61" y="118" width="1" height="7" fill="#00ff00" />
<rect x="66" y="111" width="1" height="25" fill="#000" />
<rect x="65" y="116" width="3" height="5" fill="#000" />
<rect x="66" y="117" width="1" height="3" fill="#00ff00" />
<rect x="71" y="116" width="1" height="12" fill="#000" />
<rect x="70" y="118" width="3" height="6" fill="#000" />
<rect x="71" y="119" width="1" height="4" fill="#ff0000" />
<rect x="76" y="114" width="1" height="25" fill="#000" />
<rect x="75" y="114" width="3" height="10" fill="#000" />
<rect x="76" y="115" width="1" height="8" fill="#00ff00" />
<rect x="81" y="103" width="1" height="16" fill="#000" />
<rect x="80" y="103" width="3" height="5" fill="#000" />
<rect x="81" y="104" width="1" height="3" fill="#ff0000" />
<rect x="86" y="104" width="1" height="22" fill="#000" />
<rect x="85" y="108" width="3" height="16" fill="#000" />
<rect x="86" y="109" width="1" height="14" fill="#ff0000" />
<rect x="91" y="89" width="1" height="37" fill="#000" />
<rect x="90" y="89" width="3" height="35" fill="#000" />
<rect x="91" y="90" width="1" height="33" fill="#00ff00" />
<rect x="96" y="46" width="1" height="38" fill="#000" />
<rect x="95" y="52" width="3" height="31" fill="#000" />
<rect x="96" y="53" width="1" height="29" fill="#00ff00" />
<rect x="101" y="44" width="1" height="12" fill="#000" />
<rect x="100" y="48" width="3" height="4" fill="#000" />
<rect x="101" y="49" width="1" height="2" fill="#00ff00" />
<rect x="106" y="47" width="1" height="20" fill="#000" />
<rect x="105" y="47" width="3" height="12" fill="#000" />
<rect x="106" y="48" width="1" height="10" fill="#ff0000" />
<rect x="111" y="47" width="1" height="20" fill="#000" />
<rect x="110" y="52" width="3" height="1" fill="#000" />
<rect x="116" y="51" width="1" height="11" fill="#000" />
<rect x="115" y="52" width="3" height="10" fill="#000" />
<rect x="116" y="53" width="1" height="8" fill="#ff0000" />
<rect x="121" y="44" width="1" height="19" fill="#000" />
<rect x="120" y="44" width="3" height="17" fill="#000" />
<rect x="121" y="45" width="1" height="15" fill="#00ff00" />
<rect x="126" y="24" width="1" height="27" fill="#000" />
<rect x="125" y="45" width="3" height="1" fill="#000" />
<rect x="131" y="39" width="1" height="15" fill="#000" />
<rect x="130" y="44" width="3" height="9" fill="#000" />
<rect x="131" y="45" width="1" height="7" fill="#ff0000" />
<rect x="136" y="42" width="1" height="17" fill="#000" />
<rect x="135" y="54" width="3" height="4" fill="#000" />
<rect x="136" y="55" width="1" height="2" fill="#ff0000" />
<rect x="141" y="56" width="1" height="22" fill="#000" />
<rect x="140" y="58" width="3" height="6" fill="#000" />
<rect x="141" y="59" width="1" height="4" fill="#ff0000" />
<rect x="146" y="64" width="1" height="10" fill="#000" />
<rect x="145" y="64" width="3" height="4" fill="#000" />
<rect x="146" y="65" width="1" height="2" fill="#ff0000" />
<rect x="151" y="61" width="1" height="16" fill="#000" />
<rect x="150" y="68" width="3" height="1" fill="#000" />
<rect x="156" y="69" width="1" height="22" fill="#000" />
<rect x="155" y="72" width="3" height="15" fill="#000" />
<rect x="156" y="73" width="1" height="13" fill="#ff0000" />
<rect x="161" y="83" width="1" height="11" fill="#000" />
<rect x="160" y="87" width="3" height="4" fill="#000" />
<rect x="161" y="88" width="1" height="2" fill="#ff0000" />
<rect x="166" y="87" width="1" height="17" fill="#000" />
<rect x="165" y="91" width="3" height="8" fill="#000" />
<rect x="166" y="92" width="1" height="6" fill="#ff0000" />
<rect x="171" y="82" width="1" height="16" fill="#000" />
<rect x="170" y="89" width="3" height="4" fill="#000" />
<rect x="171" y="90" width="1" height="2" fill="#00ff00" />
<rect x="176" y="88" width="1" height="20" fill="#000" />
<rect x="175" y="91" width="3" height="12" fill="#000" />
<rect x="176" y="92" width="1" height="10" fill="#ff0000" />
<rect x="181" y="96" width="1" height="16" fill="#000" />
<rect x="180" y="102" width="3" height="1" fill="#000" />
<rect x="186" y="101" width="1" height="40" fill="#000" />
<rect x="185" y="101" width="3" height="35" fill="#000" />
<rect x="186" y="102" width="1" height="33" fill="#ff0000" />
<rect x="191" y="131" width="1" height="16" fill="#000" />
<rect x="190" y="138" width="3" height="8" fill="#000" />
<rect x="191" y="139" width="1" height="6" fill="#ff0000" />
<rect x="196" y="142" width="1" height="23" fill="#000" />
<rect x="195" y="144" width="3" height="10" fill="#000" />
<rect x="196" y="145" width="1" height="8" fill="#ff0000" />
<rect x="201" y="137" width="1" height="33" fill="#000" />
<rect x="200" y="158" width="3" height="12" fill="#000" />
<rect x="201" y="159" width="1" height="10" fill="#ff0000" />
<rect x="211" y="144" width="1" height="24" fill="#000" />
<rect x="210" y="146" width="3" height="14" fill="#000" />
<rect x="211" y="147" width="1" height="12" fill="#00ff00" />
<rect x="216" y="114" width="1" height="34" fill="#000" />
<rect x="215" y="135" width="3" height="1" fill="#000" />
<rect x="221" y="94" width="1" height="24" fill="#000" />
<rect x="220" y="108" width="3" height="9" fill="#000" />
<rect x="221" y="109" width="1" height="7" fill="#00ff00" />
<rect x="226" y="96" width="1" height="11" fill="#000" />
<rect x="225" y="101" width="3" height="6" fill="#000" />
<rect x="226" y="102" width="1" height="4" fill="#ff0000" />
<rect x="231" y="68" width="1" height="23" fill="#000" />
<rect x="230" y="74" width="3" height="11" fill="#000" />
<rect x="231" y="75" width="1" height="9" fill="#00ff00" />
<rect x="236" y="71" width="1" height="17" fill="#000" />
<rect x="235" y="74" width="3" height="11" fill="#000" />
<rect x="236" y="75" width="1" height="9" fill="#ff0000" />
<rect x="241" y="76" width="1" height="18" fill="#000" />
<rect x="240" y="77" width="3" height="8" fill="#000" />
<rect x="241" y="78" width="1" height="6" fill="#00ff00" />
<rect x="246" y="72" width="1" height="22" fill="#000" />
<rect x="245" y="84" width="3" height="2" fill="#000" />
<rect x="251" y="79" width="1" height="17" fill="#000" />
<rect x="250" y="84" width="3" height="6" fill="#000" />
<rect x="251" y="85" width="1" height="4" fill="#ff0000" />
<rect x="256" y="87" width="1" height="24" fill="#000" />
<rect x="255" y="91" width="3" height="19" fill="#000" />
<rect x="256" y="92" width="1" height="17" fill="#ff0000" />
<rect x="261" y="112" width="1" height="32" fill="#000" />
<rect x="260" y="117" width="3" height="26" fill="#000" />
<rect x="261" y="118" width="1" height="24" fill="#ff0000" />
<rect x="266" y="133" width="1" height="20" fill="#000" />
<rect x="265" y="143" width="3" height="4" fill="#000" />
<rect x="266" y="144" width="1" height="2" fill="#ff0000" />
<rect x="271" y="137" width="1" height="16" fill="#000" />
<rect x="270" y="146" width="3" height="1" fill="#000" />
<rect x="276" y="118" width="1" height="14" fill="#000" />
<rect x="275" y="121" width="3" height="6" fill="#000" />
<rect x="276" y="122" width="1" height="4" fill="#00ff00" />
<rect x="281" y="117" width="1" height="16" fill="#000" />
<rect x="280" y="121" width="3" height="9" fill="#000" />
<rect x="281" y="122" width="1" height="7" fill="#ff0000" />
<rect x="286" y="130" width="1" height="16" fill="#000" />
<rect x="285" y="131" width="3" height="15" fill="#000" />
<rect x="286" y="132" width="1" height="13" fill="#ff0000" />
<rect x="291" y="104" width="1" height="27" fill="#000" />
<rect x="290" y="123" width="3" height="8" fill="#000" />
<rect x="291" y="124" width="1" height="6" fill="#00ff00" />
<rect x="296" y="123" width="1" height="19" fill="#000" />
<rect x="295" y="124" width="3" height="9" fill="#000" />
<rect x="296" y="125" width="1" height="7" fill="#ff0000" />
<rect x="301" y="109" width="1" height="24" fill="#000" />
<rect x="300" y="109" width="3" height="24" fill="#000" />
<rect x="301" y="110" width="1" height="22" fill="#00ff00" />
<rect x="306" y="99" width="1" height="13" fill="#000" />
<rect x="305" y="102" width="3" height="7" fill="#000" />
<rect x="306" y="103" width="1" height="5" fill="#00ff00" />
<rect x="311" y="91" width="1" height="18" fill="#000" />
<rect x="310" y="97" width="3" height="5" fill="#000" />
<rect x="311" y="98" width="1" height="3" fill="#00ff00" />
<rect x="316" y="94" width="1" height="17" fill="#000" />
<rect x="315" y="99" width="3" height="12" fill="#000" />
<rect x="316" y="100" width="1" height="10" fill="#ff0000" />
<rect x="321" y="127" width="1" height="14" fill="#000" />
<rect x="320" y="131" width="3" height="5" fill="#000" />
<rect x="321" y="132" width="1" height="3" fill="#ff0000" />
<rect x="326" y="136" width="1" height="22" fill="#000" />
<rect x="325" y="136" width="3" height="16" fill="#000" />
<rect x="326" y="137" width="1" height="14" fill="#ff0000" />
<rect x="331" y="151" width="1" height="11" fill="#000" />
<rect x="330" y="153" width="3" height="7" fill="#000" />
<rect x="331" y="154" width="1" height="5" fill="#ff0000" />
<rect x="336" y="151" width="1" height="31" fill="#000" />
<rect x="335" y="152" width="3" height="28" fill="#000" />
<rect x="336" y="153" width="1" height="26" fill="#ff0000" />
<rect x="341" y="154" width="1" height="33" fill="#000" />
<rect x="340" y="161" width="3" height="18" fill="#000" />
<rect x="341" y="162" width="1" height="16" fill="#00ff00" />
<rect x="346" y="152" width="1" height="11" fill="#000" />
<rect x="345" y="157" width="3" height="3" fill="#000" />
<rect x="346" y="158" width="1" height="1" fill="#00ff00" />
<rect x="351" y="158" width="1" height="20" fill="#000" />
<rect x="350" y="170" width="3" height="2" fill="#000" />
<rect x="356" y="167" width="1" height="13" fill="#000" />
<rect x="355" y="172" width="3" height="2" fill="#000" />
<rect x="361" y="171" width="1" height="30" fill="#000" />
<rect x="360" y="172" width="3" height="23" fill="#000" />
<rect x="361" y="173" width="1" height="21" fill="#ff0000" />
<rect x="366" y="188" width="1" height="30" fill="#000" />
<rect x="365" y="190" width="3" height="12" fill="#000" />
<rect x="366" y="191" width="1" height="10" fill="#00ff00" />
<rect x="371" y="168" width="1" height="33" fill="#000" />
<rect x="370" y="170" width="3" height="19" fill="#000" />
<rect x="371" y="171" width="1" height="17" fill="#00ff00" />
<rect x="376" y="161" width="1" height="11" fill="#000" />
<rect x="375" y="165" width="3" height="3" fill="#000" />
<rect x="376" y="166" width="1" height="1" fill="#00ff00" />
<rect x="381" y="157" width="1" height="21" fill="#000" />
<rect x="380" y="161" width="3" height="10" fill="#000" />
<rect x="381" y="162" width="1" height="8" fill="#ff0000" />
<rect x="386" y="151" width="1" height="25" fill="#000" />
<rect x="385" y="157" width="3" height="14" fill="#000" />
<rect x="386" y="158" width="1" height="12" fill="#00ff00" />
<rect x="391" y="133" width="1" height="26" fill="#000" />
<rect x="390" y="133" width="3" height="22" fill="#000" />
<rect x="391" y="134" width="1" height="20" fill="#00ff00" />
<rect x="396" y="134" width="1" height="18" fill="#000" />
<rect x="395" y="143" width="3" height="2" fill="#000" />
<rect x="401" y="138" width="1" height="18" fill="#000" />
<rect x="400" y="146" width="3" height="9" fill="#000" />
<rect x="401" y="147" width="1" height="7" fill="#ff0000" />
<rect x="406" y="154" width="1" height="18" fill="#000" />
<rect x="405" y="156" width="3" height="13" fill="#000" />
<rect x="406" y="157" width="1" height="11" fill="#ff0000" />
<rect x="411" y="159" width="1" height="29" fill="#000" />
<rect x="410" y="168" width="3" height="14" fill="#000" />
<rect x="411" y="169" width="1" height="12" fill="#00ff00" />
<rect x="416" y="154" width="1" height="23" fill="#000" />
<rect x="415" y="162" width="3" height="5" fill="#000" />
<rect x="416" y="163" width="1" height="3" fill="#00ff00" />
<rect x="421" y="159" width="1" height="14" fill="#000" />
<rect x="420" y="161" width="3" height="6" fill="#000" />
<rect x="421" y="162" width="1" height="4" fill="#ff0000" />
<rect x="426" y="149" width="1" height="38" fill="#000" />
<rect x="425" y="157" width="3" height="15" fill="#000" />
<rect x="426" y="158" width="1" height="13" fill="#00ff00" />
<rect x="431" y="139" width="1" height="21" fill="#000" />
<rect x="430" y="146" width="3" height="12" fill="#000" />
<rect x="431" y="147" width="1" height="10" fill="#00ff00" />
<rect x="436" y="136" width="1" height="15" fill="#000" />
<rect x="435" y="143" width="3" height="2" fill="#000" />
<rect x="441" y="136" width="1" height="22" fill="#000" />
<rect x="440" y="138" width="3" height="13" fill="#000" />
<rect x="441" y="139" width="1" height="11" fill="#ff0000" />
<rect x="446" y="150" width="1" height="32" fill="#000" />
<rect x="445" y="152" width="3" height="22" fill="#000" />
<rect x="446" y="153" width="1" height="20" fill="#ff0000" />
<rect x="451" y="164" width="1" height="23" fill="#000" />
<rect x="450" y="175" width="3" height="11" fill="#000" />
<rect x="451" y="176" width="1" height="9" fill="#ff0000" />
<rect x="456" y="156" width="1" height="26" fill="#000" />
<rect x="455" y="165" width="3" height="16" fill="#000" />
<rect x="456" y="166" width="1" height="14" fill="#00ff00" />
<rect x="461" y="163" width="1" height="42" fill="#000" />
<rect x="460" y="164" width="3" height="25" fill="#000" />
<rect x="461" y="165" width="1" height="23" fill="#ff0000" />
<rect x="466" y="185" width="1" height="22" fill="#000" />
<rect x="465" y="191" width="3" height="6" fill="#000" />
<rect x="466" y="192" width="1" height="4" fill="#ff0000" />
<rect x="471" y="190" width="1" height="28" fill="#000" />
<rect x="470" y="197" width="3" height="10" fill="#000" />
<rect x="471" y="198" width="1" height="8" fill="#ff0000" />
<rect x="476" y="202" width="1" height="29" fill="#000" />
<rect x="475" y="210" width="3" height="12" fill="#000" />
<rect x="476" y="211" width="1" height="10" fill="#ff0000" />
<rect x="481" y="205" width="1" height="18" fill="#000" />
<rect x="480" y="211" width="3" height="11" fill="#000" />
<rect x="481" y="212" width="1" height="9" fill="#00ff00" />
<rect x="486" y="217" width="1" height="42" fill="#000" />
<rect x="485" y="220" width="3" height="31" fill="#000" />
<rect x="486" y="221" width="1" height="29" fill="#ff0000" />
<rect x="491" y="248" width="1" height="34" fill="#000" />
<rect x="490" y="253" width="3" height="24" fill="#000" />
<rect x="491" y="254" width="1" height="22" fill="#ff0000" />
<rect x="496" y="275" width="1" height="13" fill="#000" />
<rect x="495" y="278" width="3" height="9" fill="#000" />
<rect x="496" y="279" width="1" height="7" fill="#ff0000" />
<rect x="501" y="262" width="1" height="25" fill="#000" />
<rect x="500" y="271" width="3" height="15" fill="#000" />
<rect x="501" y="272" width="1" height="13" fill="#00ff00" />
<rect x="506" y="270" width="1" height="24" fill="#000" />
<rect x="505" y="271" width="3" height="8" fill="#000" />
<rect x="506" y="272" width="1" height="6" fill="#ff0000" />
<rect x="511" y="263" width="1" height="18" fill="#000" />
<rect x="510" y="271" width="3" height="9" fill="#000" />
<rect x="511" y="272" width="1" height="7" fill="#00ff00" />
<rect x="516" y="254" width="1" height="15" fill="#000" />
<rect x="515" y="261" width="3" height="4" fill="#000" />
<rect x="516" y="262" width="1" height="2" fill="#00ff00" />
<rect x="521" y="227" width="1" height="33" fill="#000" />
<rect x="520" y="235" width="3" height="20" fill="#000" />
<rect x="521" y="236" width="1" height="18" fill="#00ff00" />
<rect x="526" y="231" width="1" height="21" fill="#000" />
<rect x="525" y="233" width="3" height="18" fill="#000" />
<rect x="526" y="234" width="1" height="16" fill="#ff0000" />
<rect x="531" y="226" width="1" height="25" fill="#000" />
<rect x="530" y="243" width="3" height="5" fill="#000" />
<rect x="531" y="244" width="1" height="3" fill="#00ff00" />
<rect x="536" y="237" width="1" height="10" fill="#000" />
<rect x="535" y="243" width="3" height="1" fill="#000" />
<rect x="541" y="230" width="1" height="20" fill="#000" />
<rect x="540" y="241" width="3" height="1" fill="#000" />
<rect x="546" y="217" width="1" height="39" fill="#000" />
<rect x="545" y="220" width="3" height="24" fill="#000" />
<rect x="546" y="221" width="1" height="22" fill="#00ff00" />
<rect x="551" y="210" width="1" height="12" fill="#000" />
<rect x="550" y="211" width="3" height="7" fill="#000" />
<rect x="551" y="212" width="1" height="5" fill="#00ff00" />
<rect x="556" y="202" width="1" height="13" fill="#000" />
<rect x="555" y="207" width="3" height="4" fill="#000" />
<rect x="556" y="208" width="1" height="2" fill="#00ff00" />
<rect x="561" y="195" width="1" height="15" fill="#000" />
<rect x="560" y="198" width="3" height="8" fill="#000" />
<rect x="561" y="199" width="1" height="6" fill="#ff0000" />
<rect x="566" y="196" width="1" height="17" fill="#000" />
<rect x="565" y="205" width="3" height="6" fill="#000" />
<rect x="566" y="206" width="1" height="4" fill="#ff0000" />
<rect x="571" y="203" width="1" height="7" fill="#000" />
<rect x="570" y="210" width="3" height="1" fill="#000" />
<rect x="576" y="187" width="1" height="19" fill="#000" />
<rect x="575" y="197" width="3" height="1" fill="#000" />
<rect x="581" y="196" width="1" height="29" fill="#000" />
<rect x="580" y="198" width="3" height="18" fill="#000" />
<rect x="581" y="199" width="1" height="16" fill="#ff0000" />
<rect x="586" y="216" width="1" height="11" fill="#000" />
<rect x="585" y="220" width="3" height="6" fill="#000" />
<rect x="586" y="221" width="1" height="4" fill="#ff0000" />
<rect x="591" y="223" width="1" height="17" fill="#000" />
<rect x="590" y="225" width="3" height="3" fill="#000" />
<rect x="591" y="226" width="1" height="1" fill="#ff0000" />
<rect x="596" y="218" width="1" height="20" fill="#000" />
<rect x="595" y="228" width="3" height="6" fill="#000" />
<rect x="596" y="229" width="1" height="4" fill="#ff0000" />
<rect x="601" y="235" width="1" height="15" fill="#000" />
<rect x="600" y="236" width="3" height="7" fill="#000" />
<rect x="601" y="237" width="1" height="5" fill="#ff0000" />
<rect x="606" y="261" width="1" height="25" fill="#000" />
<rect x="605" y="265" width="3" height="21" fill="#000" />
<rect x="606" y="266" width="1" height="19" fill="#00ff00" />
<rect x="611" y="240" width="1" height="25" fill="#000" />
<rect x="610" y="255" width="3" height="8" fill="#000" />
<rect x="611" y="256" width="1" height="6" fill="#00ff00" />
<rect x="616" y="238" width="1" height="24" fill="#000" />
<rect x="615" y="239" width="3" height="14" fill="#000" />
<rect x="616" y="240" width="1" height="12" fill="#00ff00" />
<rect x="621" y="241" width="1" height="25" fill="#000" />
<rect x="620" y="241" width="3" height="19" fill="#000" />
<rect x="621" y="242" width="1" height="17" fill="#ff0000" />
<rect x="626" y="247" width="1" height="19" fill="#000" />
<rect x="625" y="260" width="3" height="3" fill="#000" />
<rect x="626" y="261" width="1" height="1" fill="#ff0000" />
<rect x="631" y="263" width="1" height="27" fill="#000" />
<rect x="630" y="265" width="3" height="21" fill="#000" />
<rect x="631" y="266" width="1" height="19" fill="#ff0000" />
<rect x="636" y="270" width="1" height="25" fill="#000" />
<rect x="635" y="277" width="3" height="16" fill="#000" />
<rect x="636" y="278" width="1" height="14" fill="#ff0000" />
<rect x="641" y="290" width="1" height="25" fill="#000" />
<rect x="640" y="292" width="3" height="13" fill="#000" />
<rect x="641" y="293" width="1" height="11" fill="#ff0000" />
<rect x="646" y="301" width="1" height="20" fill="#000" />
<rect x="645" y="302" width="3" height="3" fill="#000" />
<rect x="646" y="303" width="1" height="1" fill="#00ff00" />
<rect x="651" y="285" width="1" height="20" fill="#000" />
<rect x="650" y="290" width="3" height="10" fill="#000" />
<rect x="651" y="291" width="1" height="8" fill="#ff0000" />
<rect x="656" y="277" width="1" height="26" fill="#000" />
<rect x="655" y="283" width="3" height="18" fill="#000" />
<rect x="656" y="284" width="1" height="16" fill="#00ff00" />
<rect x="661" y="281" width="1" height="10" fill="#000" />
<rect x="660" y="281" width="3" height="7" fill="#000" />
<rect x="661" y="282" width="1" height="5" fill="#ff0000" />
<rect x="666" y="296" width="1" height="19" fill="#000" />
<rect x="665" y="302" width="3" height="4" fill="#000" />
<rect x="666" y="303" width="1" height="2" fill="#ff0000" />
<rect x="671" y="302" width="1" height="20" fill="#000" />
<rect x="670" y="308" width="3" height="2" fill="#000" />
<rect x="676" y="302" width="1" height="10" fill="#000" />
<rect x="675" y="306" width="3" height="5" fill="#000" />
<rect x="676" y="307" width="1" height="3" fill="#00ff00" />
<rect x="681" y="308" width="1" height="55" fill="#000" />
<rect x="680" y="315" width="3" height="37" fill="#000" />
<rect x="681" y="316" width="1" height="35" fill="#ff0000" />
<rect x="686" y="346" width="1" height="19" fill="#000" />
<rect x="685" y="351" width="3" height="2" fill="#000" />
<rect x="691" y="347" width="1" height="17" fill="#000" />
<rect x="690" y="353" width="3" height="2" fill="#000" />
<rect x="696" y="335" width="1" height="29" fill="#000" />
<rect x="695" y="347" width="3" height="9" fill="#000" />
<rect x="696" y="348" width="1" height="7" fill="#ff0000" />
<rect x="701" y="348" width="1" height="37" fill="#000" />
<rect x="700" y="357" width="3" height="12" fill="#000" />
<rect x="701" y="358" width="1" height="10" fill="#ff0000" />
<rect x="706" y="365" width="1" height="17" fill="#000" />
<rect x="705" y="368" width="3" height="8" fill="#000" />
<rect x="706" y="369" width="1" height="6" fill="#ff0000" />
<rect x="711" y="394" width="1" height="36" fill="#000" />
<rect x="710" y="395" width="3" height="16" fill="#000" />
<rect x="711" y="396" width="1" height="14" fill="#ff0000" />
<rect x="716" y="372" width="1" height="43" fill="#000" />
<rect x="715" y="375" width="3" height="36" fill="#000" />
<rect x="716" y="376" width="1" height="34" fill="#00ff00" />
<rect x="721" y="358" width="1" height="21" fill="#000" />
<rect x="720" y="365" width="3" height="9" fill="#000" />
<rect x="721" y="366" width="1" height="7" fill="#00ff00" />
<rect x="726" y="358" width="1" height="31" fill="#000" />
<rect x="725" y="363" width="3" height="16" fill="#000" />
<rect x="726" y="364" width="1" height="14" fill="#ff0000" />
<rect x="731" y="377" width="1" height="52" fill="#000" />
<rect x="730" y="381" width="3" height="35" fill="#000" />
<rect x="731" y="382" width="1" height="33" fill="#ff0000" />
<rect x="736" y="409" width="1" height="33" fill="#000" />
<rect x="735" y="417" width="3" height="25" fill="#000" />
<rect x="736" y="418" width="1" height="23" fill="#ff0000" />
<rect x="741" y="445" width="1" height="37" fill="#000" />
<rect x="740" y="456" width="3" height="1" fill="#000" />
<rect x="746" y="419" width="1" height="40" fill="#000" />
<rect x="745" y="434" width="3" height="20" fill="#000" />
<rect x="746" y="435" width="1" height="18" fill="#00ff00" />
<rect x="751" y="422" width="1" height="18" fill="#000" />
<rect x="750" y="431" width="3" height="3" fill="#000" />
<rect x="751" y="432" width="1" height="1" fill="#00ff00" />
<rect x="756" y="394" width="1" height="37" fill="#000" />
<rect x="755" y="399" width="3" height="31" fill="#000" />
<rect x="756" y="400" width="1" height="29" fill="#00ff00" />
<rect x="761" y="389" width="1" height="18" fill="#000" />
<rect x="760" y="397" width="3" height="6" fill="#000" />
<rect x="761" y="398" width="1" height="4" fill="#ff0000" />
<rect x="766" y="385" width="1" height="20" fill="#000" />
<rect x="765" y="389" width="3" height="15" fill="#000" />
<rect x="766" y="390" width="1" height="13" fill="#00ff00" />
<rect x="771" y="379" width="1" height="37" fill="#000" />
<rect x="770" y="388" width="3" height="18" fill="#000" />
<rect x="771" y="389" width="1" height="16" fill="#ff0000" />
<rect x="776" y="390" width="1" height="22" fill="#000" />
<rect x="775" y="400" width="3" height="7" fill="#000" />
<rect x="776" y="401" width="1" height="5" fill="#00ff00" />
<rect x="781" y="378" width="1" height="23" fill="#000" />
<rect x="780" y="392" width="3" height="8" fill="#000" />
<rect x="781" y="393" width="1" height="6" fill="#00ff00" />
<rect x="786" y="412" width="1" height="34" fill="#000" />
<rect x="785" y="416" width="3" height="28" fill="#000" />
<rect x="786" y="417" width="1" height="26" fill="#ff0000" />
<rect x="791" y="431" width="1" height="20" fill="#000" />
<rect x="790" y="436" width="3" height="8" fill="#000" />
<rect x="791" y="437" width="1" height="6" fill="#00ff00" />
<rect x="796" y="431" width="1" height="39" fill="#000" />
<rect x="795" y="436" width="3" height="34" fill="#000" />
<rect x="796" y="437" width="1" height="32" fill="#ff0000" />
<rect x="801" y="445" width="1" height="61" fill="#000" />
<rect x="800" y="455" width="3" height="26" fill="#000" />
<rect x="801" y="456" width="1" height="24" fill="#ff0000" />
<rect x="806" y="451" width="1" height="35" fill="#000" />
<rect x="805" y="474" width="3" height="7" fill="#000" />
<rect x="806" y="475" width="1" height="5" fill="#00ff00" />
<rect x="811" y="457" width="1" height="19" fill="#000" />
<rect x="810" y="470" width="3" height="4" fill="#000" />
<rect x="811" y="471" width="1" height="2" fill="#00ff00" />
<rect x="816" y="436" width="1" height="38" fill="#000" />
<rect x="815" y="447" width="3" height="22" fill="#000" />
<rect x="816" y="448" width="1" height="20" fill="#00ff00" />
<rect x="821" y="444" width="1" height="51" fill="#000" />
<rect x="820" y="449" width="3" height="26" fill="#000" />
<rect x="821" y="450" width="1" height="24" fill="#ff0000" />
<rect x="826" y="466" width="1" height="9" fill="#000" />
<rect x="825" y="467" width="3" height="4" fill="#000" />
<rect x="826" y="468" width="1" height="2" fill="#00ff00" />
<rect x="831" y="435" width="1" height="25" fill="#000" />
<rect x="830" y="445" width="3" height="2" fill="#000" />
<rect x="836" y="444" width="1" height="11" fill="#000" />
<rect x="835" y="447" width="3" height="2" fill="#000" />
<rect x="841" y="446" width="1" height="11" fill="#000" />
<rect x="840" y="448" width="3" height="2" fill="#000" />
<rect x="846" y="439" width="1" height="27" fill="#000" />
<rect x="845" y="442" width="3" height="16" fill="#000" />
<rect x="846" y="443" width="1" height="14" fill="#ff0000" />
<rect x="851" y="424" width="1" height="36" fill="#000" />
<rect x="850" y="429" width="3" height="27" fill="#000" />
<rect x="851" y="430" width="1" height="25" fill="#00ff00" />
<rect x="856" y="401" width="1" height="36" fill="#000" />
<rect x="855" y="411" width="3" height="17" fill="#000" />
<rect x="856" y="412" width="1" height="15" fill="#00ff00" />
<rect x="861" y="422" width="1" height="27" fill="#000" />
<rect x="860" y="424" width="3" height="17" fill="#000" />
<rect x="861" y="425" width="1" height="15" fill="#ff0000" />
<rect x="866" y="414" width="1" height="41" fill="#000" />
<rect x="865" y="436" width="3" height="5" fill="#000" />
<rect x="866" y="437" width="1" height="3" fill="#00ff00" />
<rect x="871" y="431" width="1" height="14" fill="#000" />
<rect x="870" y="436" width="3" height="4" fill="#000" />
<rect x="871" y="437" width="1" height="2" fill="#ff0000" />
<rect x="876" y="405" width="1" height="40" fill="#000" />
<rect x="875" y="414" width="3" height="20" fill="#000" />
<rect x="876" y="415" width="1" height="18" fill="#00ff00" />
<rect x="881" y="407" width="1" height="23" fill="#000" />
<rect x="880" y="414" width="3" height="11" fill="#000" />
<rect x="881" y="415" width="1" height="9" fill="#ff0000" />
<rect x="886" y="414" width="1" height="16" fill="#000" />
<rect x="885" y="415" width="3" height="10" fill="#000" />
<rect x="886" y="416" width="1" height="8" fill="#00ff00" />
<rect x="891" y="401" width="1" height="47" fill="#000" />
<rect x="890" y="417" width="3" height="19" fill="#000" />
<rect x="891" y="418" width="1" height="17" fill="#ff0000" />
<rect x="896" y="431" width="1" height="38" fill="#000" />
<rect x="895" y="436" width="3" height="10" fill="#000" />
<rect x="896" y="437" width="1" height="8" fill="#ff0000" />
<rect x="901" y="427" width="1" height="20" fill="#000" />
<rect x="900" y="434" width="3" height="12" fill="#000" />
<rect x="901" y="435" width="1" height="10" fill="#00ff00" />
<rect x="906" y="422" width="1" height="39" fill="#000" />
<rect x="905" y="426" width="3" height="30" fill="#000" />
<rect x="906" y="427" width="1" height="28" fill="#00ff00" />
<path fill="#ff0000" d="M124 1h5v1h-5zM124 2h4v1h-4zM125 3h3v1h-3zM125 4h2v1h-2zM126 5h1v1h-1z"/>
<path fill="#ff0000" d="M99 20h5v1h-5zM99 21h4v1h-4zM100 22h3v1h-3zM100 23h2v1h-2zM101 24h1v1h-1z"/>
<path fill="#ff0000" d="M49 77h5v1h-5zM49 78h4v1h-4zM50 79h3v1h-3zM50 80h2v1h-2zM51 81h1v1h-1z"/>
<path fill="#ff0000" d="M79 79h5v1h-5zM79 80h4v1h-4zM80 81h3v1h-3zM80 82h2v1h-2zM81 83h1v1h-1z"/>
<path fill="#ff0000" d="M84 80h5v1h-5zM84 81h4v1h-4zM85 82h3v1h-3zM85 83h2v1h-2zM86 84h1v1h-1z"/>
<path fill="#ff0000" d="M34 97h5v1h-5zM34 98h4v1h-4zM35 99h3v1h-3zM35 100h2v1h-2zM36 101h1v1h-1z"/>
<path fill="#ff0000" d="M309 66h5v1h-5zM309 67h4v1h-4zM310 68h3v1h-3zM310 69h2v1h-2zM311 70h1v1h-1z"/>
<path fill="#ff0000" d="M289 80h5v1h-5zM289 81h4v1h-4zM290 82h3v1h-3zM290 83h2v1h-2zM291 84h1v1h-1z"/>
<path fill="#ff0000" d="M374 136h5v1h-5zM374 137h4v1h-4zM375 138h3v1h-3zM375 139h2v1h-2zM376 140h1v1h-1z"/>
<path fill="#ff0000" d="M559 170h5v1h-5zM559 171h4v1h-4zM560 172h3v1h-3zM560 173h2v1h-2zM561 174h1v1h-1z"/>
<path fill="#ff0000" d="M574 161h5v1h-5zM574 162h4v1h-4zM575 163h3v1h-3zM575 164h2v1h-2zM576 165h1v1h-1z"/>
<path fill="#ff0000" d="M674 277h5v1h-5zM674 278h4v1h-4zM675 279h3v1h-3zM675 280h2v1h-2zM676 281h1v1h-1z"/>
<path fill="#ff0000" d="M829 410h5v1h-5zM829 411h4v1h-4zM830 412h3v1h-3zM830 413h2v1h-2zM831 414h1v1h-1z"/>
<path fill="#ff0000" d="M854 378h5v1h-5zM854 379h4v1h-4zM855 380h3v1h-3zM855 381h2v1h-2zM856 382h1v1h-1z"/>
<path fill="#ffd454" d="M899 403h5v1h-5zM899 404h4v1h-4zM900 405h3v1h-3zM900 406h2v1h-2zM901 407h1v1h-1z"/>
<path fill="#00ff00" d="M6 175h1v1h-1zM5 176h2v1h-2zM5 177h3v1h-3zM4 178h4v1h-4zM4 179h5v1h-5z"/>
<path fill="#00ff00" d="M146 95h1v1h-1zM145 96h2v1h-2zM145 97h3v1h-3zM144 98h4v1h-4zM144 99h5v1h-5z"/>
<path fill="#00ff00" d="M166 125h1v1h-1zM165 126h2v1h-2zM165 127h3v1h-3zM164 128h4v1h-4zM164 129h5v1h-5z"/>
<path fill="#00ff00" d="M261 165h1v1h-1zM260 166h2v1h-2zM260 167h3v1h-3zM259 168h4v1h-4zM259 169h5v1h-5z"/>
<path fill="#00ff00" d="M296 163h1v1h-1zM295 164h2v1h-2zM295 165h3v1h-3zM294 166h4v1h-4zM294 167h5v1h-5z"/>
<path fill="#00ff00" d="M321 161h1v1h-1zM320 162h2v1h-2zM320 163h3v1h-3zM319 164h4v1h-4zM319 165h5v1h-5z"/>
<path fill="#00ff00" d="M366 239h1v1h-1zM365 240h2v1h-2zM365 241h3v1h-3zM364 242h4v1h-4zM364 243h5v1h-5z"/>
<path fill="#00ff00" d="M476 251h1v1h-1zM475 252h2v1h-2zM475 253h3v1h-3zM474 254h4v1h-4zM474 255h5v1h-5z"/>
<path fill="#00ff00" d="M496 309h1v1h-1zM495 310h2v1h-2zM495 311h3v1h-3zM494 312h4v1h-4zM494 313h5v1h-5z"/>
<path fill="#00ff00" d="M606 306h1v1h-1zM605 307h2v1h-2zM605 308h3v1h-3zM604 309h4v1h-4zM604 310h5v1h-5z"/>
<path fill="#00ff00" d="M631 310h1v1h-1zM630 311h2v1h-2zM630 312h3v1h-3zM629 313h4v1h-4zM629 314h5v1h-5z"/>
<path fill="#00ff00" d="M636 315h1v1h-1zM635 316h2v1h-2zM635 317h3v1h-3zM634 318h4v1h-4zM634 319h5v1h-5z"/>
<path fill="#00ff00" d="M641 335h1v1h-1zM640 336h2v1h-2zM640 337h3v1h-3zM639 338h4v1h-4zM639 339h5v1h-5z"/>
<path fill="#00ff00" d="M646 341h1v1h-1zM645 342h2v1h-2zM645 343h3v1h-3zM644 344h4v1h-4zM644 345h5v1h-5z"/>
<path fill="#00ff00" d="M711 450h1v1h-1zM710 451h2v1h-2zM710 452h3v1h-3zM709 453h4v1h-4zM709 454h5v1h-5z"/>
<path fill="#00ff00" d="M836 475h1v1h-1zM835 476h2v1h-2zM835 477h3v1h-3zM834 478h4v1h-4zM834 479h5v1h-5z"/>
<path fill="#00ff00" d="M826 510h1v1h-1zM825 511h2v1h-2zM825 512h3v1h-3zM824 513h4v1h-4zM824 514h5v1h-5z"/>
<path fill="#00ff00" d="M871 465h1v1h-1zM870 466h2v1h-2zM870 467h3v1h-3zM869 468h4v1h-4zM869 469h5v1h-5z"/>
</g>
</g>
<g clip-path="url(#pp)">
<g shape-rendering="crispEdges">
<rect x="720" y="355" width="312" height="3" fill="#ff00ff" />
<rect x="780" y="376" width="252" height="3" fill="#ff00ff" />
<rect x="741" y="481" width="291" height="3" fill="#ff00ff" />
<rect x="801" y="506" width="231" height="3" fill="#ff00ff" />
</g>
<line x1="506.9" y1="294.5" x2="577.9" y2="186.5" stroke="#0000ff" stroke-width="3.7" shape-rendering="crispEdges"/>
<line x1="800.9" y1="507.7" x2="893.4" y2="399.5" stroke="#0000ff" stroke-width="3.5" shape-rendering="crispEdges"/>
<line x1="202" y1="176" x2="231" y2="66" stroke="#8b0020" stroke-width="4.4" shape-rendering="crispEdges"/>
<rect x="117.5" y="11.806000000000001" width="20.5" height="13.293999999999999" fill="#fff" />
<text x="118.5" y="22.5" font-family='"Liberation Sans",sans-serif' font-size="12.6" font-weight="bold" font-style="italic" fill="#0000ff" text-anchor="start" textLength="18.5" lengthAdjust="spacingAndGlyphs" >126</text>
<rect x="9.5" y="183.806" width="25.5" height="13.293999999999999" fill="#fff" />
<text x="10.5" y="194.5" font-family='"Liberation Sans",sans-serif' font-size="12.6" font-weight="bold" font-style="italic" fill="#0000ff" text-anchor="start" textLength="23.5" lengthAdjust="spacingAndGlyphs" >-170</text>
<rect x="189.5" y="178.006" width="25.5" height="13.293999999999999" fill="#fff" />
<text x="190.5" y="188.7" font-family='"Liberation Sans",sans-serif' font-size="12.6" font-weight="bold" font-style="italic" fill="#0000ff" text-anchor="start" textLength="23.5" lengthAdjust="spacingAndGlyphs" >-121</text>
<rect x="384.5" y="118.706" width="15.0" height="13.293999999999999" fill="#fff" />
<text x="385.5" y="129.4" font-family='"Liberation Sans",sans-serif' font-size="12.6" font-weight="bold" font-style="italic" fill="#0000ff" text-anchor="start" textLength="13.0" lengthAdjust="spacingAndGlyphs" >68</text>
<rect x="354" y="219.006" width="25.5" height="13.293999999999999" fill="#fff" />
<text x="355" y="229.7" font-family='"Liberation Sans",sans-serif' font-size="12.6" font-weight="bold" font-style="italic" fill="#0000ff" text-anchor="start" textLength="23.5" lengthAdjust="spacingAndGlyphs" >-122</text>
<rect x="569.5" y="171.70600000000002" width="14.5" height="13.293999999999999" fill="#fff" />
<text x="570.5" y="182.4" font-family='"Liberation Sans",sans-serif' font-size="12.6" font-weight="bold" font-style="italic" fill="#0000ff" text-anchor="start" textLength="12.5" lengthAdjust="spacingAndGlyphs" >87</text>
<rect x="494" y="296.806" width="26" height="13.293999999999999" fill="#fff" />
<text x="495" y="307.5" font-family='"Liberation Sans",sans-serif' font-size="12.6" font-weight="bold" font-style="italic" fill="#0000ff" text-anchor="start" textLength="24" lengthAdjust="spacingAndGlyphs" >-129</text>
<rect x="714.5" y="341.806" width="15.0" height="13.293999999999999" fill="#fff" />
<text x="715.5" y="352.5" font-family='"Liberation Sans",sans-serif' font-size="12.6" font-weight="bold" font-style="italic" fill="#0000ff" text-anchor="start" textLength="13.0" lengthAdjust="spacingAndGlyphs" >59</text>
<rect x="774" y="363.306" width="15" height="13.293999999999999" fill="#fff" />
<text x="775" y="374" font-family='"Liberation Sans",sans-serif' font-size="12.6" font-weight="bold" font-style="italic" fill="#0000ff" text-anchor="start" textLength="13" lengthAdjust="spacingAndGlyphs" >84</text>
<rect x="698.5" y="431.606" width="27.0" height="13.293999999999999" fill="#fff" />
<text x="699.5" y="442.3" font-family='"Liberation Sans",sans-serif' font-size="12.6" font-weight="bold" font-style="italic" fill="#0000ff" text-anchor="start" textLength="25.0" lengthAdjust="spacingAndGlyphs" >-195</text>
<rect x="729" y="483.306" width="26" height="13.293999999999999" fill="#fff" />
<text x="730" y="494" font-family='"Liberation Sans",sans-serif' font-size="12.6" font-weight="bold" font-style="italic" fill="#0000ff" text-anchor="start" textLength="24" lengthAdjust="spacingAndGlyphs" >-101</text>
<rect x="789" y="508.306" width="26" height="13.293999999999999" fill="#fff" />
<text x="790" y="519" font-family='"Liberation Sans",sans-serif' font-size="12.6" font-weight="bold" font-style="italic" fill="#0000ff" text-anchor="start" textLength="24" lengthAdjust="spacingAndGlyphs" >-104</text>
<rect x="706.5" y="305.492" width="29.5" height="13.707999999999998" fill="#fff" />
<text x="707.5" y="316.6" font-family='"Liberation Sans",sans-serif' font-size="13.2" font-weight="bold" font-style="italic" fill="#ff00ff" text-anchor="start" textLength="27.5" lengthAdjust="spacingAndGlyphs" >2114</text>
<rect x="716" y="323.492" width="11.5" height="13.707999999999998" fill="#fff" />
<text x="717" y="334.6" font-family='"Liberation Sans",sans-serif' font-size="13.2" font-weight="bold" font-style="italic" fill="#ff00ff" text-anchor="start" textLength="9.5" lengthAdjust="spacingAndGlyphs" >X</text>
<rect x="767" y="326.692" width="28" height="13.707999999999998" fill="#fff" />
<text x="768" y="337.8" font-family='"Liberation Sans",sans-serif' font-size="13.2" font-weight="bold" font-style="italic" fill="#ff00ff" text-anchor="start" textLength="26" lengthAdjust="spacingAndGlyphs" >2097</text>
<rect x="776.5" y="344.392" width="10.5" height="13.707999999999998" fill="#fff" />
<text x="777.5" y="355.5" font-family='"Liberation Sans",sans-serif' font-size="13.2" font-weight="bold" font-style="italic" fill="#ff00ff" text-anchor="start" textLength="8.5" lengthAdjust="spacingAndGlyphs" >B</text>
<rect x="735.5" y="501.392" width="11.0" height="13.707999999999998" fill="#fff" />
<text x="736.5" y="512.5" font-family='"Liberation Sans",sans-serif' font-size="13.2" font-weight="bold" font-style="italic" fill="#ff00ff" text-anchor="start" textLength="9.0" lengthAdjust="spacingAndGlyphs" >A</text>
<rect x="727" y="518.892" width="29.5" height="13.707999999999998" fill="#fff" />
<text x="728" y="530" font-family='"Liberation Sans",sans-serif' font-size="13.2" font-weight="bold" font-style="italic" fill="#ff00ff" text-anchor="start" textLength="27.5" lengthAdjust="spacingAndGlyphs" >2013</text>
<rect x="797.5" y="526.392" width="10.0" height="13.707999999999998" fill="#fff" />
<text x="798.5" y="537.5" font-family='"Liberation Sans",sans-serif' font-size="13.2" font-weight="bold" font-style="italic" fill="#ff00ff" text-anchor="start" textLength="8.0" lengthAdjust="spacingAndGlyphs" >C</text>
<rect x="223.5" y="49.5" width="15" height="17" fill="#800000" stroke="#ffff00" stroke-width="1" shape-rendering="crispEdges"/>
<text x="225.5" y="63.2" font-family='"Liberation Serif",serif' font-size="15" font-weight="bold" font-style="italic" fill="#ffff00" text-anchor="start" textLength="12.5" lengthAdjust="spacingAndGlyphs" >89</text>
<rect x="518.5" y="255.5" width="15" height="17" fill="#0000ff" stroke="#ffff00" stroke-width="1" shape-rendering="crispEdges"/>
<text x="520.5" y="269.2" font-family='"Liberation Serif",serif' font-size="15" font-weight="bold" font-style="italic" fill="#ffff00" text-anchor="start" textLength="12.5" lengthAdjust="spacingAndGlyphs" >87</text>
<rect x="813.5" y="474.5" width="15" height="17" fill="#0000ff" stroke="#ffff00" stroke-width="1" shape-rendering="crispEdges"/>
<text x="815.5" y="488.2" font-family='"Liberation Serif",serif' font-size="15" font-weight="bold" font-style="italic" fill="#ffff00" text-anchor="start" textLength="12.5" lengthAdjust="spacingAndGlyphs" >87</text>
<rect x="875" y="362" width="33" height="37" fill="#fff" />
<text x="880" y="373" font-family='"Liberation Serif",serif' font-size="11.5" font-weight="bold" font-style="normal" fill="#000" text-anchor="start" textLength="23" lengthAdjust="spacingAndGlyphs" >2080</text>
<text x="875.8" y="385" font-family='"Liberation Serif",serif' font-size="11.5" font-weight="bold" font-style="normal" fill="#000" text-anchor="start" textLength="31.2" lengthAdjust="spacingAndGlyphs" >83.7 %</text>
<text x="877.6" y="397" font-family='"Liberation Serif",serif' font-size="11.5" font-weight="bold" textLength="28.6" lengthAdjust="spacingAndGlyphs">87 ?<tspan font-style="italic">D</tspan></text>
<g shape-rendering="crispEdges">
<rect x="925" y="169" width="47" height="14" fill="#000" />
<rect x="926" y="170" width="45" height="12" fill="#00ffff" />
</g>
<text x="926.2" y="180" font-family='"Liberation Sans",sans-serif' font-size="10" font-weight="normal" font-style="normal" fill="#000" text-anchor="start" textLength="44" lengthAdjust="spacingAndGlyphs" >618:2258</text>
<g shape-rendering="crispEdges">
<rect x="925" y="203" width="47" height="14" fill="#000" />
<rect x="926" y="204" width="45" height="12" fill="#00ffff" />
</g>
<text x="926.2" y="214" font-family='"Liberation Sans",sans-serif' font-size="10" font-weight="normal" font-style="normal" fill="#000" text-anchor="start" textLength="44" lengthAdjust="spacingAndGlyphs" >618:2231</text>
<g shape-rendering="crispEdges">
<rect x="925" y="231" width="47" height="14" fill="#000" />
<rect x="926" y="232" width="45" height="12" fill="#ff0000" />
</g>
<g shape-rendering="crispEdges">
<rect x="925" y="228" width="47" height="14" fill="#000" />
<rect x="926" y="229" width="45" height="12" fill="#00ffff" />
</g>
<text x="926.2" y="239" font-family='"Liberation Sans",sans-serif' font-size="10" font-weight="normal" font-style="normal" fill="#000" text-anchor="start" textLength="44" lengthAdjust="spacingAndGlyphs" >618:2211</text>
<g shape-rendering="crispEdges">
<rect x="925" y="259" width="47" height="14" fill="#000" />
<rect x="926" y="260" width="45" height="12" fill="#ff0000" />
</g>
<text x="926.2" y="270" font-family='"Liberation Sans",sans-serif' font-size="10" font-weight="normal" font-style="normal" fill="#000" text-anchor="start" textLength="44" lengthAdjust="spacingAndGlyphs" >500:2186</text>
<g shape-rendering="crispEdges">
<rect x="925" y="279" width="47" height="14" fill="#000" />
<rect x="926" y="280" width="45" height="12" fill="#ff0000" />
</g>
<text x="926.2" y="290" font-family='"Liberation Sans",sans-serif' font-size="10" font-weight="normal" font-style="normal" fill="#000" text-anchor="start" textLength="44" lengthAdjust="spacingAndGlyphs" >500:2170</text>
<g shape-rendering="crispEdges">
<rect x="925" y="295" width="47" height="14" fill="#000" />
<rect x="926" y="296" width="45" height="12" fill="#ffff00" />
</g>
<text x="926.2" y="306" font-family='"Liberation Sans",sans-serif' font-size="10" font-weight="normal" font-style="normal" fill="#000" text-anchor="start" textLength="44" lengthAdjust="spacingAndGlyphs" >382:2157</text>
<g shape-rendering="crispEdges">
<rect x="925" y="302" width="47" height="13" fill="#000" />
<rect x="926" y="302" width="45" height="12" fill="#00ffff" />
</g>
<text x="926.2" y="312" font-family='"Liberation Sans",sans-serif' font-size="10" font-weight="normal" font-style="normal" fill="#000" text-anchor="start" textLength="44" lengthAdjust="spacingAndGlyphs" >618:2152</text>
<g shape-rendering="crispEdges">
<rect x="925" y="316" width="47" height="14" fill="#000" />
<rect x="926" y="317" width="45" height="12" fill="#ffff00" />
</g>
<text x="926.2" y="327" font-family='"Liberation Sans",sans-serif' font-size="10" font-weight="normal" font-style="normal" fill="#000" text-anchor="start" textLength="44" lengthAdjust="spacingAndGlyphs" >382:2140</text>
<g shape-rendering="crispEdges">
<rect x="925" y="331" width="47" height="14" fill="#000" />
<rect x="926" y="332" width="45" height="12" fill="#ffff00" />
</g>
<text x="926.2" y="342" font-family='"Liberation Sans",sans-serif' font-size="10" font-weight="normal" font-style="normal" fill="#000" text-anchor="start" textLength="44" lengthAdjust="spacingAndGlyphs" >382:2128</text>
<g shape-rendering="crispEdges">
<rect x="925" y="340" width="47" height="13" fill="#000" />
<rect x="926" y="340" width="45" height="12" fill="#ff0000" />
</g>
<text x="926.2" y="350" font-family='"Liberation Sans",sans-serif' font-size="10" font-weight="normal" font-style="normal" fill="#000" text-anchor="start" textLength="44" lengthAdjust="spacingAndGlyphs" >500:2122</text>
<g shape-rendering="crispEdges">
<rect x="925" y="378" width="47" height="14" fill="#000" />
<rect x="926" y="379" width="45" height="12" fill="#ffff00" />
</g>
<text x="926.2" y="389" font-family='"Liberation Sans",sans-serif' font-size="10" font-weight="normal" font-style="normal" fill="#000" text-anchor="start" textLength="44" lengthAdjust="spacingAndGlyphs" >382:2091</text>
<rect x="980.5" y="343.5" width="25" height="13" fill="#fff" stroke="#000" stroke-width="1" shape-rendering="crispEdges"/>
<text x="981.5" y="354" font-family='"Liberation Sans",sans-serif' font-size="10" font-weight="normal" font-style="normal" fill="#000" text-anchor="start" textLength="23" lengthAdjust="spacingAndGlyphs" >2119</text>
<rect x="980.5" y="522.5" width="25" height="13" fill="#fff" stroke="#000" stroke-width="1" shape-rendering="crispEdges"/>
<text x="981.5" y="533" font-family='"Liberation Sans",sans-serif' font-size="10" font-weight="normal" font-style="normal" fill="#000" text-anchor="start" textLength="23" lengthAdjust="spacingAndGlyphs" >1975</text>
</g>
<g shape-rendering="crispEdges">
<rect x="2" y="130" width="1030" height="1" fill="#ff0000" />
<rect x="2" y="193" width="205" height="211" fill="#000" />
<rect x="3" y="194" width="203" height="19" fill="#fff" />
<rect x="3" y="214" width="101" height="18" fill="#c6c3c6" />
<rect x="105" y="214" width="101" height="18" fill="#c6c3c6" />
<rect x="3" y="233" width="101" height="18" fill="#c6c3c6" />
<rect x="105" y="233" width="101" height="18" fill="#c6c3c6" />
<rect x="3" y="252" width="101" height="18" fill="#c6c3c6" />
<rect x="105" y="252" width="101" height="18" fill="#c6c3c6" />
<rect x="3" y="271" width="101" height="18" fill="#c6c3c6" />
<rect x="105" y="271" width="101" height="18" fill="#c6c3c6" />
<rect x="104" y="289" width="103" height="20" fill="#ff0000" />
<rect x="3" y="290" width="101" height="18" fill="#ff0000" />
<rect x="105" y="290" width="101" height="18" fill="#fff" />
<rect x="3" y="309" width="101" height="18" fill="#fff" />
<rect x="105" y="309" width="101" height="18" fill="#fff" />
<rect x="3" y="328" width="101" height="18" fill="#fff" />
<rect x="105" y="328" width="101" height="18" fill="#fff" />
<rect x="104" y="346" width="103" height="20" fill="#000080" />
<rect x="105" y="347" width="101" height="18" fill="#fff" />
<rect x="42" y="347" width="62" height="18" fill="#c6c3c6" />
<rect x="3" y="347" width="18" height="18" fill="#ff00ff" />
<rect x="22" y="347" width="19" height="18" fill="#ff00ff" />
<rect x="104" y="365" width="103" height="20" fill="#000080" />
<rect x="105" y="366" width="101" height="18" fill="#fff" />
<rect x="42" y="366" width="62" height="18" fill="#c6c3c6" />
<rect x="3" y="366" width="18" height="18" fill="#ff00ff" />
<rect x="22" y="366" width="19" height="18" fill="#ff00ff" />
<rect x="104" y="384" width="103" height="20" fill="#000080" />
<rect x="105" y="385" width="101" height="18" fill="#fff" />
<rect x="42" y="385" width="62" height="18" fill="#c6c3c6" />
<rect x="3" y="385" width="38" height="18" fill="#ff00ff" />
</g>
<text x="6" y="210" font-family='"Liberation Sans",sans-serif' font-size="13.6" font-weight="bold" font-style="normal" fill="#000" text-anchor="start" textLength="86" lengthAdjust="spacingAndGlyphs" >XABCD Ratios</text>
<rect x="97.5" y="204.5" width="6" height="6" fill="#00ff00" stroke="#000" stroke-width="1" shape-rendering="crispEdges"/>
<text x="107.5" y="210" font-family='"Liberation Sans",sans-serif' font-size="13.6" font-weight="bold" font-style="normal" fill="#000" text-anchor="start" textLength="73.5" lengthAdjust="spacingAndGlyphs" >Next Target</text>
<text x="7.5" y="227.5" font-family='"Liberation Sans",sans-serif' font-size="13.6" font-weight="bold" font-style="normal" fill="#000" text-anchor="start" textLength="24.5" lengthAdjust="spacingAndGlyphs" >BcD</text>
<text x="34.2" y="227.5" font-family='"Liberation Sans",sans-serif' font-size="13.6" font-weight="bold" font-style="normal" fill="#000" text-anchor="start" textLength="3.6" lengthAdjust="spacingAndGlyphs" >:</text>
<text x="55.6" y="227.5" font-family='"Liberation Sans",sans-serif' font-size="13.6" font-weight="bold" font-style="normal" fill="#000" text-anchor="start" textLength="31" lengthAdjust="spacingAndGlyphs" >0.837</text>
<text x="122.4" y="227.5" font-family='"Liberation Sans",sans-serif' font-size="13.6" font-weight="bold" font-style="normal" fill="#000" text-anchor="start" textLength="66.5" lengthAdjust="spacingAndGlyphs" >1.000: 2097</text>
<text x="7.5" y="246.5" font-family='"Liberation Sans",sans-serif' font-size="13.6" font-weight="bold" font-style="normal" fill="#000" text-anchor="start" textLength="16.5" lengthAdjust="spacingAndGlyphs" >Alt</text>
<text x="34.2" y="246.5" font-family='"Liberation Sans",sans-serif' font-size="13.6" font-weight="bold" font-style="normal" fill="#000" text-anchor="start" textLength="3.6" lengthAdjust="spacingAndGlyphs" >:</text>
<text x="55.6" y="246.5" font-family='"Liberation Sans",sans-serif' font-size="13.6" font-weight="bold" font-style="normal" fill="#000" text-anchor="start" textLength="31" lengthAdjust="spacingAndGlyphs" >1.036</text>
<text x="122.4" y="246.5" font-family='"Liberation Sans",sans-serif' font-size="13.6" font-weight="bold" font-style="normal" fill="#000" text-anchor="start" textLength="66.5" lengthAdjust="spacingAndGlyphs" >1.272: 2100</text>
<text x="7.5" y="265.5" font-family='"Liberation Sans",sans-serif' font-size="13.6" font-weight="bold" font-style="normal" fill="#000" text-anchor="start" textLength="15.5" lengthAdjust="spacingAndGlyphs" >Rx</text>
<text x="34.2" y="265.5" font-family='"Liberation Sans",sans-serif' font-size="13.6" font-weight="bold" font-style="normal" fill="#000" text-anchor="start" textLength="3.6" lengthAdjust="spacingAndGlyphs" >:</text>
<text x="55.6" y="265.5" font-family='"Liberation Sans",sans-serif' font-size="13.6" font-weight="bold" font-style="normal" fill="#000" text-anchor="start" textLength="31" lengthAdjust="spacingAndGlyphs" >0.644</text>
<text x="122.4" y="265.5" font-family='"Liberation Sans",sans-serif' font-size="13.6" font-weight="bold" font-style="normal" fill="#000" text-anchor="start" textLength="66.5" lengthAdjust="spacingAndGlyphs" >1.000: 2117</text>
<text x="7.5" y="284.5" font-family='"Liberation Sans",sans-serif' font-size="13.6" font-weight="bold" font-style="normal" fill="#000" text-anchor="start" textLength="15.5" lengthAdjust="spacingAndGlyphs" >Dx</text>
<text x="34.2" y="284.5" font-family='"Liberation Sans",sans-serif' font-size="13.6" font-weight="bold" font-style="normal" fill="#000" text-anchor="start" textLength="3.6" lengthAdjust="spacingAndGlyphs" >:</text>
<text x="55.6" y="284.5" font-family='"Liberation Sans",sans-serif' font-size="13.6" font-weight="bold" font-style="normal" fill="#000" text-anchor="start" textLength="31" lengthAdjust="spacingAndGlyphs" >0.554</text>
<text x="122.4" y="284.5" font-family='"Liberation Sans",sans-serif' font-size="13.6" font-weight="bold" font-style="normal" fill="#000" text-anchor="start" textLength="66.5" lengthAdjust="spacingAndGlyphs" >1.000: 2134</text>
<text x="7.5" y="303.5" font-family='"Liberation Sans",sans-serif' font-size="13.6" font-weight="bold" font-style="normal" fill="#000" text-anchor="start" textLength="24.5" lengthAdjust="spacingAndGlyphs" >XcD</text>
<text x="34.2" y="303.5" font-family='"Liberation Sans",sans-serif' font-size="13.6" font-weight="bold" font-style="normal" fill="#000" text-anchor="start" textLength="3.6" lengthAdjust="spacingAndGlyphs" >:</text>
<text x="55.6" y="303.5" font-family='"Liberation Sans",sans-serif' font-size="13.6" font-weight="bold" font-style="normal" fill="#000" text-anchor="start" textLength="31" lengthAdjust="spacingAndGlyphs" >0.707</text>
<text x="142" y="303.5" font-family='"Liberation Sans",sans-serif' font-size="13.6" font-weight="bold" font-style="normal" fill="#ff0000" text-anchor="start" textLength="27.3" lengthAdjust="spacingAndGlyphs" >2079</text>
<text x="7.5" y="322.5" font-family='"Liberation Sans",sans-serif' font-size="13.6" font-weight="bold" font-style="normal" fill="#000" text-anchor="start" textLength="24.5" lengthAdjust="spacingAndGlyphs" >XaD</text>
<text x="34.2" y="322.5" font-family='"Liberation Sans",sans-serif' font-size="13.6" font-weight="bold" font-style="normal" fill="#000" text-anchor="start" textLength="3.6" lengthAdjust="spacingAndGlyphs" >:</text>
<text x="7.5" y="341.5" font-family='"Liberation Sans",sans-serif' font-size="13.6" font-weight="bold" font-style="normal" fill="#000" text-anchor="start" textLength="30" lengthAdjust="spacingAndGlyphs" >Alt 2:</text>
<text x="7.6" y="360.5" font-family='"Liberation Sans",sans-serif' font-size="13.6" font-weight="bold" font-style="normal" fill="#000" text-anchor="start" textLength="9.2" lengthAdjust="spacingAndGlyphs" >A</text>
<text x="27.8" y="360.5" font-family='"Liberation Sans",sans-serif' font-size="13.6" font-weight="bold" font-style="normal" fill="#000" text-anchor="start" textLength="8.2" lengthAdjust="spacingAndGlyphs" >B</text>
<text x="47.2" y="360.5" font-family='"Liberation Sans",sans-serif' font-size="13.6" font-weight="bold" font-style="normal" fill="#000" text-anchor="start" textLength="25.2" lengthAdjust="spacingAndGlyphs" >D=A</text>
<text x="142" y="360.5" font-family='"Liberation Sans",sans-serif' font-size="13.6" font-weight="bold" font-style="normal" fill="#000080" text-anchor="start" textLength="27.3" lengthAdjust="spacingAndGlyphs" >2013</text>
<text x="7.6" y="379.5" font-family='"Liberation Sans",sans-serif' font-size="13.6" font-weight="bold" font-style="normal" fill="#000" text-anchor="start" textLength="9.2" lengthAdjust="spacingAndGlyphs" >C</text>
<text x="27.8" y="379.5" font-family='"Liberation Sans",sans-serif' font-size="13.6" font-weight="bold" font-style="normal" fill="#000" text-anchor="start" textLength="8.2" lengthAdjust="spacingAndGlyphs" >X</text>
<text x="47.2" y="379.5" font-family='"Liberation Sans",sans-serif' font-size="13.6" font-weight="bold" font-style="normal" fill="#000" text-anchor="start" textLength="25.2" lengthAdjust="spacingAndGlyphs" >D=B</text>
<text x="142" y="379.5" font-family='"Liberation Sans",sans-serif' font-size="13.6" font-weight="bold" font-style="normal" fill="#000080" text-anchor="start" textLength="27.3" lengthAdjust="spacingAndGlyphs" >2097</text>
<text x="9.6" y="398.5" font-family='"Liberation Sans",sans-serif' font-size="13.6" font-weight="bold" font-style="normal" fill="#000" text-anchor="start" textLength="22.2" lengthAdjust="spacingAndGlyphs" >ALL</text>
<text x="47.2" y="398.5" font-family='"Liberation Sans",sans-serif' font-size="13.6" font-weight="bold" font-style="normal" fill="#000" text-anchor="start" textLength="25.2" lengthAdjust="spacingAndGlyphs" >D=X</text>
<text x="142" y="398.5" font-family='"Liberation Sans",sans-serif' font-size="13.6" font-weight="bold" font-style="normal" fill="#000080" text-anchor="start" textLength="27.3" lengthAdjust="spacingAndGlyphs" >2114</text>
<g shape-rendering="crispEdges">
<rect x="2" y="404" width="206" height="115" fill="#d4d0c8" />
</g>
<g shape-rendering="crispEdges">
<rect x="2" y="405" width="33" height="18" fill="#d4d0c8" />
<rect x="2" y="405" width="33" height="1" fill="#fff" />
<rect x="2" y="405" width="1" height="18" fill="#fff" />
<rect x="2" y="422" width="33" height="1" fill="#404040" />
<rect x="34" y="405" width="1" height="18" fill="#404040" />
<rect x="3" y="421" width="31" height="1" fill="#808080" />
<rect x="33" y="406" width="1" height="16" fill="#808080" />
</g>
<text x="3.6" y="419.4" font-family='"Liberation Sans",sans-serif' font-size="13.6" font-weight="bold" font-style="normal" fill="#000" text-anchor="start" textLength="28.7" lengthAdjust="spacingAndGlyphs" >TWS</text>
<g shape-rendering="crispEdges">
<rect x="35" y="405" width="35" height="18" fill="#d4d0c8" />
<rect x="35" y="405" width="35" height="1" fill="#fff" />
<rect x="35" y="405" width="1" height="18" fill="#fff" />
<rect x="35" y="422" width="35" height="1" fill="#404040" />
<rect x="69" y="405" width="1" height="18" fill="#404040" />
<rect x="36" y="421" width="33" height="1" fill="#808080" />
<rect x="68" y="406" width="1" height="16" fill="#808080" />
</g>
<text x="38" y="419.4" font-family='"Liberation Sans",sans-serif' font-size="13.6" font-weight="bold" font-style="normal" fill="#000" text-anchor="start" textLength="30" lengthAdjust="spacingAndGlyphs" >TWM</text>
<g shape-rendering="crispEdges">
<rect x="70" y="405" width="35" height="18" fill="#d4d0c8" />
<rect x="70" y="405" width="35" height="1" fill="#fff" />
<rect x="70" y="405" width="1" height="18" fill="#fff" />
<rect x="70" y="422" width="35" height="1" fill="#404040" />
<rect x="104" y="405" width="1" height="18" fill="#404040" />
<rect x="71" y="421" width="33" height="1" fill="#808080" />
<rect x="103" y="406" width="1" height="16" fill="#808080" />
</g>
<text x="73" y="419.4" font-family='"Liberation Sans",sans-serif' font-size="13.6" font-weight="bold" font-style="normal" fill="#000" text-anchor="start" textLength="28.5" lengthAdjust="spacingAndGlyphs" >TWF</text>
<g shape-rendering="crispEdges">
<rect x="105" y="405" width="36" height="18" fill="#d4d0c8" />
<rect x="105" y="405" width="36" height="1" fill="#fff" />
<rect x="105" y="405" width="1" height="18" fill="#fff" />
<rect x="105" y="422" width="36" height="1" fill="#404040" />
<rect x="140" y="405" width="1" height="18" fill="#404040" />
<rect x="106" y="421" width="34" height="1" fill="#808080" />
<rect x="139" y="406" width="1" height="16" fill="#808080" />
</g>
<text x="108.7" y="419.4" font-family='"Liberation Sans",sans-serif' font-size="13.6" font-weight="bold" font-style="normal" fill="#000" text-anchor="start" textLength="30.3" lengthAdjust="spacingAndGlyphs" >HrMn</text>
<g shape-rendering="crispEdges">
<rect x="141" y="405" width="34" height="18" fill="#d4d0c8" />
<rect x="141" y="405" width="34" height="1" fill="#fff" />
<rect x="141" y="405" width="1" height="18" fill="#fff" />
<rect x="141" y="422" width="34" height="1" fill="#404040" />
<rect x="174" y="405" width="1" height="18" fill="#404040" />
<rect x="142" y="421" width="32" height="1" fill="#808080" />
<rect x="173" y="406" width="1" height="16" fill="#808080" />
</g>
<text x="146.2" y="419.4" font-family='"Liberation Sans",sans-serif' font-size="13.6" font-weight="bold" font-style="normal" fill="#000" text-anchor="start" textLength="23.8" lengthAdjust="spacingAndGlyphs" >FTP</text>
<g shape-rendering="crispEdges">
<rect x="175" y="405" width="33" height="18" fill="#d4d0c8" />
<rect x="175" y="405" width="33" height="1" fill="#fff" />
<rect x="175" y="405" width="1" height="18" fill="#fff" />
<rect x="175" y="422" width="33" height="1" fill="#404040" />
<rect x="207" y="405" width="1" height="18" fill="#404040" />
<rect x="176" y="421" width="31" height="1" fill="#808080" />
<rect x="206" y="406" width="1" height="16" fill="#808080" />
</g>
<text x="178.6" y="419.4" font-family='"Liberation Sans",sans-serif' font-size="13.6" font-weight="bold" font-style="normal" fill="#000" text-anchor="start" textLength="24.8" lengthAdjust="spacingAndGlyphs" >BPL</text>
<g shape-rendering="crispEdges">
<rect x="2" y="424" width="33" height="18" fill="#d4d0c8" />
<rect x="2" y="424" width="33" height="1" fill="#fff" />
<rect x="2" y="424" width="1" height="18" fill="#fff" />
<rect x="2" y="441" width="33" height="1" fill="#404040" />
<rect x="34" y="424" width="1" height="18" fill="#404040" />
<rect x="3" y="440" width="31" height="1" fill="#808080" />
<rect x="33" y="425" width="1" height="16" fill="#808080" />
<rect x="3" y="425" width="31" height="15" fill="#ffff00" />
</g>
<text x="11" y="438.4" font-family='"Liberation Sans",sans-serif' font-size="13.6" font-weight="bold" font-style="normal" fill="#000" text-anchor="start" textLength="13.2" lengthAdjust="spacingAndGlyphs" >38</text>
<g shape-rendering="crispEdges">
<rect x="36" y="424" width="33" height="18" fill="#d4d0c8" />
<rect x="36" y="424" width="33" height="1" fill="#fff" />
<rect x="36" y="424" width="1" height="18" fill="#fff" />
<rect x="36" y="441" width="33" height="1" fill="#404040" />
<rect x="68" y="424" width="1" height="18" fill="#404040" />
<rect x="37" y="440" width="31" height="1" fill="#808080" />
<rect x="67" y="425" width="1" height="16" fill="#808080" />
<rect x="37" y="425" width="31" height="15" fill="#ff0000" />
</g>
<text x="45" y="438.4" font-family='"Liberation Sans",sans-serif' font-size="13.6" font-weight="bold" font-style="normal" fill="#fff" text-anchor="start" textLength="13.1" lengthAdjust="spacingAndGlyphs" >50</text>
<g shape-rendering="crispEdges">
<rect x="70" y="424" width="35" height="18" fill="#d4d0c8" />
<rect x="70" y="424" width="35" height="1" fill="#fff" />
<rect x="70" y="424" width="1" height="18" fill="#fff" />
<rect x="70" y="441" width="35" height="1" fill="#404040" />
<rect x="104" y="424" width="1" height="18" fill="#404040" />
<rect x="71" y="440" width="33" height="1" fill="#808080" />
<rect x="103" y="425" width="1" height="16" fill="#808080" />
<rect x="71" y="425" width="33" height="15" fill="#00ffff" />
</g>
<text x="79.9" y="438.4" font-family='"Liberation Sans",sans-serif' font-size="13.6" font-weight="bold" font-style="normal" fill="#000" text-anchor="start" textLength="13.1" lengthAdjust="spacingAndGlyphs" >62</text>
<g shape-rendering="crispEdges">
<rect x="105" y="424" width="103" height="18" fill="#d4d0c8" />
<rect x="105" y="424" width="103" height="1" fill="#fff" />
<rect x="105" y="424" width="1" height="18" fill="#fff" />
<rect x="105" y="441" width="103" height="1" fill="#404040" />
<rect x="207" y="424" width="1" height="18" fill="#404040" />
<rect x="106" y="440" width="101" height="1" fill="#808080" />
<rect x="206" y="425" width="1" height="16" fill="#808080" />
</g>
<text x="115.7" y="438.4" font-family='"Liberation Sans",sans-serif' font-size="13.6" font-weight="bold" font-style="normal" fill="#000" text-anchor="start" textLength="85.7" lengthAdjust="spacingAndGlyphs" >Test New D=?</text>
<g shape-rendering="crispEdges">
<rect x="2" y="443" width="33" height="18" fill="#d4d0c8" />
<rect x="2" y="443" width="33" height="1" fill="#fff" />
<rect x="2" y="443" width="1" height="18" fill="#fff" />
<rect x="2" y="460" width="33" height="1" fill="#404040" />
<rect x="34" y="443" width="1" height="18" fill="#404040" />
<rect x="3" y="459" width="31" height="1" fill="#808080" />
<rect x="33" y="444" width="1" height="16" fill="#808080" />
<rect x="3" y="444" width="31" height="15" fill="#408080" />
</g>
<text x="11.7" y="457.4" font-family='"Liberation Sans",sans-serif' font-size="13.6" font-weight="bold" font-style="normal" fill="#fff" text-anchor="start" textLength="15.7" lengthAdjust="spacingAndGlyphs" >1:1</text>
<g shape-rendering="crispEdges">
<rect x="36" y="443" width="69" height="18" fill="#d4d0c8" />
<rect x="36" y="443" width="69" height="1" fill="#fff" />
<rect x="36" y="443" width="1" height="18" fill="#fff" />
<rect x="36" y="460" width="69" height="1" fill="#404040" />
<rect x="104" y="443" width="1" height="18" fill="#404040" />
<rect x="37" y="459" width="67" height="1" fill="#808080" />
<rect x="103" y="444" width="1" height="16" fill="#808080" />
</g>
<text x="41.9" y="457.4" font-family='"Liberation Sans",sans-serif' font-size="13.6" font-weight="bold" font-style="normal" fill="#000" text-anchor="start" textLength="51.1" lengthAdjust="spacingAndGlyphs" >Retr. ON</text>
<g shape-rendering="crispEdges">
<rect x="105" y="443" width="103" height="18" fill="#d4d0c8" />
<rect x="105" y="443" width="103" height="1" fill="#fff" />
<rect x="105" y="443" width="1" height="18" fill="#fff" />
<rect x="105" y="460" width="103" height="1" fill="#404040" />
<rect x="207" y="443" width="1" height="18" fill="#404040" />
<rect x="106" y="459" width="101" height="1" fill="#808080" />
<rect x="206" y="444" width="1" height="16" fill="#808080" />
</g>
<text x="115.7" y="457.4" font-family='"Liberation Sans",sans-serif' font-size="13.6" font-weight="bold" font-style="normal" fill="#000" text-anchor="start" textLength="81.7" lengthAdjust="spacingAndGlyphs" >Move XABCD</text>
<g shape-rendering="crispEdges">
<rect x="2" y="462" width="53" height="18" fill="#d4d0c8" />
<rect x="2" y="462" width="53" height="1" fill="#fff" />
<rect x="2" y="462" width="1" height="18" fill="#fff" />
<rect x="2" y="479" width="53" height="1" fill="#404040" />
<rect x="54" y="462" width="1" height="18" fill="#404040" />
<rect x="3" y="478" width="51" height="1" fill="#808080" />
<rect x="53" y="463" width="1" height="16" fill="#808080" />
</g>
<text x="6.9" y="476.4" font-family='"Liberation Sans",sans-serif' font-size="13.6" font-weight="bold" font-style="normal" fill="#000" text-anchor="start" textLength="39.7" lengthAdjust="spacingAndGlyphs" >Alt-ON</text>
<g shape-rendering="crispEdges">
<rect x="55" y="462" width="50" height="18" fill="#d4d0c8" />
<rect x="55" y="462" width="50" height="1" fill="#fff" />
<rect x="55" y="462" width="1" height="18" fill="#fff" />
<rect x="55" y="479" width="50" height="1" fill="#404040" />
<rect x="104" y="462" width="1" height="18" fill="#404040" />
<rect x="56" y="478" width="48" height="1" fill="#808080" />
<rect x="103" y="463" width="1" height="16" fill="#808080" />
</g>
<text x="59.5" y="476.4" font-family='"Liberation Sans",sans-serif' font-size="13.6" font-weight="bold" font-style="normal" fill="#000" text-anchor="start" textLength="38.7" lengthAdjust="spacingAndGlyphs" >Rx-ON</text>
<g shape-rendering="crispEdges">
<rect x="105" y="462" width="103" height="18" fill="#d4d0c8" />
<rect x="105" y="462" width="103" height="1" fill="#fff" />
<rect x="105" y="462" width="1" height="18" fill="#fff" />
<rect x="105" y="479" width="103" height="1" fill="#404040" />
<rect x="207" y="462" width="1" height="18" fill="#404040" />
<rect x="106" y="478" width="101" height="1" fill="#808080" />
<rect x="206" y="463" width="1" height="16" fill="#808080" />
</g>
<text x="123" y="476.4" font-family='"Liberation Sans",sans-serif' font-size="13.6" font-weight="bold" font-style="normal" fill="#000" text-anchor="start" textLength="67" lengthAdjust="spacingAndGlyphs" >Time/Price</text>
<g shape-rendering="crispEdges">
<rect x="2" y="481" width="53" height="18" fill="#d4d0c8" />
<rect x="2" y="481" width="53" height="1" fill="#fff" />
<rect x="2" y="481" width="1" height="18" fill="#fff" />
<rect x="2" y="498" width="53" height="1" fill="#404040" />
<rect x="54" y="481" width="1" height="18" fill="#404040" />
<rect x="3" y="497" width="51" height="1" fill="#808080" />
<rect x="53" y="482" width="1" height="16" fill="#808080" />
</g>
<text x="3.6" y="495.4" font-family='"Liberation Sans",sans-serif' font-size="13.6" font-weight="bold" font-style="normal" fill="#000" text-anchor="start" textLength="44.0" lengthAdjust="spacingAndGlyphs" >SW ON</text>
<g shape-rendering="crispEdges">
<rect x="56" y="481" width="49" height="18" fill="#d4d0c8" />
<rect x="56" y="481" width="49" height="1" fill="#fff" />
<rect x="56" y="481" width="1" height="18" fill="#fff" />
<rect x="56" y="498" width="49" height="1" fill="#404040" />
<rect x="104" y="481" width="1" height="18" fill="#404040" />
<rect x="57" y="497" width="47" height="1" fill="#808080" />
<rect x="103" y="482" width="1" height="16" fill="#808080" />
</g>
<text x="61.5" y="495.4" font-family='"Liberation Sans",sans-serif' font-size="13.6" font-weight="bold" font-style="normal" fill="#000" text-anchor="start" textLength="30.2" lengthAdjust="spacingAndGlyphs" >T-ON</text>
<g shape-rendering="crispEdges">
<rect x="105" y="481" width="103" height="18" fill="#d4d0c8" />
<rect x="105" y="481" width="103" height="1" fill="#fff" />
<rect x="105" y="481" width="1" height="18" fill="#fff" />
<rect x="105" y="498" width="103" height="1" fill="#404040" />
<rect x="207" y="481" width="1" height="18" fill="#404040" />
<rect x="106" y="497" width="101" height="1" fill="#808080" />
<rect x="206" y="482" width="1" height="16" fill="#808080" />
</g>
<text stroke="#000" stroke-width="0.35" x="147.8" y="497" font-family='"Liberation Sans",sans-serif' font-size="16" font-weight="normal" font-style="normal" fill="#000" text-anchor="start" textLength="17.2" lengthAdjust="spacingAndGlyphs" >59</text>
<g shape-rendering="crispEdges">
<rect x="2" y="500" width="53" height="18" fill="#d4d0c8" />
<rect x="2" y="500" width="53" height="1" fill="#fff" />
<rect x="2" y="500" width="1" height="18" fill="#fff" />
<rect x="2" y="517" width="53" height="1" fill="#404040" />
<rect x="54" y="500" width="1" height="18" fill="#404040" />
<rect x="3" y="516" width="51" height="1" fill="#808080" />
<rect x="53" y="501" width="1" height="16" fill="#808080" />
</g>
<text x="13.5" y="514.4" font-family='"Liberation Sans",sans-serif' font-size="13.6" font-weight="bold" font-style="normal" fill="#000" text-anchor="start" textLength="28.2" lengthAdjust="spacingAndGlyphs" >Hide</text>
<g shape-rendering="crispEdges">
<rect x="55" y="500" width="50" height="18" fill="#d4d0c8" />
<rect x="55" y="500" width="50" height="1" fill="#fff" />
<rect x="55" y="500" width="1" height="18" fill="#fff" />
<rect x="55" y="517" width="50" height="1" fill="#404040" />
<rect x="104" y="500" width="1" height="18" fill="#404040" />
<rect x="56" y="516" width="48" height="1" fill="#808080" />
<rect x="103" y="501" width="1" height="16" fill="#808080" />
</g>
<text x="61.5" y="514.4" font-family='"Liberation Sans",sans-serif' font-size="13.6" font-weight="bold" font-style="normal" fill="#000" text-anchor="start" textLength="32.7" lengthAdjust="spacingAndGlyphs" >Gann</text>
<g shape-rendering="crispEdges">
<rect x="105" y="500" width="51" height="18" fill="#d4d0c8" />
<rect x="105" y="500" width="51" height="1" fill="#fff" />
<rect x="105" y="500" width="1" height="18" fill="#fff" />
<rect x="105" y="517" width="51" height="1" fill="#404040" />
<rect x="155" y="500" width="1" height="18" fill="#404040" />
<rect x="106" y="516" width="49" height="1" fill="#808080" />
<rect x="154" y="501" width="1" height="16" fill="#808080" />
</g>
<text x="124" y="514.4" font-family='"Liberation Sans",sans-serif' font-size="13.6" font-weight="bold" font-style="normal" fill="#000" text-anchor="start" textLength="14.3" lengthAdjust="spacingAndGlyphs" >&lt;&lt;</text>
<g shape-rendering="crispEdges">
<rect x="156" y="500" width="52" height="18" fill="#d4d0c8" />
<rect x="156" y="500" width="52" height="1" fill="#fff" />
<rect x="156" y="500" width="1" height="18" fill="#fff" />
<rect x="156" y="517" width="52" height="1" fill="#404040" />
<rect x="207" y="500" width="1" height="18" fill="#404040" />
<rect x="157" y="516" width="50" height="1" fill="#808080" />
<rect x="206" y="501" width="1" height="16" fill="#808080" />
</g>
<text x="174.6" y="514.4" font-family='"Liberation Sans",sans-serif' font-size="13.6" font-weight="bold" font-style="normal" fill="#000" text-anchor="start" textLength="14.3" lengthAdjust="spacingAndGlyphs" >&gt;&gt;</text>
<text x="4.5" y="528" font-family='"Liberation Sans",sans-serif' font-size="8" font-weight="normal" font-style="normal" fill="#000" text-anchor="start" textLength="58" lengthAdjust="spacingAndGlyphs" >© eSignal, 2009</text>
<rect x="206" y="2" width="1" height="529" fill="#ff0000" shape-rendering="crispEdges"/>
<g shape-rendering="crispEdges">
<rect x="2" y="531" width="1030" height="1" fill="#c8c8c8" />
<rect x="2" y="532" width="1030" height="2" fill="#404040" />
<g clip-path="url(#vp)">
<path fill="#000" d="M6 566h1v1h-1zM11 566h1v1h-1zM16 566h1v1h-1zM21 566h1v1h-1zM26 566h1v1h-1zM31 566h1v1h-1zM36 566h1v1h-1zM41 566h1v1h-1zM46 566h1v1h-1zM51 566h1v1h-1zM56 566h1v1h-1zM61 566h1v1h-1zM66 566h1v1h-1zM71 566h1v1h-1zM76 566h1v1h-1zM81 566h1v1h-1zM86 566h1v1h-1zM91 566h1v1h-1zM96 566h1v1h-1zM101 566h1v1h-1zM106 566h1v1h-1zM111 566h1v1h-1zM116 566h1v1h-1zM121 566h1v1h-1zM126 566h1v1h-1zM131 566h1v1h-1zM136 566h1v1h-1zM141 566h1v1h-1zM146 566h1v1h-1zM151 566h1v1h-1zM156 566h1v1h-1zM161 566h1v1h-1zM166 566h1v1h-1zM171 566h1v1h-1zM176 566h1v1h-1zM181 566h1v1h-1zM186 566h1v1h-1zM191 566h1v1h-1zM196 566h1v1h-1zM201 566h1v1h-1zM206 566h1v1h-1zM211 566h1v1h-1zM216 566h1v1h-1zM221 566h1v1h-1zM226 566h1v1h-1zM231 566h1v1h-1zM236 566h1v1h-1zM241 566h1v1h-1zM246 566h1v1h-1zM251 566h1v1h-1zM256 566h1v1h-1zM261 566h1v1h-1zM266 566h1v1h-1zM271 566h1v1h-1zM276 566h1v1h-1zM281 566h1v1h-1zM286 566h1v1h-1zM291 566h1v1h-1zM296 566h1v1h-1zM301 566h1v1h-1zM306 566h1v1h-1zM311 566h1v1h-1zM316 566h1v1h-1zM321 566h1v1h-1zM326 566h1v1h-1zM331 566h1v1h-1zM336 566h1v1h-1zM341 566h1v1h-1zM346 566h1v1h-1zM351 566h1v1h-1zM356 566h1v1h-1zM361 566h1v1h-1zM366 566h1v1h-1zM371 566h1v1h-1zM376 566h1v1h-1zM381 566h1v1h-1zM386 566h1v1h-1zM391 566h1v1h-1zM396 566h1v1h-1zM401 566h1v1h-1zM406 566h1v1h-1zM411 566h1v1h-1zM416 566h1v1h-1zM421 566h1v1h-1zM426 566h1v1h-1zM431 566h1v1h-1zM436 566h1v1h-1zM441 566h1v1h-1zM446 566h1v1h-1zM451 566h1v1h-1zM456 566h1v1h-1zM461 566h1v1h-1zM466 566h1v1h-1zM471 566h1v1h-1zM476 566h1v1h-1zM481 566h1v1h-1zM486 566h1v1h-1zM491 566h1v1h-1zM496 566h1v1h-1zM501 566h1v1h-1zM506 566h1v1h-1zM511 566h1v1h-1zM516 566h1v1h-1zM521 566h1v1h-1zM526 566h1v1h-1zM531 566h1v1h-1zM536 566h1v1h-1zM541 566h1v1h-1zM546 566h1v1h-1zM551 566h1v1h-1zM556 566h1v1h-1zM561 566h1v1h-1zM566 566h1v1h-1zM571 566h1v1h-1zM576 566h1v1h-1zM581 566h1v1h-1zM586 566h1v1h-1zM591 566h1v1h-1zM596 566h1v1h-1zM601 566h1v1h-1zM606 566h1v1h-1zM611 566h1v1h-1zM616 566h1v1h-1zM621 566h1v1h-1zM626 566h1v1h-1zM631 566h1v1h-1zM636 566h1v1h-1zM641 566h1v1h-1zM646 566h1v1h-1zM651 566h1v1h-1zM656 566h1v1h-1zM661 566h1v1h-1zM666 566h1v1h-1zM671 566h1v1h-1zM676 566h1v1h-1zM681 566h1v1h-1zM686 566h1v1h-1zM691 566h1v1h-1zM696 566h1v1h-1zM701 566h1v1h-1zM706 566h1v1h-1zM711 566h1v1h-1zM716 566h1v1h-1zM721 566h1v1h-1zM726 566h1v1h-1zM731 566h1v1h-1zM736 566h1v1h-1zM741 566h1v1h-1zM746 566h1v1h-1zM751 566h1v1h-1zM756 566h1v1h-1zM761 566h1v1h-1zM766 566h1v1h-1zM771 566h1v1h-1zM776 566h1v1h-1zM781 566h1v1h-1zM786 566h1v1h-1zM791 566h1v1h-1zM796 566h1v1h-1zM801 566h1v1h-1zM806 566h1v1h-1zM811 566h1v1h-1zM816 566h1v1h-1zM821 566h1v1h-1zM826 566h1v1h-1zM831 566h1v1h-1zM836 566h1v1h-1zM841 566h1v1h-1zM846 566h1v1h-1zM851 566h1v1h-1zM856 566h1v1h-1zM861 566h1v1h-1zM866 566h1v1h-1zM871 566h1v1h-1zM876 566h1v1h-1zM881 566h1v1h-1zM886 566h1v1h-1zM891 566h1v1h-1zM896 566h1v1h-1zM901 566h1v1h-1zM906 566h1v1h-1zM911 566h1v1h-1zM916 566h1v1h-1zM921 566h1v1h-1zM926 566h1v1h-1zM931 566h1v1h-1zM936 566h1v1h-1zM941 566h1v1h-1zM946 566h1v1h-1zM951 566h1v1h-1zM956 566h1v1h-1zM961 566h1v1h-1zM966 566h1v1h-1zM971 566h1v1h-1zM976 566h1v1h-1zM981 566h1v1h-1zM986 566h1v1h-1zM991 566h1v1h-1zM996 566h1v1h-1zM1001 566h1v1h-1zM1006 566h1v1h-1zM1011 566h1v1h-1zM1016 566h1v1h-1zM1021 566h1v1h-1zM6 623h1v1h-1zM11 623h1v1h-1zM16 623h1v1h-1zM21 623h1v1h-1zM26 623h1v1h-1zM31 623h1v1h-1zM36 623h1v1h-1zM41 623h1v1h-1zM46 623h1v1h-1zM51 623h1v1h-1zM56 623h1v1h-1zM61 623h1v1h-1zM66 623h1v1h-1zM71 623h1v1h-1zM76 623h1v1h-1zM81 623h1v1h-1zM86 623h1v1h-1zM91 623h1v1h-1zM96 623h1v1h-1zM101 623h1v1h-1zM106 623h1v1h-1zM111 623h1v1h-1zM116 623h1v1h-1zM121 623h1v1h-1zM126 623h1v1h-1zM131 623h1v1h-1zM136 623h1v1h-1zM141 623h1v1h-1zM146 623h1v1h-1zM151 623h1v1h-1zM156 623h1v1h-1zM161 623h1v1h-1zM166 623h1v1h-1zM171 623h1v1h-1zM176 623h1v1h-1zM181 623h1v1h-1zM186 623h1v1h-1zM191 623h1v1h-1zM196 623h1v1h-1zM201 623h1v1h-1zM206 623h1v1h-1zM211 623h1v1h-1zM216 623h1v1h-1zM221 623h1v1h-1zM226 623h1v1h-1zM231 623h1v1h-1zM236 623h1v1h-1zM241 623h1v1h-1zM246 623h1v1h-1zM251 623h1v1h-1zM256 623h1v1h-1zM261 623h1v1h-1zM266 623h1v1h-1zM271 623h1v1h-1zM276 623h1v1h-1zM281 623h1v1h-1zM286 623h1v1h-1zM291 623h1v1h-1zM296 623h1v1h-1zM301 623h1v1h-1zM306 623h1v1h-1zM311 623h1v1h-1zM316 623h1v1h-1zM321 623h1v1h-1zM326 623h1v1h-1zM331 623h1v1h-1zM336 623h1v1h-1zM341 623h1v1h-1zM346 623h1v1h-1zM351 623h1v1h-1zM356 623h1v1h-1zM361 623h1v1h-1zM366 623h1v1h-1zM371 623h1v1h-1zM376 623h1v1h-1zM381 623h1v1h-1zM386 623h1v1h-1zM391 623h1v1h-1zM396 623h1v1h-1zM401 623h1v1h-1zM406 623h1v1h-1zM411 623h1v1h-1zM416 623h1v1h-1zM421 623h1v1h-1zM426 623h1v1h-1zM431 623h1v1h-1zM436 623h1v1h-1zM441 623h1v1h-1zM446 623h1v1h-1zM451 623h1v1h-1zM456 623h1v1h-1zM461 623h1v1h-1zM466 623h1v1h-1zM471 623h1v1h-1zM476 623h1v1h-1zM481 623h1v1h-1zM486 623h1v1h-1zM491 623h1v1h-1zM496 623h1v1h-1zM501 623h1v1h-1zM506 623h1v1h-1zM511 623h1v1h-1zM516 623h1v1h-1zM521 623h1v1h-1zM526 623h1v1h-1zM531 623h1v1h-1zM536 623h1v1h-1zM541 623h1v1h-1zM546 623h1v1h-1zM551 623h1v1h-1zM556 623h1v1h-1zM561 623h1v1h-1zM566 623h1v1h-1zM571 623h1v1h-1zM576 623h1v1h-1zM581 623h1v1h-1zM586 623h1v1h-1zM591 623h1v1h-1zM596 623h1v1h-1zM601 623h1v1h-1zM606 623h1v1h-1zM611 623h1v1h-1zM616 623h1v1h-1zM621 623h1v1h-1zM626 623h1v1h-1zM631 623h1v1h-1zM636 623h1v1h-1zM641 623h1v1h-1zM646 623h1v1h-1zM651 623h1v1h-1zM656 623h1v1h-1zM661 623h1v1h-1zM666 623h1v1h-1zM671 623h1v1h-1zM676 623h1v1h-1zM681 623h1v1h-1zM686 623h1v1h-1zM691 623h1v1h-1zM696 623h1v1h-1zM701 623h1v1h-1zM706 623h1v1h-1zM711 623h1v1h-1zM716 623h1v1h-1zM721 623h1v1h-1zM726 623h1v1h-1zM731 623h1v1h-1zM736 623h1v1h-1zM741 623h1v1h-1zM746 623h1v1h-1zM751 623h1v1h-1zM756 623h1v1h-1zM761 623h1v1h-1zM766 623h1v1h-1zM771 623h1v1h-1zM776 623h1v1h-1zM781 623h1v1h-1zM786 623h1v1h-1zM791 623h1v1h-1zM796 623h1v1h-1zM801 623h1v1h-1zM806 623h1v1h-1zM811 623h1v1h-1zM816 623h1v1h-1zM821 623h1v1h-1zM826 623h1v1h-1zM831 623h1v1h-1zM836 623h1v1h-1zM841 623h1v1h-1zM846 623h1v1h-1zM851 623h1v1h-1zM856 623h1v1h-1zM861 623h1v1h-1zM866 623h1v1h-1zM871 623h1v1h-1zM876 623h1v1h-1zM881 623h1v1h-1zM886 623h1v1h-1zM891 623h1v1h-1zM896 623h1v1h-1zM901 623h1v1h-1zM906 623h1v1h-1zM911 623h1v1h-1zM916 623h1v1h-1zM921 623h1v1h-1zM926 623h1v1h-1zM931 623h1v1h-1zM936 623h1v1h-1zM941 623h1v1h-1zM946 623h1v1h-1zM951 623h1v1h-1zM956 623h1v1h-1zM961 623h1v1h-1zM966 623h1v1h-1zM971 623h1v1h-1zM976 623h1v1h-1zM981 623h1v1h-1zM986 623h1v1h-1zM991 623h1v1h-1zM996 623h1v1h-1zM1001 623h1v1h-1zM1006 623h1v1h-1zM1011 623h1v1h-1zM1016 623h1v1h-1zM1021 623h1v1h-1zM66 595h1v1h-1zM141 595h1v1h-1zM216 595h1v1h-1zM291 595h1v1h-1zM351 595h1v1h-1zM411 595h1v1h-1zM486 595h1v1h-1zM561 595h1v1h-1zM606 595h1v1h-1zM681 595h1v1h-1zM756 595h1v1h-1zM831 595h1v1h-1zM906 595h1v1h-1zM66 652h1v1h-1zM141 652h1v1h-1zM216 652h1v1h-1zM291 652h1v1h-1zM351 652h1v1h-1zM411 652h1v1h-1zM486 652h1v1h-1zM561 652h1v1h-1zM606 652h1v1h-1zM681 652h1v1h-1zM756 652h1v1h-1zM831 652h1v1h-1zM906 652h1v1h-1zM291 534h1v1h-1zM291 538h1v1h-1zM291 542h1v1h-1zM291 546h1v1h-1zM291 550h1v1h-1zM291 554h1v1h-1zM291 558h1v1h-1zM291 562h1v1h-1zM291 566h1v1h-1zM291 570h1v1h-1zM291 574h1v1h-1zM291 578h1v1h-1zM291 582h1v1h-1zM291 586h1v1h-1zM291 590h1v1h-1zM291 594h1v1h-1zM291 598h1v1h-1zM291 602h1v1h-1zM291 606h1v1h-1zM291 610h1v1h-1zM291 614h1v1h-1zM291 618h1v1h-1zM291 622h1v1h-1zM291 626h1v1h-1zM291 630h1v1h-1zM291 634h1v1h-1zM291 638h1v1h-1zM291 642h1v1h-1zM291 646h1v1h-1zM291 650h1v1h-1zM291 654h1v1h-1zM291 658h1v1h-1zM291 662h1v1h-1zM291 666h1v1h-1zM291 670h1v1h-1zM291 674h1v1h-1zM291 678h1v1h-1zM576 534h1v1h-1zM576 538h1v1h-1zM576 542h1v1h-1zM576 546h1v1h-1zM576 550h1v1h-1zM576 554h1v1h-1zM576 558h1v1h-1zM576 562h1v1h-1zM576 566h1v1h-1zM576 570h1v1h-1zM576 574h1v1h-1zM576 578h1v1h-1zM576 582h1v1h-1zM576 586h1v1h-1zM576 590h1v1h-1zM576 594h1v1h-1zM576 598h1v1h-1zM576 602h1v1h-1zM576 606h1v1h-1zM576 610h1v1h-1zM576 614h1v1h-1zM576 618h1v1h-1zM576 622h1v1h-1zM576 626h1v1h-1zM576 630h1v1h-1zM576 634h1v1h-1zM576 638h1v1h-1zM576 642h1v1h-1zM576 646h1v1h-1zM576 650h1v1h-1zM576 654h1v1h-1zM576 658h1v1h-1zM576 662h1v1h-1zM576 666h1v1h-1zM576 670h1v1h-1zM576 674h1v1h-1zM576 678h1v1h-1zM891 534h1v1h-1zM891 538h1v1h-1zM891 542h1v1h-1zM891 546h1v1h-1zM891 550h1v1h-1zM891 554h1v1h-1zM891 558h1v1h-1zM891 562h1v1h-1zM891 566h1v1h-1zM891 570h1v1h-1zM891 574h1v1h-1zM891 578h1v1h-1zM891 582h1v1h-1zM891 586h1v1h-1zM891 590h1v1h-1zM891 594h1v1h-1zM891 598h1v1h-1zM891 602h1v1h-1zM891 606h1v1h-1zM891 610h1v1h-1zM891 614h1v1h-1zM891 618h1v1h-1zM891 622h1v1h-1zM891 626h1v1h-1zM891 630h1v1h-1zM891 634h1v1h-1zM891 638h1v1h-1zM891 642h1v1h-1zM891 646h1v1h-1zM891 650h1v1h-1zM891 654h1v1h-1zM891 658h1v1h-1zM891 662h1v1h-1zM891 666h1v1h-1zM891 670h1v1h-1zM891 674h1v1h-1zM891 678h1v1h-1z"/>
<rect x="6" y="679" width="1" height="2" fill="#ff0000" />
<rect x="11" y="679" width="1" height="2" fill="#ff0000" />
<rect x="16" y="678" width="1" height="3" fill="#ff0000" />
<rect x="21" y="680" width="1" height="1" fill="#0000ff" />
<rect x="26" y="680" width="1" height="1" fill="#0000ff" />
<rect x="46" y="678" width="1" height="3" fill="#0000ff" />
<rect x="51" y="680" width="1" height="1" fill="#ff0000" />
<rect x="56" y="680" width="1" height="1" fill="#ff0000" />
<rect x="61" y="680" width="1" height="1" fill="#0000ff" />
<rect x="71" y="676" width="1" height="5" fill="#0000ff" />
<rect x="76" y="673" width="1" height="8" fill="#0000ff" />
<rect x="81" y="671" width="1" height="10" fill="#0000ff" />
<rect x="86" y="665" width="1" height="16" fill="#0000ff" />
<rect x="91" y="660" width="1" height="21" fill="#0000ff" />
<rect x="96" y="653" width="1" height="28" fill="#0000ff" />
<rect x="101" y="649" width="1" height="32" fill="#0000ff" />
<rect x="106" y="644" width="1" height="37" fill="#0000ff" />
<rect x="111" y="641" width="1" height="40" fill="#0000ff" />
<rect x="116" y="637" width="1" height="44" fill="#0000ff" />
<rect x="121" y="632" width="1" height="49" fill="#0000ff" />
<rect x="126" y="623" width="1" height="58" fill="#0000ff" />
<rect x="131" y="676" width="1" height="5" fill="#ff0000" />
<rect x="136" y="668" width="1" height="13" fill="#ff0000" />
<rect x="141" y="663" width="1" height="18" fill="#ff0000" />
<rect x="146" y="661" width="1" height="20" fill="#ff0000" />
<rect x="151" y="657" width="1" height="24" fill="#ff0000" />
<rect x="156" y="653" width="1" height="28" fill="#ff0000" />
<rect x="161" y="648" width="1" height="33" fill="#ff0000" />
<rect x="166" y="644" width="1" height="37" fill="#ff0000" />
<rect x="171" y="639" width="1" height="42" fill="#ff0000" />
<rect x="176" y="633" width="1" height="48" fill="#ff0000" />
<rect x="181" y="629" width="1" height="52" fill="#ff0000" />
<rect x="186" y="621" width="1" height="60" fill="#ff0000" />
<rect x="191" y="617" width="1" height="64" fill="#ff0000" />
<rect x="196" y="610" width="1" height="71" fill="#ff0000" />
<rect x="201" y="601" width="1" height="80" fill="#ff0000" />
<rect x="211" y="671" width="1" height="10" fill="#0000ff" />
<rect x="216" y="664" width="1" height="17" fill="#0000ff" />
<rect x="221" y="657" width="1" height="24" fill="#0000ff" />
<rect x="226" y="655" width="1" height="26" fill="#0000ff" />
<rect x="231" y="646" width="1" height="35" fill="#0000ff" />
<rect x="236" y="643" width="1" height="38" fill="#0000ff" />
<rect x="241" y="639" width="1" height="42" fill="#0000ff" />
<rect x="246" y="673" width="1" height="8" fill="#ff0000" />
<rect x="251" y="669" width="1" height="12" fill="#ff0000" />
<rect x="256" y="664" width="1" height="17" fill="#ff0000" />
<rect x="261" y="652" width="1" height="29" fill="#ff0000" />
<rect x="266" y="645" width="1" height="36" fill="#ff0000" />
<rect x="271" y="678" width="1" height="3" fill="#0000ff" />
<rect x="276" y="672" width="1" height="9" fill="#0000ff" />
<rect x="281" y="677" width="1" height="4" fill="#ff0000" />
<rect x="286" y="669" width="1" height="12" fill="#ff0000" />
<rect x="291" y="660" width="1" height="21" fill="#ff0000" />
<rect x="296" y="655" width="1" height="26" fill="#ff0000" />
<rect x="301" y="674" width="1" height="7" fill="#0000ff" />
<rect x="306" y="669" width="1" height="12" fill="#0000ff" />
<rect x="311" y="664" width="1" height="17" fill="#0000ff" />
<rect x="316" y="677" width="1" height="4" fill="#ff0000" />
<rect x="321" y="670" width="1" height="11" fill="#ff0000" />
<rect x="326" y="663" width="1" height="18" fill="#ff0000" />
<rect x="331" y="659" width="1" height="22" fill="#ff0000" />
<rect x="336" y="652" width="1" height="29" fill="#ff0000" />
<rect x="341" y="675" width="1" height="6" fill="#0000ff" />
<rect x="346" y="672" width="1" height="9" fill="#0000ff" />
<rect x="351" y="675" width="1" height="6" fill="#ff0000" />
<rect x="356" y="673" width="1" height="8" fill="#ff0000" />
<rect x="361" y="665" width="1" height="16" fill="#ff0000" />
<rect x="366" y="670" width="1" height="11" fill="#0000ff" />
<rect x="371" y="663" width="1" height="18" fill="#0000ff" />
<rect x="376" y="662" width="1" height="19" fill="#0000ff" />
<rect x="381" y="662" width="1" height="19" fill="#0000ff" />
<rect x="386" y="645" width="1" height="36" fill="#0000ff" />
<rect x="391" y="639" width="1" height="42" fill="#0000ff" />
<rect x="396" y="675" width="1" height="6" fill="#ff0000" />
<rect x="401" y="670" width="1" height="11" fill="#ff0000" />
<rect x="406" y="665" width="1" height="16" fill="#ff0000" />
<rect x="411" y="672" width="1" height="9" fill="#0000ff" />
<rect x="416" y="664" width="1" height="17" fill="#0000ff" />
<rect x="421" y="658" width="1" height="23" fill="#0000ff" />
<rect x="426" y="647" width="1" height="34" fill="#0000ff" />
<rect x="431" y="641" width="1" height="40" fill="#0000ff" />
<rect x="436" y="635" width="1" height="46" fill="#0000ff" />
<rect x="441" y="670" width="1" height="11" fill="#ff0000" />
<rect x="446" y="657" width="1" height="24" fill="#ff0000" />
<rect x="451" y="649" width="1" height="32" fill="#ff0000" />
<rect x="456" y="639" width="1" height="42" fill="#ff0000" />
<rect x="461" y="627" width="1" height="54" fill="#ff0000" />
<rect x="466" y="627" width="1" height="54" fill="#ff0000" />
<rect x="471" y="606" width="1" height="75" fill="#ff0000" />
<rect x="476" y="594" width="1" height="87" fill="#ff0000" />
<rect x="481" y="589" width="1" height="92" fill="#ff0000" />
<rect x="486" y="575" width="1" height="106" fill="#ff0000" />
<rect x="491" y="565" width="1" height="116" fill="#ff0000" />
<rect x="496" y="559" width="1" height="122" fill="#ff0000" />
<rect x="501" y="552" width="1" height="129" fill="#ff0000" />
<rect x="506" y="542" width="1" height="139" fill="#ff0000" />
<rect x="511" y="675" width="1" height="6" fill="#0000ff" />
<rect x="516" y="668" width="1" height="13" fill="#0000ff" />
<rect x="521" y="657" width="1" height="24" fill="#0000ff" />
<rect x="526" y="652" width="1" height="29" fill="#0000ff" />
<rect x="531" y="643" width="1" height="38" fill="#0000ff" />
<rect x="536" y="638" width="1" height="43" fill="#0000ff" />
<rect x="541" y="636" width="1" height="45" fill="#0000ff" />
<rect x="546" y="627" width="1" height="54" fill="#0000ff" />
<rect x="551" y="622" width="1" height="59" fill="#0000ff" />
<rect x="556" y="617" width="1" height="64" fill="#0000ff" />
<rect x="561" y="615" width="1" height="66" fill="#0000ff" />
<rect x="566" y="612" width="1" height="69" fill="#0000ff" />
<rect x="571" y="610" width="1" height="71" fill="#0000ff" />
<rect x="576" y="606" width="1" height="75" fill="#0000ff" />
<rect x="581" y="677" width="1" height="4" fill="#ff0000" />
<rect x="586" y="674" width="1" height="7" fill="#ff0000" />
<rect x="591" y="669" width="1" height="12" fill="#ff0000" />
<rect x="596" y="665" width="1" height="16" fill="#ff0000" />
<rect x="601" y="662" width="1" height="19" fill="#ff0000" />
<rect x="606" y="652" width="1" height="29" fill="#ff0000" />
<rect x="611" y="671" width="1" height="10" fill="#0000ff" />
<rect x="616" y="665" width="1" height="16" fill="#0000ff" />
<rect x="621" y="672" width="1" height="9" fill="#ff0000" />
<rect x="626" y="665" width="1" height="16" fill="#ff0000" />
<rect x="631" y="656" width="1" height="25" fill="#ff0000" />
<rect x="636" y="646" width="1" height="35" fill="#ff0000" />
<rect x="641" y="634" width="1" height="47" fill="#ff0000" />
<rect x="646" y="672" width="1" height="9" fill="#0000ff" />
<rect x="651" y="663" width="1" height="18" fill="#0000ff" />
<rect x="656" y="656" width="1" height="25" fill="#0000ff" />
<rect x="661" y="676" width="1" height="5" fill="#ff0000" />
<rect x="666" y="668" width="1" height="13" fill="#ff0000" />
<rect x="671" y="663" width="1" height="18" fill="#ff0000" />
<rect x="676" y="659" width="1" height="22" fill="#ff0000" />
<rect x="681" y="647" width="1" height="34" fill="#ff0000" />
<rect x="686" y="640" width="1" height="41" fill="#ff0000" />
<rect x="691" y="635" width="1" height="46" fill="#ff0000" />
<rect x="696" y="625" width="1" height="56" fill="#ff0000" />
<rect x="701" y="615" width="1" height="66" fill="#ff0000" />
<rect x="706" y="610" width="1" height="71" fill="#ff0000" />
<rect x="711" y="594" width="1" height="87" fill="#ff0000" />
<rect x="716" y="670" width="1" height="11" fill="#0000ff" />
<rect x="721" y="659" width="1" height="22" fill="#0000ff" />
<rect x="726" y="670" width="1" height="11" fill="#ff0000" />
<rect x="731" y="651" width="1" height="30" fill="#ff0000" />
<rect x="736" y="642" width="1" height="39" fill="#ff0000" />
<rect x="741" y="629" width="1" height="52" fill="#ff0000" />
<rect x="746" y="671" width="1" height="10" fill="#0000ff" />
<rect x="751" y="666" width="1" height="15" fill="#0000ff" />
<rect x="756" y="657" width="1" height="24" fill="#0000ff" />
<rect x="761" y="652" width="1" height="29" fill="#0000ff" />
<rect x="766" y="648" width="1" height="33" fill="#0000ff" />
<rect x="771" y="638" width="1" height="43" fill="#0000ff" />
<rect x="776" y="631" width="1" height="50" fill="#0000ff" />
<rect x="781" y="625" width="1" height="56" fill="#0000ff" />
<rect x="786" y="612" width="1" height="69" fill="#0000ff" />
<rect x="791" y="605" width="1" height="76" fill="#0000ff" />
<rect x="796" y="671" width="1" height="10" fill="#ff0000" />
<rect x="801" y="655" width="1" height="26" fill="#ff0000" />
<rect x="806" y="668" width="1" height="13" fill="#0000ff" />
<rect x="811" y="663" width="1" height="18" fill="#0000ff" />
<rect x="816" y="654" width="1" height="27" fill="#0000ff" />
<rect x="821" y="641" width="1" height="40" fill="#0000ff" />
<rect x="826" y="636" width="1" height="45" fill="#0000ff" />
<rect x="831" y="629" width="1" height="52" fill="#0000ff" />
<rect x="836" y="627" width="1" height="54" fill="#0000ff" />
<rect x="841" y="678" width="1" height="3" fill="#ff0000" />
<rect x="846" y="668" width="1" height="13" fill="#ff0000" />
<rect x="851" y="673" width="1" height="8" fill="#0000ff" />
<rect x="856" y="666" width="1" height="15" fill="#0000ff" />
<rect x="861" y="654" width="1" height="27" fill="#0000ff" />
<rect x="866" y="639" width="1" height="42" fill="#0000ff" />
<rect x="871" y="634" width="1" height="47" fill="#0000ff" />
<rect x="876" y="623" width="1" height="58" fill="#0000ff" />
<rect x="881" y="616" width="1" height="65" fill="#0000ff" />
<rect x="886" y="611" width="1" height="70" fill="#0000ff" />
<rect x="891" y="667" width="1" height="14" fill="#ff0000" />
<rect x="896" y="654" width="1" height="27" fill="#ff0000" />
<rect x="901" y="674" width="1" height="7" fill="#0000ff" />
<rect x="906" y="657" width="1" height="24" fill="#0000ff" />
<rect x="206" y="534" width="1" height="147" fill="#ff0000" />
<rect x="206" y="676" width="1" height="5" fill="#00ff00" />
</g>
</g>
<text x="131.5" y="617.3" font-family='"Liberation Sans",sans-serif' font-size="10.5" font-weight="normal" font-style="normal" fill="#0000ff" text-anchor="start" textLength="30.5" lengthAdjust="spacingAndGlyphs" >107.8k</text>
<text x="207.3" y="589.5" font-family='"Liberation Sans",sans-serif' font-size="10.5" font-weight="normal" font-style="normal" fill="#ff0000" text-anchor="start" textLength="29.7" lengthAdjust="spacingAndGlyphs" >148.4k</text>
<text x="248.6" y="631.2" font-family='"Liberation Sans",sans-serif' font-size="10.5" font-weight="normal" font-style="normal" fill="#0000ff" text-anchor="start" textLength="25.4" lengthAdjust="spacingAndGlyphs" >87.0k</text>
<text x="273.5" y="645" font-family='"Liberation Sans",sans-serif' font-size="10.5" font-weight="normal" font-style="normal" fill="#ff0000" text-anchor="start" textLength="25.5" lengthAdjust="spacingAndGlyphs" >66.8k</text>
<text x="303.8" y="652.4" font-family='"Liberation Sans",sans-serif' font-size="10.5" font-weight="normal" font-style="normal" fill="#ff0000" text-anchor="start" textLength="25.5" lengthAdjust="spacingAndGlyphs" >56.1k</text>
<text x="343.7" y="649" font-family='"Liberation Sans",sans-serif' font-size="10.5" font-weight="normal" font-style="normal" fill="#ff0000" text-anchor="start" textLength="25.6" lengthAdjust="spacingAndGlyphs" >60.3k</text>
<rect x="368" y="650.3" width="27" height="11" fill="#fff"/>
<text x="369" y="659.3" font-family='"Liberation Sans",sans-serif' font-size="10.5" font-weight="normal" font-style="normal" fill="#ff0000" text-anchor="start" textLength="25" lengthAdjust="spacingAndGlyphs" >46.3k</text>
<text x="398.6" y="634.2" font-family='"Liberation Sans",sans-serif' font-size="10.5" font-weight="normal" font-style="normal" fill="#0000ff" text-anchor="start" textLength="25.6" lengthAdjust="spacingAndGlyphs" >81.8k</text>
<rect x="442.7" y="615.4" width="27.5" height="11" fill="#fff"/>
<text x="443.7" y="624.4" font-family='"Liberation Sans",sans-serif' font-size="10.5" font-weight="normal" font-style="normal" fill="#0000ff" text-anchor="start" textLength="25.5" lengthAdjust="spacingAndGlyphs" >97.5k</text>
<text x="581.6" y="597.3" font-family='"Liberation Sans",sans-serif' font-size="10.5" font-weight="normal" font-style="normal" fill="#0000ff" text-anchor="start" textLength="30.4" lengthAdjust="spacingAndGlyphs" >136.6k</text>
<rect x="647.6" y="615.4" width="27.399999999999977" height="11" fill="#fff"/>
<text x="648.6" y="624.4" font-family='"Liberation Sans",sans-serif' font-size="10.5" font-weight="normal" font-style="normal" fill="#ff0000" text-anchor="start" textLength="25.4" lengthAdjust="spacingAndGlyphs" >96.4k</text>
<rect x="716" y="565.4" width="32" height="11" fill="#fff"/>
<text x="717" y="574.4" font-family='"Liberation Sans",sans-serif' font-size="10.5" font-weight="normal" font-style="normal" fill="#ff0000" text-anchor="start" textLength="30" lengthAdjust="spacingAndGlyphs" >169.9k</text>
<text x="747.1" y="617.2" font-family='"Liberation Sans",sans-serif' font-size="10.5" font-weight="normal" font-style="normal" fill="#ff0000" text-anchor="start" textLength="29.9" lengthAdjust="spacingAndGlyphs" >107.8k</text>
<text x="797" y="589" font-family='"Liberation Sans",sans-serif' font-size="10.5" font-weight="normal" font-style="normal" fill="#0000ff" text-anchor="start" textLength="30" lengthAdjust="spacingAndGlyphs" >147.8k</text>
<rect x="842.7" y="614.4" width="27.5" height="11" fill="#fff"/>
<text x="843.7" y="623.4" font-family='"Liberation Sans",sans-serif' font-size="10.5" font-weight="normal" font-style="normal" fill="#0000ff" text-anchor="start" textLength="25.5" lengthAdjust="spacingAndGlyphs" >98.8k</text>
<text x="891.7" y="591.5" font-family='"Liberation Sans",sans-serif' font-size="10.5" font-weight="normal" font-style="normal" fill="#0000ff" text-anchor="start" textLength="30.3" lengthAdjust="spacingAndGlyphs" >145.4k</text>
<g shape-rendering="crispEdges">
<rect x="1032" y="2" width="1" height="695" fill="#000" />
<rect x="2" y="681" width="1030" height="16" fill="#d4d0c8" />
<rect x="34" y="681" width="998" height="1" fill="#000" />
<rect x="41" y="696" width="464" height="1" fill="#000" />
</g>
<g shape-rendering="crispEdges">
<rect x="2" y="681" width="32" height="16" fill="#d4d0c8" />
<rect x="2" y="681" width="16" height="15" fill="#d4d0c8" />
<rect x="2" y="681" width="16" height="1" fill="#fff" />
<rect x="2" y="681" width="1" height="15" fill="#fff" />
<rect x="3" y="694" width="14" height="1" fill="#808080" />
<rect x="16" y="682" width="1" height="13" fill="#808080" />
<rect x="2" y="695" width="16" height="1" fill="#404040" />
<rect x="17" y="681" width="1" height="15" fill="#404040" />
<rect x="18" y="681" width="16" height="15" fill="#d4d0c8" />
<rect x="18" y="681" width="16" height="1" fill="#fff" />
<rect x="18" y="681" width="1" height="15" fill="#fff" />
<rect x="19" y="694" width="14" height="1" fill="#808080" />
<rect x="32" y="682" width="1" height="13" fill="#808080" />
<rect x="18" y="695" width="16" height="1" fill="#404040" />
<rect x="33" y="681" width="1" height="15" fill="#404040" />
</g>
<path d="M11.5 684.5v7l-4-3.5z M22.5 684.5v7l4-3.5z" fill="#000"/>
<path d="M500 682L507 697H592L599 682z" fill="#fff"/>
<path d="M34.5 681.5L41.5 696.5" stroke="#000" stroke-width="1" fill="none"/>
<text x="44" y="692.8" font-family='"Liberation Sans",sans-serif' font-size="11.8" font-weight="normal" font-style="normal" fill="#000" text-anchor="start" textLength="129.5" lengthAdjust="spacingAndGlyphs" >Volume, Stochastic(8(3),5)</text>
<path d="M175.5 681.5L182.5 696.5" stroke="#000" stroke-width="1" fill="none"/>
<path d="M178.6 690.5L176.6 696.5" stroke="#000" stroke-width="1" fill="none"/>
<text x="184" y="692.8" font-family='"Liberation Sans",sans-serif' font-size="11.8" font-weight="normal" font-style="normal" fill="#000" text-anchor="start" textLength="45" lengthAdjust="spacingAndGlyphs" >RSI(14,C)</text>
<path d="M231.5 681.5L238.5 696.5" stroke="#000" stroke-width="1" fill="none"/>
<path d="M234.6 690.5L232.6 696.5" stroke="#000" stroke-width="1" fill="none"/>
<text x="239.5" y="692.8" font-family='"Liberation Sans",sans-serif' font-size="11.8" font-weight="normal" font-style="normal" fill="#000" text-anchor="start" textLength="83.0" lengthAdjust="spacingAndGlyphs" >MACD(12,26,9,C)</text>
<path d="M324.5 681.5L331.5 696.5" stroke="#000" stroke-width="1" fill="none"/>
<path d="M327.6 690.5L325.6 696.5" stroke="#000" stroke-width="1" fill="none"/>
<text x="334" y="692.8" font-family='"Liberation Sans",sans-serif' font-size="11.8" font-weight="normal" font-style="normal" fill="#000" text-anchor="start" textLength="77" lengthAdjust="spacingAndGlyphs" >Volume with MA</text>
<path d="M413.5 681.5L420.5 696.5" stroke="#000" stroke-width="1" fill="none"/>
<path d="M416.6 690.5L414.6 696.5" stroke="#000" stroke-width="1" fill="none"/>
<text x="423" y="692.8" font-family='"Liberation Sans",sans-serif' font-size="11.8" font-weight="normal" font-style="normal" fill="#000" text-anchor="start" textLength="74" lengthAdjust="spacingAndGlyphs" >Volume TriColor</text>
<path d="M500.5 681.5L507.5 696.5" stroke="#000" stroke-width="1" fill="none"/>
<path d="M503.6 690.5L501.6 696.5" stroke="#000" stroke-width="1" fill="none"/>
<text x="508.5" y="692.8" font-family='"Liberation Sans",sans-serif' font-size="11.8" font-weight="normal" font-style="normal" fill="#000" text-anchor="start" textLength="79.5" lengthAdjust="spacingAndGlyphs" >Cum Vol Swings</text>
<path d="M592.5 696.5L599.5 681.5" stroke="#000" stroke-width="1" fill="none"/>
<g shape-rendering="crispEdges">
<rect x="66" y="697" width="1" height="2" fill="#000" />
<rect x="141" y="697" width="1" height="2" fill="#000" />
<rect x="216" y="697" width="1" height="2" fill="#000" />
<rect x="291" y="697" width="1" height="2" fill="#000" />
<rect x="351" y="697" width="1" height="2" fill="#000" />
<rect x="411" y="697" width="1" height="2" fill="#000" />
<rect x="486" y="697" width="1" height="2" fill="#000" />
<rect x="561" y="697" width="1" height="2" fill="#000" />
<rect x="606" y="697" width="1" height="2" fill="#000" />
<rect x="681" y="697" width="1" height="2" fill="#000" />
<rect x="756" y="697" width="1" height="2" fill="#000" />
<rect x="831" y="697" width="1" height="2" fill="#000" />
<rect x="906" y="697" width="1" height="2" fill="#000" />
</g>
<text x="66" y="710.6" font-family='"Liberation Sans",sans-serif' font-size="14" font-weight="bold" font-style="normal" fill="#000" text-anchor="start" textLength="31" lengthAdjust="spacingAndGlyphs" >03/12</text>
<text x="141" y="710.6" font-family='"Liberation Sans",sans-serif' font-size="14" font-weight="bold" font-style="normal" fill="#000" text-anchor="start" textLength="31" lengthAdjust="spacingAndGlyphs" >03/19</text>
<text x="216" y="710.6" font-family='"Liberation Sans",sans-serif' font-size="14" font-weight="bold" font-style="normal" fill="#000" text-anchor="start" textLength="31" lengthAdjust="spacingAndGlyphs" >03/26</text>
<text x="291" y="710.6" font-family='"Liberation Sans",sans-serif' font-size="14" font-weight="bold" font-style="normal" fill="#000" text-anchor="start" textLength="31" lengthAdjust="spacingAndGlyphs" >04/02</text>
<text x="351" y="710.6" font-family='"Liberation Sans",sans-serif' font-size="14" font-weight="bold" font-style="normal" fill="#000" text-anchor="start" textLength="31" lengthAdjust="spacingAndGlyphs" >04/10</text>
<text x="411" y="710.6" font-family='"Liberation Sans",sans-serif' font-size="14" font-weight="bold" font-style="normal" fill="#000" text-anchor="start" textLength="31" lengthAdjust="spacingAndGlyphs" >04/16</text>
<text x="486" y="710.6" font-family='"Liberation Sans",sans-serif' font-size="14" font-weight="bold" font-style="normal" fill="#000" text-anchor="start" textLength="31" lengthAdjust="spacingAndGlyphs" >04/23</text>
<text x="561" y="710.6" font-family='"Liberation Sans",sans-serif' font-size="14" font-weight="bold" font-style="normal" fill="#000" text-anchor="start" textLength="31" lengthAdjust="spacingAndGlyphs" >04/30</text>
<text x="606" y="710.6" font-family='"Liberation Sans",sans-serif' font-size="14" font-weight="bold" font-style="normal" fill="#000" text-anchor="start" textLength="31" lengthAdjust="spacingAndGlyphs" >05/07</text>
<text x="681" y="710.6" font-family='"Liberation Sans",sans-serif' font-size="14" font-weight="bold" font-style="normal" fill="#000" text-anchor="start" textLength="31" lengthAdjust="spacingAndGlyphs" >05/14</text>
<text x="756" y="710.6" font-family='"Liberation Sans",sans-serif' font-size="14" font-weight="bold" font-style="normal" fill="#000" text-anchor="start" textLength="31" lengthAdjust="spacingAndGlyphs" >05/21</text>
<text x="831" y="710.6" font-family='"Liberation Sans",sans-serif' font-size="14" font-weight="bold" font-style="normal" fill="#000" text-anchor="start" textLength="31" lengthAdjust="spacingAndGlyphs" >05/28</text>
<text x="906" y="710.6" font-family='"Liberation Sans",sans-serif' font-size="14" font-weight="bold" font-style="normal" fill="#000" text-anchor="start" textLength="31" lengthAdjust="spacingAndGlyphs" >06/04</text>
<text x="1033" y="66" font-family='"Liberation Sans",sans-serif' font-size="14" font-weight="bold" font-style="normal" fill="#000" text-anchor="start" textLength="45" lengthAdjust="spacingAndGlyphs" >2350.00</text>
<text x="1033" y="128" font-family='"Liberation Sans",sans-serif' font-size="14" font-weight="bold" font-style="normal" fill="#000" text-anchor="start" textLength="45" lengthAdjust="spacingAndGlyphs" >2300.00</text>
<text x="1033" y="191" font-family='"Liberation Sans",sans-serif' font-size="14" font-weight="bold" font-style="normal" fill="#000" text-anchor="start" textLength="45" lengthAdjust="spacingAndGlyphs" >2250.00</text>
<text x="1033" y="253" font-family='"Liberation Sans",sans-serif' font-size="14" font-weight="bold" font-style="normal" fill="#000" text-anchor="start" textLength="45" lengthAdjust="spacingAndGlyphs" >2200.00</text>
<text x="1033" y="316" font-family='"Liberation Sans",sans-serif' font-size="14" font-weight="bold" font-style="normal" fill="#000" text-anchor="start" textLength="45" lengthAdjust="spacingAndGlyphs" >2150.00</text>
<text x="1033" y="379" font-family='"Liberation Sans",sans-serif' font-size="14" font-weight="bold" font-style="normal" fill="#000" text-anchor="start" textLength="45" lengthAdjust="spacingAndGlyphs" >2100.00</text>
<text x="1033" y="441" font-family='"Liberation Sans",sans-serif' font-size="14" font-weight="bold" font-style="normal" fill="#000" text-anchor="start" textLength="45" lengthAdjust="spacingAndGlyphs" >2050.00</text>
<text x="1033" y="504" font-family='"Liberation Sans",sans-serif' font-size="14" font-weight="bold" font-style="normal" fill="#000" text-anchor="start" textLength="45" lengthAdjust="spacingAndGlyphs" >2000.00</text>
<rect x="1033" y="418" width="46" height="16" fill="#00ff00" shape-rendering="crispEdges"/>
<text x="1033.5" y="431" font-family='"Liberation Sans",sans-serif' font-size="14" font-weight="bold" font-style="normal" fill="#fff" text-anchor="start" textLength="45" lengthAdjust="spacingAndGlyphs" >2058.00</text>
<text x="1033.5" y="571" font-family='"Liberation Sans",sans-serif' font-size="14" font-weight="bold" font-style="normal" fill="#000" text-anchor="start" textLength="45" lengthAdjust="spacingAndGlyphs" >200,000</text>
<text x="1033.5" y="628.5" font-family='"Liberation Sans",sans-serif' font-size="14" font-weight="bold" font-style="normal" fill="#000" text-anchor="start" textLength="45" lengthAdjust="spacingAndGlyphs" >100,000</text>
<text x="1033.5" y="678" font-family='"Liberation Sans",sans-serif' font-size="14" font-weight="bold" font-style="normal" fill="#000" text-anchor="start" textLength="6.5" lengthAdjust="spacingAndGlyphs" >0</text>
<rect x="1033" y="650" width="40" height="15" fill="#0000ff" shape-rendering="crispEdges"/>
<text x="1033.5" y="662.5" font-family='"Liberation Sans",sans-serif' font-size="14" font-weight="bold" font-style="normal" fill="#fff" text-anchor="start" textLength="38.5" lengthAdjust="spacingAndGlyphs" >40,529</text>
<g shape-rendering="crispEdges">
<rect x="0" y="0" width="1084" height="1" fill="#808080" />
<rect x="0" y="1" width="1084" height="1" fill="#404040" />
<rect x="0" y="0" width="1" height="730" fill="#808080" />
<rect x="1" y="1" width="1" height="729" fill="#404040" />
<rect x="2" y="729" width="1081" height="1" fill="#d4d0c8" />
<rect x="1082" y="2" width="1" height="728" fill="#d4d0c8" />
<rect x="1083" y="0" width="1" height="731" fill="#fff" />
<rect x="0" y="730" width="1084" height="1" fill="#fff" />
</g>
</svg></body></html>
